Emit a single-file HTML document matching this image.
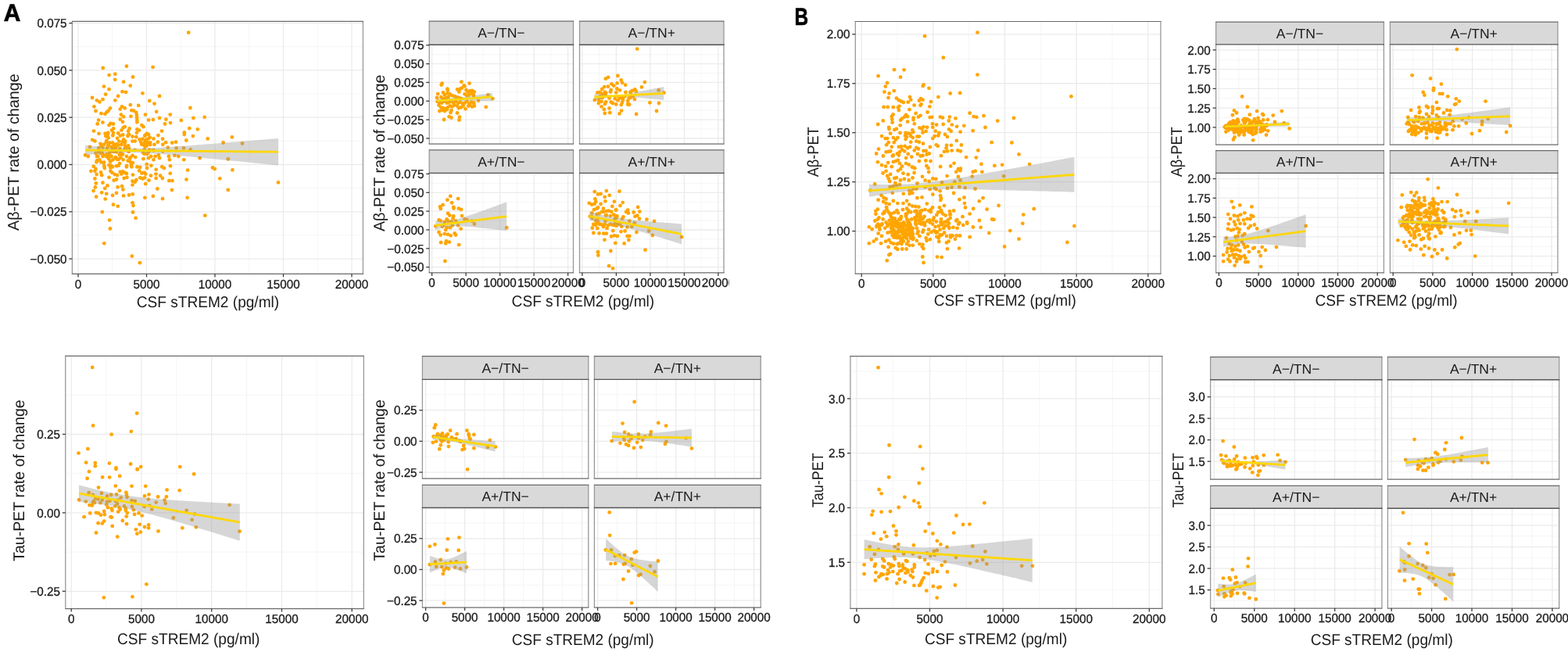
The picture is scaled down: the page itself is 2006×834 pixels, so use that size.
<!DOCTYPE html><html><head><meta charset="utf-8"><title>Figure</title><style>html,body{margin:0;padding:0;background:#fff;}body{width:2006px;height:834px;overflow:hidden;}</style></head><body><svg width="2006" height="834" viewBox="0 0 2006 834" font-family='"Liberation Sans", Arial, sans-serif' fill="#1a1a1a" style="display:block;text-rendering:geometricPrecision">
<rect width="2006" height="834" fill="#fff"/>
<clipPath id="c_A1"><rect x="92.4" y="27.3" width="372.00" height="323.10"/></clipPath>
<rect x="92.4" y="27.3" width="372.00" height="323.10" fill="#fff"/>
<g clip-path="url(#c_A1)"><line x1="143.75" y1="27.3" x2="143.75" y2="350.4" stroke="#f3f3f3" stroke-width="0.8"/><line x1="231.25" y1="27.3" x2="231.25" y2="350.4" stroke="#f3f3f3" stroke-width="0.8"/><line x1="318.75" y1="27.3" x2="318.75" y2="350.4" stroke="#f3f3f3" stroke-width="0.8"/><line x1="406.25" y1="27.3" x2="406.25" y2="350.4" stroke="#f3f3f3" stroke-width="0.8"/><line x1="92.4" y1="59.75" x2="464.4" y2="59.75" stroke="#f3f3f3" stroke-width="0.8"/><line x1="92.4" y1="120.05" x2="464.4" y2="120.05" stroke="#f3f3f3" stroke-width="0.8"/><line x1="92.4" y1="180.35" x2="464.4" y2="180.35" stroke="#f3f3f3" stroke-width="0.8"/><line x1="92.4" y1="240.65" x2="464.4" y2="240.65" stroke="#f3f3f3" stroke-width="0.8"/><line x1="92.4" y1="300.95" x2="464.4" y2="300.95" stroke="#f3f3f3" stroke-width="0.8"/><line x1="100.00" y1="27.3" x2="100.00" y2="350.4" stroke="#ebebeb" stroke-width="1.3"/><line x1="187.50" y1="27.3" x2="187.50" y2="350.4" stroke="#ebebeb" stroke-width="1.3"/><line x1="275.00" y1="27.3" x2="275.00" y2="350.4" stroke="#ebebeb" stroke-width="1.3"/><line x1="362.50" y1="27.3" x2="362.50" y2="350.4" stroke="#ebebeb" stroke-width="1.3"/><line x1="450.00" y1="27.3" x2="450.00" y2="350.4" stroke="#ebebeb" stroke-width="1.3"/><line x1="92.4" y1="29.60" x2="464.4" y2="29.60" stroke="#ebebeb" stroke-width="1.3"/><line x1="92.4" y1="89.90" x2="464.4" y2="89.90" stroke="#ebebeb" stroke-width="1.3"/><line x1="92.4" y1="150.20" x2="464.4" y2="150.20" stroke="#ebebeb" stroke-width="1.3"/><line x1="92.4" y1="210.50" x2="464.4" y2="210.50" stroke="#ebebeb" stroke-width="1.3"/><line x1="92.4" y1="270.80" x2="464.4" y2="270.80" stroke="#ebebeb" stroke-width="1.3"/><line x1="92.4" y1="331.10" x2="464.4" y2="331.10" stroke="#ebebeb" stroke-width="1.3"/></g>
<g clip-path="url(#c_A1)" fill="#ffa500"><circle cx="241.2" cy="41.7" r="2.4"/><circle cx="131.7" cy="87.0" r="2.4"/><circle cx="161.9" cy="84.7" r="2.4"/><circle cx="195.6" cy="85.9" r="2.4"/><circle cx="139.6" cy="96.1" r="2.4"/><circle cx="147.3" cy="94.7" r="2.4"/><circle cx="147.1" cy="101.8" r="2.4"/><circle cx="158.1" cy="104.7" r="2.4"/><circle cx="170.0" cy="98.5" r="2.4"/><circle cx="166.8" cy="109.6" r="2.4"/><circle cx="133.0" cy="110.6" r="2.4"/><circle cx="139.5" cy="114.2" r="2.4"/><circle cx="156.5" cy="117.2" r="2.4"/><circle cx="161.0" cy="117.9" r="2.4"/><circle cx="135.1" cy="120.7" r="2.4"/><circle cx="118.0" cy="125.0" r="2.4"/><circle cx="123.9" cy="128.3" r="2.4"/><circle cx="127.4" cy="130.4" r="2.4"/><circle cx="131.5" cy="127.2" r="2.4"/><circle cx="147.3" cy="128.3" r="2.4"/><circle cx="151.1" cy="122.9" r="2.4"/><circle cx="182.4" cy="119.3" r="2.4"/><circle cx="204.0" cy="122.9" r="2.4"/><circle cx="191.3" cy="129.0" r="2.4"/><circle cx="197.5" cy="132.6" r="2.4"/><circle cx="166.8" cy="134.2" r="2.4"/><circle cx="177.2" cy="134.9" r="2.4"/><circle cx="120.4" cy="136.3" r="2.4"/><circle cx="122.5" cy="142.0" r="2.4"/><circle cx="129.5" cy="145.2" r="2.4"/><circle cx="134.4" cy="145.8" r="2.4"/><circle cx="136.5" cy="143.4" r="2.4"/><circle cx="138.7" cy="141.7" r="2.4"/><circle cx="140.9" cy="138.5" r="2.4"/><circle cx="153.8" cy="139.6" r="2.4"/><circle cx="156.0" cy="136.3" r="2.4"/><circle cx="159.7" cy="138.3" r="2.4"/><circle cx="168.4" cy="141.2" r="2.4"/><circle cx="171.1" cy="141.7" r="2.4"/><circle cx="174.3" cy="143.9" r="2.4"/><circle cx="200.2" cy="142.8" r="2.4"/><circle cx="243.4" cy="138.0" r="2.4"/><circle cx="217.7" cy="146.6" r="2.4"/><circle cx="185.9" cy="146.6" r="2.4"/><circle cx="154.9" cy="146.6" r="2.4"/><circle cx="158.1" cy="149.3" r="2.4"/><circle cx="167.5" cy="148.8" r="2.4"/><circle cx="174.9" cy="147.1" r="2.4"/><circle cx="175.1" cy="150.4" r="2.4"/><circle cx="175.4" cy="153.6" r="2.4"/><circle cx="175.4" cy="156.3" r="2.4"/><circle cx="153.8" cy="152.7" r="2.4"/><circle cx="157.0" cy="155.8" r="2.4"/><circle cx="126.1" cy="153.6" r="2.4"/><circle cx="124.7" cy="158.5" r="2.4"/><circle cx="131.4" cy="156.6" r="2.4"/><circle cx="139.5" cy="160.1" r="2.4"/><circle cx="141.4" cy="157.9" r="2.4"/><circle cx="144.9" cy="158.5" r="2.4"/><circle cx="204.0" cy="150.9" r="2.4"/><circle cx="195.9" cy="153.1" r="2.4"/><circle cx="190.2" cy="153.6" r="2.4"/><circle cx="212.4" cy="152.7" r="2.4"/><circle cx="218.0" cy="157.1" r="2.4"/><circle cx="211.0" cy="158.5" r="2.4"/><circle cx="231.8" cy="153.9" r="2.4"/><circle cx="247.4" cy="150.9" r="2.4"/><circle cx="261.7" cy="149.8" r="2.4"/><circle cx="181.3" cy="160.1" r="2.4"/><circle cx="183.5" cy="162.2" r="2.4"/><circle cx="120.0" cy="167.6" r="2.4"/><circle cx="126.5" cy="170.9" r="2.4"/><circle cx="145.2" cy="164.4" r="2.4"/><circle cx="143.0" cy="166.6" r="2.4"/><circle cx="157.6" cy="163.3" r="2.4"/><circle cx="159.7" cy="162.2" r="2.4"/><circle cx="155.4" cy="166.6" r="2.4"/><circle cx="165.7" cy="164.4" r="2.4"/><circle cx="164.1" cy="167.6" r="2.4"/><circle cx="175.4" cy="165.5" r="2.4"/><circle cx="178.1" cy="166.6" r="2.4"/><circle cx="174.9" cy="169.8" r="2.4"/><circle cx="138.2" cy="169.8" r="2.4"/><circle cx="137.6" cy="173.0" r="2.4"/><circle cx="151.1" cy="170.3" r="2.4"/><circle cx="153.8" cy="173.6" r="2.4"/><circle cx="165.1" cy="172.0" r="2.4"/><circle cx="169.5" cy="174.7" r="2.4"/><circle cx="174.3" cy="175.2" r="2.4"/><circle cx="187.8" cy="170.9" r="2.4"/><circle cx="190.0" cy="172.0" r="2.4"/><circle cx="185.6" cy="173.0" r="2.4"/><circle cx="207.0" cy="167.6" r="2.4"/><circle cx="202.4" cy="173.2" r="2.4"/><circle cx="235.8" cy="169.3" r="2.4"/><circle cx="235.8" cy="172.0" r="2.4"/><circle cx="242.3" cy="164.2" r="2.4"/><circle cx="252.8" cy="165.3" r="2.4"/><circle cx="246.9" cy="174.1" r="2.4"/><circle cx="265.7" cy="177.4" r="2.4"/><circle cx="238.3" cy="179.5" r="2.4"/><circle cx="118.2" cy="178.8" r="2.4"/><circle cx="121.4" cy="180.4" r="2.4"/><circle cx="138.7" cy="176.3" r="2.4"/><circle cx="150.0" cy="176.8" r="2.4"/><circle cx="152.2" cy="180.6" r="2.4"/><circle cx="158.1" cy="178.4" r="2.4"/><circle cx="159.7" cy="182.7" r="2.4"/><circle cx="136.0" cy="181.7" r="2.4"/><circle cx="140.3" cy="182.7" r="2.4"/><circle cx="144.1" cy="182.7" r="2.4"/><circle cx="145.7" cy="184.9" r="2.4"/><circle cx="138.7" cy="185.4" r="2.4"/><circle cx="149.0" cy="186.5" r="2.4"/><circle cx="155.4" cy="184.9" r="2.4"/><circle cx="164.1" cy="186.5" r="2.4"/><circle cx="169.5" cy="180.6" r="2.4"/><circle cx="172.7" cy="180.6" r="2.4"/><circle cx="178.6" cy="178.4" r="2.4"/><circle cx="180.2" cy="181.7" r="2.4"/><circle cx="181.3" cy="184.9" r="2.4"/><circle cx="184.6" cy="182.7" r="2.4"/><circle cx="187.8" cy="178.4" r="2.4"/><circle cx="190.0" cy="182.7" r="2.4"/><circle cx="192.1" cy="184.9" r="2.4"/><circle cx="196.4" cy="177.4" r="2.4"/><circle cx="201.8" cy="181.7" r="2.4"/><circle cx="197.5" cy="184.9" r="2.4"/><circle cx="208.1" cy="177.7" r="2.4"/><circle cx="212.1" cy="182.2" r="2.4"/><circle cx="208.3" cy="184.9" r="2.4"/><circle cx="220.2" cy="182.7" r="2.4"/><circle cx="225.0" cy="181.7" r="2.4"/><circle cx="128.5" cy="183.8" r="2.4"/><circle cx="129.5" cy="186.0" r="2.4"/><circle cx="115.0" cy="187.9" r="2.4"/><circle cx="126.3" cy="189.2" r="2.4"/><circle cx="225.6" cy="189.4" r="2.4"/><circle cx="235.0" cy="189.4" r="2.4"/><circle cx="243.7" cy="191.4" r="2.4"/><circle cx="214.8" cy="188.7" r="2.4"/><circle cx="208.3" cy="193.5" r="2.4"/><circle cx="196.4" cy="192.5" r="2.4"/><circle cx="184.6" cy="191.4" r="2.4"/><circle cx="190.0" cy="194.6" r="2.4"/><circle cx="172.7" cy="191.9" r="2.4"/><circle cx="165.1" cy="189.8" r="2.4"/><circle cx="159.7" cy="189.8" r="2.4"/><circle cx="153.3" cy="189.8" r="2.4"/><circle cx="144.6" cy="189.2" r="2.4"/><circle cx="137.1" cy="189.2" r="2.4"/><circle cx="130.6" cy="195.7" r="2.4"/><circle cx="140.3" cy="195.7" r="2.4"/><circle cx="149.0" cy="194.6" r="2.4"/><circle cx="109.0" cy="198.4" r="2.4"/><circle cx="112.8" cy="200.0" r="2.4"/><circle cx="125.2" cy="200.0" r="2.4"/><circle cx="127.4" cy="204.3" r="2.4"/><circle cx="136.0" cy="200.0" r="2.4"/><circle cx="139.2" cy="203.2" r="2.4"/><circle cx="142.5" cy="200.0" r="2.4"/><circle cx="144.6" cy="204.3" r="2.4"/><circle cx="147.9" cy="201.1" r="2.4"/><circle cx="151.1" cy="203.2" r="2.4"/><circle cx="154.4" cy="201.6" r="2.4"/><circle cx="157.6" cy="204.3" r="2.4"/><circle cx="161.9" cy="200.0" r="2.4"/><circle cx="166.2" cy="202.2" r="2.4"/><circle cx="169.5" cy="198.9" r="2.4"/><circle cx="173.2" cy="201.1" r="2.4"/><circle cx="184.6" cy="196.8" r="2.4"/><circle cx="183.5" cy="203.2" r="2.4"/><circle cx="190.0" cy="202.2" r="2.4"/><circle cx="193.2" cy="200.0" r="2.4"/><circle cx="196.4" cy="204.3" r="2.4"/><circle cx="198.6" cy="200.0" r="2.4"/><circle cx="202.9" cy="198.4" r="2.4"/><circle cx="204.0" cy="202.2" r="2.4"/><circle cx="215.9" cy="200.0" r="2.4"/><circle cx="216.9" cy="204.3" r="2.4"/><circle cx="223.4" cy="198.9" r="2.4"/><circle cx="228.3" cy="200.0" r="2.4"/><circle cx="235.3" cy="204.3" r="2.4"/><circle cx="255.6" cy="202.2" r="2.4"/><circle cx="166.2" cy="206.5" r="2.4"/><circle cx="124.1" cy="205.4" r="2.4"/><circle cx="141.4" cy="206.5" r="2.4"/><circle cx="119.8" cy="212.9" r="2.4"/><circle cx="122.5" cy="216.1" r="2.4"/><circle cx="116.4" cy="218.8" r="2.4"/><circle cx="121.4" cy="218.8" r="2.4"/><circle cx="123.6" cy="223.1" r="2.4"/><circle cx="129.0" cy="220.4" r="2.4"/><circle cx="130.1" cy="224.2" r="2.4"/><circle cx="133.3" cy="212.3" r="2.4"/><circle cx="133.8" cy="215.0" r="2.4"/><circle cx="141.4" cy="214.5" r="2.4"/><circle cx="144.1" cy="213.4" r="2.4"/><circle cx="149.0" cy="212.3" r="2.4"/><circle cx="151.7" cy="211.8" r="2.4"/><circle cx="141.4" cy="218.8" r="2.4"/><circle cx="143.6" cy="220.9" r="2.4"/><circle cx="146.8" cy="223.1" r="2.4"/><circle cx="150.0" cy="224.2" r="2.4"/><circle cx="153.8" cy="219.9" r="2.4"/><circle cx="157.0" cy="219.3" r="2.4"/><circle cx="159.7" cy="220.9" r="2.4"/><circle cx="161.9" cy="222.0" r="2.4"/><circle cx="155.4" cy="222.6" r="2.4"/><circle cx="161.9" cy="213.4" r="2.4"/><circle cx="168.4" cy="213.4" r="2.4"/><circle cx="170.0" cy="223.6" r="2.4"/><circle cx="175.4" cy="213.4" r="2.4"/><circle cx="179.2" cy="213.9" r="2.4"/><circle cx="178.1" cy="218.3" r="2.4"/><circle cx="181.3" cy="221.5" r="2.4"/><circle cx="184.6" cy="220.9" r="2.4"/><circle cx="186.2" cy="222.6" r="2.4"/><circle cx="187.8" cy="210.2" r="2.4"/><circle cx="188.0" cy="215.0" r="2.4"/><circle cx="193.4" cy="211.8" r="2.4"/><circle cx="199.7" cy="216.8" r="2.4"/><circle cx="207.2" cy="213.4" r="2.4"/><circle cx="209.9" cy="215.0" r="2.4"/><circle cx="218.0" cy="212.3" r="2.4"/><circle cx="217.7" cy="221.8" r="2.4"/><circle cx="240.1" cy="217.7" r="2.4"/><circle cx="272.0" cy="214.5" r="2.4"/><circle cx="274.7" cy="216.1" r="2.4"/><circle cx="238.5" cy="229.6" r="2.4"/><circle cx="139.5" cy="226.9" r="2.4"/><circle cx="121.4" cy="228.5" r="2.4"/><circle cx="145.7" cy="230.7" r="2.4"/><circle cx="149.0" cy="229.6" r="2.4"/><circle cx="158.7" cy="228.0" r="2.4"/><circle cx="162.4" cy="226.9" r="2.4"/><circle cx="169.5" cy="231.7" r="2.4"/><circle cx="172.7" cy="232.8" r="2.4"/><circle cx="174.3" cy="230.1" r="2.4"/><circle cx="179.2" cy="227.4" r="2.4"/><circle cx="182.4" cy="228.5" r="2.4"/><circle cx="185.1" cy="227.4" r="2.4"/><circle cx="190.5" cy="230.7" r="2.4"/><circle cx="193.0" cy="224.7" r="2.4"/><circle cx="199.5" cy="222.6" r="2.4"/><circle cx="199.7" cy="228.0" r="2.4"/><circle cx="205.1" cy="224.7" r="2.4"/><circle cx="207.8" cy="228.0" r="2.4"/><circle cx="216.4" cy="231.2" r="2.4"/><circle cx="220.4" cy="231.2" r="2.4"/><circle cx="186.2" cy="235.2" r="2.4"/><circle cx="169.5" cy="236.6" r="2.4"/><circle cx="122.8" cy="234.4" r="2.4"/><circle cx="131.5" cy="233.7" r="2.4"/><circle cx="137.4" cy="237.4" r="2.4"/><circle cx="121.8" cy="239.5" r="2.4"/><circle cx="119.6" cy="244.1" r="2.4"/><circle cx="134.2" cy="240.9" r="2.4"/><circle cx="130.1" cy="246.3" r="2.4"/><circle cx="136.2" cy="247.9" r="2.4"/><circle cx="150.6" cy="239.3" r="2.4"/><circle cx="156.0" cy="238.2" r="2.4"/><circle cx="157.4" cy="242.5" r="2.4"/><circle cx="123.1" cy="251.7" r="2.4"/><circle cx="134.7" cy="254.6" r="2.4"/><circle cx="144.1" cy="249.9" r="2.4"/><circle cx="149.0" cy="246.8" r="2.4"/><circle cx="158.1" cy="250.4" r="2.4"/><circle cx="165.1" cy="249.5" r="2.4"/><circle cx="169.7" cy="248.3" r="2.4"/><circle cx="185.4" cy="252.8" r="2.4"/><circle cx="195.9" cy="250.9" r="2.4"/><circle cx="201.3" cy="241.5" r="2.4"/><circle cx="219.9" cy="243.1" r="2.4"/><circle cx="208.0" cy="254.2" r="2.4"/><circle cx="239.6" cy="252.8" r="2.4"/><circle cx="145.0" cy="261.7" r="2.4"/><circle cx="150.8" cy="263.8" r="2.4"/><circle cx="169.5" cy="259.3" r="2.4"/><circle cx="170.5" cy="263.0" r="2.4"/><circle cx="130.8" cy="271.1" r="2.4"/><circle cx="170.0" cy="271.5" r="2.4"/><circle cx="173.6" cy="278.9" r="2.4"/><circle cx="140.1" cy="281.6" r="2.4"/><circle cx="140.9" cy="292.5" r="2.4"/><circle cx="262.3" cy="275.7" r="2.4"/><circle cx="133.3" cy="311.3" r="2.4"/><circle cx="168.9" cy="327.7" r="2.4"/><circle cx="178.9" cy="336.2" r="2.4"/><circle cx="296.9" cy="175.4" r="2.4"/><circle cx="285.6" cy="182.5" r="2.4"/><circle cx="310.0" cy="183.5" r="2.4"/><circle cx="291.8" cy="203.5" r="2.4"/><circle cx="297.4" cy="217.4" r="2.4"/><circle cx="281.3" cy="228.3" r="2.4"/><circle cx="291.8" cy="242.9" r="2.4"/><circle cx="356.0" cy="233.4" r="2.4"/><circle cx="122.6" cy="196.0" r="2.4"/><circle cx="140.9" cy="206.3" r="2.4"/><circle cx="128.7" cy="196.0" r="2.4"/><circle cx="133.1" cy="207.6" r="2.4"/><circle cx="129.1" cy="207.3" r="2.4"/><circle cx="153.8" cy="196.5" r="2.4"/><circle cx="147.7" cy="202.1" r="2.4"/><circle cx="141.8" cy="211.9" r="2.4"/><circle cx="126.5" cy="194.4" r="2.4"/><circle cx="167.1" cy="201.3" r="2.4"/><circle cx="131.5" cy="199.9" r="2.4"/><circle cx="139.5" cy="211.2" r="2.4"/><circle cx="132.1" cy="197.9" r="2.4"/><circle cx="150.1" cy="203.9" r="2.4"/><circle cx="167.8" cy="209.1" r="2.4"/><circle cx="139.1" cy="197.7" r="2.4"/><circle cx="162.1" cy="211.8" r="2.4"/><circle cx="123.5" cy="207.2" r="2.4"/><circle cx="163.7" cy="205.7" r="2.4"/><circle cx="132.5" cy="208.3" r="2.4"/><circle cx="157.0" cy="197.5" r="2.4"/><circle cx="152.8" cy="197.9" r="2.4"/><circle cx="124.0" cy="200.0" r="2.4"/><circle cx="138.0" cy="201.1" r="2.4"/><circle cx="153.0" cy="209.1" r="2.4"/><circle cx="168.1" cy="211.6" r="2.4"/><circle cx="169.7" cy="208.2" r="2.4"/><circle cx="136.7" cy="197.2" r="2.4"/><circle cx="151.9" cy="203.8" r="2.4"/><circle cx="154.4" cy="195.7" r="2.4"/><circle cx="135.5" cy="174.3" r="2.4"/><circle cx="142.7" cy="188.0" r="2.4"/><circle cx="148.9" cy="184.4" r="2.4"/><circle cx="136.2" cy="180.2" r="2.4"/><circle cx="160.0" cy="180.5" r="2.4"/><circle cx="163.2" cy="187.6" r="2.4"/><circle cx="144.9" cy="170.0" r="2.4"/><circle cx="157.2" cy="172.5" r="2.4"/><circle cx="133.3" cy="184.6" r="2.4"/><circle cx="160.0" cy="186.7" r="2.4"/><circle cx="163.5" cy="174.0" r="2.4"/><circle cx="135.6" cy="172.4" r="2.4"/><circle cx="164.3" cy="172.2" r="2.4"/><circle cx="138.1" cy="170.4" r="2.4"/><circle cx="134.6" cy="170.8" r="2.4"/><circle cx="144.3" cy="173.3" r="2.4"/><circle cx="142.9" cy="188.6" r="2.4"/><circle cx="138.4" cy="186.3" r="2.4"/><circle cx="156.6" cy="181.4" r="2.4"/><circle cx="151.4" cy="185.4" r="2.4"/><circle cx="186.6" cy="182.5" r="2.4"/><circle cx="190.3" cy="177.2" r="2.4"/><circle cx="187.8" cy="186.4" r="2.4"/><circle cx="191.6" cy="175.8" r="2.4"/><circle cx="187.8" cy="182.3" r="2.4"/><circle cx="185.6" cy="187.5" r="2.4"/><circle cx="185.9" cy="179.7" r="2.4"/><circle cx="192.2" cy="182.5" r="2.4"/><circle cx="182.5" cy="177.6" r="2.4"/><circle cx="185.4" cy="173.8" r="2.4"/><circle cx="187.1" cy="184.0" r="2.4"/><circle cx="184.4" cy="185.7" r="2.4"/><circle cx="164.7" cy="193.9" r="2.4"/><circle cx="188.2" cy="197.0" r="2.4"/><circle cx="191.2" cy="191.6" r="2.4"/><circle cx="196.2" cy="192.2" r="2.4"/><circle cx="148.0" cy="188.9" r="2.4"/><circle cx="163.4" cy="189.5" r="2.4"/><circle cx="145.6" cy="194.1" r="2.4"/><circle cx="183.2" cy="195.5" r="2.4"/><circle cx="131.5" cy="188.6" r="2.4"/><circle cx="144.1" cy="193.5" r="2.4"/></g>
<polygon points="109.1,185.8 115.3,186.4 121.5,186.9 127.6,187.4 133.8,187.9 140.0,188.4 146.2,188.8 152.3,189.2 158.5,189.5 164.7,189.7 170.8,189.8 177.0,189.8 183.2,189.7 189.4,189.5 195.6,189.2 201.7,188.9 207.9,188.5 214.1,188.1 220.2,187.7 226.4,187.3 232.6,186.8 238.8,186.4 244.9,185.9 251.1,185.4 257.3,184.9 263.5,184.5 269.6,184.0 275.8,183.5 282.0,183.0 288.2,182.5 294.4,182.1 300.5,181.6 306.7,181.1 312.9,180.6 319.1,180.1 325.2,179.6 331.4,179.1 337.6,178.6 343.8,178.1 349.9,177.6 356.1,177.1 356.1,211.5 349.9,210.9 343.8,210.3 337.6,209.7 331.4,209.1 325.2,208.4 319.1,207.8 312.9,207.2 306.7,206.6 300.5,206.0 294.4,205.4 288.2,204.8 282.0,204.2 275.8,203.6 269.6,203.0 263.5,202.4 257.3,201.8 251.1,201.2 244.9,200.6 238.8,200.1 232.6,199.5 226.4,198.9 220.2,198.4 214.1,197.8 207.9,197.3 201.7,196.9 195.6,196.4 189.4,196.0 183.2,195.7 177.0,195.5 170.8,195.3 164.7,195.3 158.5,195.4 152.3,195.6 146.2,195.8 140.0,196.2 133.8,196.5 127.6,196.9 121.5,197.3 115.3,197.8 109.1,198.2" fill="#999999" fill-opacity="0.4" clip-path="url(#c_A1)"/>
<polyline points="109.1,192.0 115.3,192.1 121.5,192.1 127.6,192.2 133.8,192.2 140.0,192.3 146.2,192.3 152.3,192.4 158.5,192.5 164.7,192.5 170.8,192.6 177.0,192.6 183.2,192.7 189.4,192.8 195.6,192.8 201.7,192.9 207.9,192.9 214.1,193.0 220.2,193.0 226.4,193.1 232.6,193.2 238.8,193.2 244.9,193.3 251.1,193.3 257.3,193.4 263.5,193.4 269.6,193.5 275.8,193.6 282.0,193.6 288.2,193.7 294.4,193.7 300.5,193.8 306.7,193.8 312.9,193.9 319.1,194.0 325.2,194.0 331.4,194.1 337.6,194.1 343.8,194.2 349.9,194.2 356.1,194.3" fill="none" stroke="#ffd700" stroke-width="2.8" clip-path="url(#c_A1)"/>
<path d="M92.4,27.3V350.4M464.4,27.3V350.4" stroke="#999999" stroke-width="1.3" fill="none"/>
<path d="M91.80000000000001,27.3H465.0" stroke="#6a6a6a" stroke-width="1.2" fill="none"/>
<path d="M91.80000000000001,350.4H465.0" stroke="#6a6a6a" stroke-width="1.2" fill="none"/>
<line x1="88.40" y1="29.60" x2="92.4" y2="29.60" stroke="#3a3a3a" stroke-width="1.3"/><line x1="88.40" y1="89.90" x2="92.4" y2="89.90" stroke="#3a3a3a" stroke-width="1.3"/><line x1="88.40" y1="150.20" x2="92.4" y2="150.20" stroke="#3a3a3a" stroke-width="1.3"/><line x1="88.40" y1="210.50" x2="92.4" y2="210.50" stroke="#3a3a3a" stroke-width="1.3"/><line x1="88.40" y1="270.80" x2="92.4" y2="270.80" stroke="#3a3a3a" stroke-width="1.3"/><line x1="88.40" y1="331.10" x2="92.4" y2="331.10" stroke="#3a3a3a" stroke-width="1.3"/><line x1="100.00" y1="350.4" x2="100.00" y2="354.40" stroke="#3a3a3a" stroke-width="1.3"/><line x1="187.50" y1="350.4" x2="187.50" y2="354.40" stroke="#3a3a3a" stroke-width="1.3"/><line x1="275.00" y1="350.4" x2="275.00" y2="354.40" stroke="#3a3a3a" stroke-width="1.3"/><line x1="362.50" y1="350.4" x2="362.50" y2="354.40" stroke="#3a3a3a" stroke-width="1.3"/><line x1="450.00" y1="350.4" x2="450.00" y2="354.40" stroke="#3a3a3a" stroke-width="1.3"/>
<text transform="translate(85.60,35.26) scale(0.965,1)" text-anchor="end" font-size="15.8" stroke="#1a1a1a" stroke-width="0.3">0.075</text>
<text transform="translate(85.60,95.56) scale(0.965,1)" text-anchor="end" font-size="15.8" stroke="#1a1a1a" stroke-width="0.3">0.050</text>
<text transform="translate(85.60,155.86) scale(0.965,1)" text-anchor="end" font-size="15.8" stroke="#1a1a1a" stroke-width="0.3">0.025</text>
<text transform="translate(85.60,216.16) scale(0.965,1)" text-anchor="end" font-size="15.8" stroke="#1a1a1a" stroke-width="0.3">0.000</text>
<text transform="translate(85.60,276.46) scale(0.965,1)" text-anchor="end" font-size="15.8" stroke="#1a1a1a" stroke-width="0.3">−0.025</text>
<text transform="translate(85.60,336.76) scale(0.965,1)" text-anchor="end" font-size="15.8" stroke="#1a1a1a" stroke-width="0.3">−0.050</text>
<text transform="translate(100.00,368.60) scale(0.965,1)" text-anchor="middle" font-size="15.8" stroke="#1a1a1a" stroke-width="0.3">0</text>
<text transform="translate(187.50,368.60) scale(0.965,1)" text-anchor="middle" font-size="15.8" stroke="#1a1a1a" stroke-width="0.3">5000</text>
<text transform="translate(275.00,368.60) scale(0.965,1)" text-anchor="middle" font-size="15.8" stroke="#1a1a1a" stroke-width="0.3">10000</text>
<text transform="translate(362.50,368.60) scale(0.965,1)" text-anchor="middle" font-size="15.8" stroke="#1a1a1a" stroke-width="0.3">15000</text>
<text transform="translate(450.00,368.60) scale(0.965,1)" text-anchor="middle" font-size="15.8" stroke="#1a1a1a" stroke-width="0.3">20000</text>
<rect x="549.2" y="27.2" width="184.30" height="30.00" fill="#d9d9d9"/>
<path d="M549.2,27.2V57.2M733.5,27.2V57.2" stroke="#999999" stroke-width="1.3" fill="none"/>
<path d="M548.6,27.2H734.1" stroke="#6a6a6a" stroke-width="1.2" fill="none"/>
<text x="641.35" y="48.47" text-anchor="middle" font-size="17.5">A−/TN−</text>
<clipPath id="c_A2_00"><rect x="549.2" y="57.2" width="184.30" height="127.00"/></clipPath>
<rect x="549.2" y="57.2" width="184.30" height="127.00" fill="#fff"/>
<g clip-path="url(#c_A2_00)"><line x1="574.35" y1="57.2" x2="574.35" y2="184.2" stroke="#f3f3f3" stroke-width="0.8"/><line x1="617.85" y1="57.2" x2="617.85" y2="184.2" stroke="#f3f3f3" stroke-width="0.8"/><line x1="661.35" y1="57.2" x2="661.35" y2="184.2" stroke="#f3f3f3" stroke-width="0.8"/><line x1="704.85" y1="57.2" x2="704.85" y2="184.2" stroke="#f3f3f3" stroke-width="0.8"/><line x1="549.2" y1="69.70" x2="733.5" y2="69.70" stroke="#f3f3f3" stroke-width="0.8"/><line x1="549.2" y1="93.54" x2="733.5" y2="93.54" stroke="#f3f3f3" stroke-width="0.8"/><line x1="549.2" y1="117.38" x2="733.5" y2="117.38" stroke="#f3f3f3" stroke-width="0.8"/><line x1="549.2" y1="141.22" x2="733.5" y2="141.22" stroke="#f3f3f3" stroke-width="0.8"/><line x1="549.2" y1="165.06" x2="733.5" y2="165.06" stroke="#f3f3f3" stroke-width="0.8"/><line x1="552.60" y1="57.2" x2="552.60" y2="184.2" stroke="#ebebeb" stroke-width="1.3"/><line x1="596.10" y1="57.2" x2="596.10" y2="184.2" stroke="#ebebeb" stroke-width="1.3"/><line x1="639.60" y1="57.2" x2="639.60" y2="184.2" stroke="#ebebeb" stroke-width="1.3"/><line x1="683.10" y1="57.2" x2="683.10" y2="184.2" stroke="#ebebeb" stroke-width="1.3"/><line x1="726.60" y1="57.2" x2="726.60" y2="184.2" stroke="#ebebeb" stroke-width="1.3"/><line x1="549.2" y1="57.78" x2="733.5" y2="57.78" stroke="#ebebeb" stroke-width="1.3"/><line x1="549.2" y1="81.62" x2="733.5" y2="81.62" stroke="#ebebeb" stroke-width="1.3"/><line x1="549.2" y1="105.46" x2="733.5" y2="105.46" stroke="#ebebeb" stroke-width="1.3"/><line x1="549.2" y1="129.30" x2="733.5" y2="129.30" stroke="#ebebeb" stroke-width="1.3"/><line x1="549.2" y1="153.14" x2="733.5" y2="153.14" stroke="#ebebeb" stroke-width="1.3"/><line x1="549.2" y1="176.98" x2="733.5" y2="176.98" stroke="#ebebeb" stroke-width="1.3"/></g>
<g clip-path="url(#c_A2_00)" fill="#ffa500"><circle cx="565.6" cy="106.6" r="2.4"/><circle cx="564.7" cy="108.5" r="2.4"/><circle cx="590.3" cy="104.7" r="2.4"/><circle cx="600.5" cy="106.6" r="2.4"/><circle cx="593.6" cy="109.4" r="2.4"/><circle cx="594.5" cy="110.4" r="2.4"/><circle cx="590.7" cy="112.7" r="2.4"/><circle cx="588.8" cy="113.7" r="2.4"/><circle cx="585.0" cy="114.4" r="2.4"/><circle cx="587.4" cy="117.5" r="2.4"/><circle cx="572.3" cy="113.7" r="2.4"/><circle cx="572.7" cy="115.6" r="2.4"/><circle cx="560.2" cy="120.1" r="2.4"/><circle cx="559.0" cy="124.9" r="2.4"/><circle cx="567.0" cy="118.4" r="2.4"/><circle cx="568.9" cy="121.3" r="2.4"/><circle cx="572.7" cy="119.4" r="2.4"/><circle cx="575.6" cy="120.3" r="2.4"/><circle cx="578.4" cy="122.2" r="2.4"/><circle cx="581.3" cy="123.2" r="2.4"/><circle cx="584.1" cy="124.1" r="2.4"/><circle cx="586.9" cy="125.0" r="2.4"/><circle cx="589.8" cy="126.0" r="2.4"/><circle cx="564.2" cy="124.1" r="2.4"/><circle cx="567.0" cy="126.0" r="2.4"/><circle cx="570.8" cy="125.0" r="2.4"/><circle cx="573.7" cy="124.1" r="2.4"/><circle cx="596.4" cy="115.1" r="2.4"/><circle cx="598.3" cy="117.5" r="2.4"/><circle cx="601.1" cy="116.5" r="2.4"/><circle cx="604.0" cy="116.0" r="2.4"/><circle cx="606.8" cy="117.5" r="2.4"/><circle cx="604.9" cy="120.3" r="2.4"/><circle cx="603.0" cy="118.4" r="2.4"/><circle cx="594.5" cy="120.3" r="2.4"/><circle cx="597.4" cy="122.2" r="2.4"/><circle cx="600.2" cy="121.3" r="2.4"/><circle cx="605.9" cy="122.2" r="2.4"/><circle cx="612.0" cy="128.8" r="2.4"/><circle cx="624.4" cy="121.5" r="2.4"/><circle cx="630.3" cy="126.2" r="2.4"/><circle cx="621.7" cy="136.9" r="2.4"/><circle cx="562.3" cy="130.7" r="2.4"/><circle cx="565.2" cy="131.7" r="2.4"/><circle cx="568.0" cy="129.8" r="2.4"/><circle cx="571.8" cy="131.7" r="2.4"/><circle cx="574.6" cy="130.7" r="2.4"/><circle cx="577.5" cy="129.8" r="2.4"/><circle cx="580.3" cy="131.7" r="2.4"/><circle cx="583.2" cy="129.8" r="2.4"/><circle cx="586.0" cy="131.7" r="2.4"/><circle cx="588.8" cy="130.7" r="2.4"/><circle cx="591.7" cy="132.6" r="2.4"/><circle cx="594.5" cy="131.7" r="2.4"/><circle cx="597.4" cy="129.8" r="2.4"/><circle cx="600.2" cy="132.6" r="2.4"/><circle cx="603.0" cy="130.7" r="2.4"/><circle cx="605.9" cy="131.7" r="2.4"/><circle cx="606.8" cy="135.5" r="2.4"/><circle cx="595.5" cy="139.3" r="2.4"/><circle cx="592.6" cy="135.5" r="2.4"/><circle cx="589.8" cy="137.4" r="2.4"/><circle cx="586.9" cy="138.3" r="2.4"/><circle cx="585.0" cy="135.5" r="2.4"/><circle cx="581.3" cy="134.5" r="2.4"/><circle cx="578.4" cy="136.4" r="2.4"/><circle cx="575.6" cy="135.5" r="2.4"/><circle cx="572.7" cy="137.4" r="2.4"/><circle cx="569.9" cy="139.3" r="2.4"/><circle cx="567.0" cy="138.3" r="2.4"/><circle cx="564.2" cy="137.4" r="2.4"/><circle cx="562.3" cy="142.1" r="2.4"/><circle cx="565.2" cy="141.1" r="2.4"/><circle cx="568.9" cy="142.1" r="2.4"/><circle cx="571.8" cy="140.2" r="2.4"/><circle cx="577.5" cy="141.1" r="2.4"/><circle cx="576.5" cy="144.0" r="2.4"/><circle cx="585.0" cy="144.5" r="2.4"/><circle cx="587.9" cy="149.7" r="2.4"/><circle cx="587.4" cy="153.5" r="2.4"/><circle cx="568.0" cy="153.0" r="2.4"/><circle cx="574.6" cy="149.2" r="2.4"/><circle cx="577.5" cy="150.6" r="2.4"/><circle cx="561.4" cy="134.5" r="2.4"/><circle cx="559.5" cy="129.8" r="2.4"/><circle cx="599.3" cy="135.5" r="2.4"/><circle cx="604.0" cy="136.4" r="2.4"/><circle cx="606.4" cy="131.7" r="2.4"/><circle cx="601.1" cy="134.5" r="2.4"/></g>
<polygon points="559.2,126.0 561.0,126.0 562.7,125.9 564.5,125.9 566.3,125.9 568.0,125.8 569.8,125.8 571.6,125.7 573.3,125.6 575.1,125.5 576.9,125.4 578.6,125.3 580.4,125.2 582.1,125.0 583.9,124.9 585.7,124.7 587.4,124.5 589.2,124.3 591.0,124.2 592.7,124.0 594.5,123.8 596.3,123.5 598.0,123.3 599.8,123.1 601.6,122.8 603.3,122.6 605.1,122.3 606.9,122.1 608.6,121.8 610.4,121.6 612.1,121.3 613.9,121.1 615.7,120.8 617.4,120.5 619.2,120.2 621.0,120.0 622.7,119.7 624.5,119.4 626.3,119.2 628.0,118.9 629.8,118.6 629.8,129.0 628.0,129.0 626.3,129.0 624.5,128.9 622.7,128.9 621.0,128.9 619.2,128.9 617.4,128.9 615.7,128.9 613.9,128.9 612.1,128.9 610.4,128.9 608.6,128.9 606.9,128.9 605.1,128.9 603.3,128.9 601.6,128.9 599.8,128.9 598.0,129.0 596.3,129.0 594.5,129.1 592.7,129.1 591.0,129.2 589.2,129.2 587.4,129.3 585.7,129.4 583.9,129.5 582.1,129.6 580.4,129.7 578.6,129.8 576.9,130.0 575.1,130.2 573.3,130.3 571.6,130.5 569.8,130.7 568.0,130.9 566.3,131.1 564.5,131.3 562.7,131.5 561.0,131.8 559.2,132.0" fill="#999999" fill-opacity="0.4" clip-path="url(#c_A2_00)"/>
<polyline points="559.2,129.0 561.0,128.9 562.7,128.7 564.5,128.6 566.3,128.5 568.0,128.3 569.8,128.2 571.6,128.1 573.3,128.0 575.1,127.8 576.9,127.7 578.6,127.6 580.4,127.4 582.1,127.3 583.9,127.2 585.7,127.0 587.4,126.9 589.2,126.8 591.0,126.7 592.7,126.5 594.5,126.4 596.3,126.3 598.0,126.1 599.8,126.0 601.6,125.9 603.3,125.8 605.1,125.6 606.9,125.5 608.6,125.4 610.4,125.2 612.1,125.1 613.9,125.0 615.7,124.8 617.4,124.7 619.2,124.6 621.0,124.5 622.7,124.3 624.5,124.2 626.3,124.1 628.0,123.9 629.8,123.8" fill="none" stroke="#ffd700" stroke-width="2.8" clip-path="url(#c_A2_00)"/>
<path d="M549.2,57.2V184.2M733.5,57.2V184.2" stroke="#999999" stroke-width="1.3" fill="none"/>
<path d="M548.6,57.2H734.1" stroke="#555555" stroke-width="1.4" fill="none"/>
<path d="M548.6,184.2H734.1" stroke="#6a6a6a" stroke-width="1.2" fill="none"/>
<line x1="545.20" y1="57.78" x2="549.2" y2="57.78" stroke="#3a3a3a" stroke-width="1.3"/><line x1="545.20" y1="81.62" x2="549.2" y2="81.62" stroke="#3a3a3a" stroke-width="1.3"/><line x1="545.20" y1="105.46" x2="549.2" y2="105.46" stroke="#3a3a3a" stroke-width="1.3"/><line x1="545.20" y1="129.30" x2="549.2" y2="129.30" stroke="#3a3a3a" stroke-width="1.3"/><line x1="545.20" y1="153.14" x2="549.2" y2="153.14" stroke="#3a3a3a" stroke-width="1.3"/><line x1="545.20" y1="176.98" x2="549.2" y2="176.98" stroke="#3a3a3a" stroke-width="1.3"/>
<text transform="translate(542.40,63.44) scale(0.965,1)" text-anchor="end" font-size="15.8" stroke="#1a1a1a" stroke-width="0.3">0.075</text>
<text transform="translate(542.40,87.28) scale(0.965,1)" text-anchor="end" font-size="15.8" stroke="#1a1a1a" stroke-width="0.3">0.050</text>
<text transform="translate(542.40,111.12) scale(0.965,1)" text-anchor="end" font-size="15.8" stroke="#1a1a1a" stroke-width="0.3">0.025</text>
<text transform="translate(542.40,134.96) scale(0.965,1)" text-anchor="end" font-size="15.8" stroke="#1a1a1a" stroke-width="0.3">0.000</text>
<text transform="translate(542.40,158.80) scale(0.965,1)" text-anchor="end" font-size="15.8" stroke="#1a1a1a" stroke-width="0.3">−0.025</text>
<text transform="translate(542.40,182.64) scale(0.965,1)" text-anchor="end" font-size="15.8" stroke="#1a1a1a" stroke-width="0.3">−0.050</text>
<rect x="741.5" y="27.2" width="184.50" height="30.00" fill="#d9d9d9"/>
<path d="M741.5,27.2V57.2M926.0,27.2V57.2" stroke="#999999" stroke-width="1.3" fill="none"/>
<path d="M740.9,27.2H926.6" stroke="#6a6a6a" stroke-width="1.2" fill="none"/>
<text x="833.75" y="48.47" text-anchor="middle" font-size="17.5">A−/TN+</text>
<clipPath id="c_A2_01"><rect x="741.5" y="57.2" width="184.50" height="127.00"/></clipPath>
<rect x="741.5" y="57.2" width="184.50" height="127.00" fill="#fff"/>
<g clip-path="url(#c_A2_01)"><line x1="766.65" y1="57.2" x2="766.65" y2="184.2" stroke="#f3f3f3" stroke-width="0.8"/><line x1="810.15" y1="57.2" x2="810.15" y2="184.2" stroke="#f3f3f3" stroke-width="0.8"/><line x1="853.65" y1="57.2" x2="853.65" y2="184.2" stroke="#f3f3f3" stroke-width="0.8"/><line x1="897.15" y1="57.2" x2="897.15" y2="184.2" stroke="#f3f3f3" stroke-width="0.8"/><line x1="741.5" y1="69.70" x2="926.0" y2="69.70" stroke="#f3f3f3" stroke-width="0.8"/><line x1="741.5" y1="93.54" x2="926.0" y2="93.54" stroke="#f3f3f3" stroke-width="0.8"/><line x1="741.5" y1="117.38" x2="926.0" y2="117.38" stroke="#f3f3f3" stroke-width="0.8"/><line x1="741.5" y1="141.22" x2="926.0" y2="141.22" stroke="#f3f3f3" stroke-width="0.8"/><line x1="741.5" y1="165.06" x2="926.0" y2="165.06" stroke="#f3f3f3" stroke-width="0.8"/><line x1="744.90" y1="57.2" x2="744.90" y2="184.2" stroke="#ebebeb" stroke-width="1.3"/><line x1="788.40" y1="57.2" x2="788.40" y2="184.2" stroke="#ebebeb" stroke-width="1.3"/><line x1="831.90" y1="57.2" x2="831.90" y2="184.2" stroke="#ebebeb" stroke-width="1.3"/><line x1="875.40" y1="57.2" x2="875.40" y2="184.2" stroke="#ebebeb" stroke-width="1.3"/><line x1="918.90" y1="57.2" x2="918.90" y2="184.2" stroke="#ebebeb" stroke-width="1.3"/><line x1="741.5" y1="57.78" x2="926.0" y2="57.78" stroke="#ebebeb" stroke-width="1.3"/><line x1="741.5" y1="81.62" x2="926.0" y2="81.62" stroke="#ebebeb" stroke-width="1.3"/><line x1="741.5" y1="105.46" x2="926.0" y2="105.46" stroke="#ebebeb" stroke-width="1.3"/><line x1="741.5" y1="129.30" x2="926.0" y2="129.30" stroke="#ebebeb" stroke-width="1.3"/><line x1="741.5" y1="153.14" x2="926.0" y2="153.14" stroke="#ebebeb" stroke-width="1.3"/><line x1="741.5" y1="176.98" x2="926.0" y2="176.98" stroke="#ebebeb" stroke-width="1.3"/></g>
<g clip-path="url(#c_A2_01)" fill="#ffa500"><circle cx="815.1" cy="62.6" r="2.4"/><circle cx="790.3" cy="97.0" r="2.4"/><circle cx="774.8" cy="100.7" r="2.4"/><circle cx="778.1" cy="98.9" r="2.4"/><circle cx="794.7" cy="102.5" r="2.4"/><circle cx="796.1" cy="105.8" r="2.4"/><circle cx="800.1" cy="108.7" r="2.4"/><circle cx="789.6" cy="106.4" r="2.4"/><circle cx="782.4" cy="107.5" r="2.4"/><circle cx="785.3" cy="109.7" r="2.4"/><circle cx="777.8" cy="110.7" r="2.4"/><circle cx="773.1" cy="111.1" r="2.4"/><circle cx="770.2" cy="114.0" r="2.4"/><circle cx="789.3" cy="113.5" r="2.4"/><circle cx="824.9" cy="105.1" r="2.4"/><circle cx="820.9" cy="111.4" r="2.4"/><circle cx="812.4" cy="114.4" r="2.4"/><circle cx="813.7" cy="116.9" r="2.4"/><circle cx="806.9" cy="117.6" r="2.4"/><circle cx="800.4" cy="118.0" r="2.4"/><circle cx="764.4" cy="118.3" r="2.4"/><circle cx="773.8" cy="117.6" r="2.4"/><circle cx="775.2" cy="119.0" r="2.4"/><circle cx="781.0" cy="117.6" r="2.4"/><circle cx="770.9" cy="120.5" r="2.4"/><circle cx="774.5" cy="121.9" r="2.4"/><circle cx="768.0" cy="123.3" r="2.4"/><circle cx="779.5" cy="125.5" r="2.4"/><circle cx="786.7" cy="126.2" r="2.4"/><circle cx="792.5" cy="125.5" r="2.4"/><circle cx="795.4" cy="124.8" r="2.4"/><circle cx="760.8" cy="127.9" r="2.4"/><circle cx="765.9" cy="127.7" r="2.4"/><circle cx="769.5" cy="129.8" r="2.4"/><circle cx="775.2" cy="130.5" r="2.4"/><circle cx="765.9" cy="132.0" r="2.4"/><circle cx="773.8" cy="133.1" r="2.4"/><circle cx="781.7" cy="130.5" r="2.4"/><circle cx="783.9" cy="132.0" r="2.4"/><circle cx="788.2" cy="133.4" r="2.4"/><circle cx="794.7" cy="134.1" r="2.4"/><circle cx="803.3" cy="129.1" r="2.4"/><circle cx="803.3" cy="133.7" r="2.4"/><circle cx="811.9" cy="126.9" r="2.4"/><circle cx="806.9" cy="124.8" r="2.4"/><circle cx="831.4" cy="131.3" r="2.4"/><circle cx="842.9" cy="132.0" r="2.4"/><circle cx="840.0" cy="142.0" r="2.4"/><circle cx="814.1" cy="145.9" r="2.4"/><circle cx="792.5" cy="145.4" r="2.4"/><circle cx="795.1" cy="141.6" r="2.4"/><circle cx="779.5" cy="138.5" r="2.4"/><circle cx="780.3" cy="144.2" r="2.4"/><circle cx="773.8" cy="144.9" r="2.4"/><circle cx="772.8" cy="139.9" r="2.4"/><circle cx="769.5" cy="136.3" r="2.4"/><circle cx="842.6" cy="115.4" r="2.4"/><circle cx="849.4" cy="118.7" r="2.4"/><circle cx="791.1" cy="123.3" r="2.4"/><circle cx="796.8" cy="127.7" r="2.4"/><circle cx="809.0" cy="115.8" r="2.4"/><circle cx="797.3" cy="124.5" r="2.4"/><circle cx="807.3" cy="122.9" r="2.4"/><circle cx="806.3" cy="117.9" r="2.4"/><circle cx="809.8" cy="123.0" r="2.4"/><circle cx="772.2" cy="121.7" r="2.4"/><circle cx="792.9" cy="115.4" r="2.4"/><circle cx="781.6" cy="114.9" r="2.4"/><circle cx="766.9" cy="118.1" r="2.4"/><circle cx="774.4" cy="120.2" r="2.4"/><circle cx="799.7" cy="123.1" r="2.4"/><circle cx="803.4" cy="132.8" r="2.4"/><circle cx="805.1" cy="133.8" r="2.4"/><circle cx="790.4" cy="128.3" r="2.4"/><circle cx="804.5" cy="125.7" r="2.4"/><circle cx="770.3" cy="125.2" r="2.4"/><circle cx="788.2" cy="118.3" r="2.4"/><circle cx="768.0" cy="118.4" r="2.4"/><circle cx="796.0" cy="131.1" r="2.4"/><circle cx="794.1" cy="123.3" r="2.4"/></g>
<polygon points="760.5,119.9 762.7,120.1 764.9,120.3 767.1,120.5 769.4,120.6 771.6,120.8 773.8,121.0 776.0,121.2 778.2,121.4 780.5,121.6 782.7,121.8 784.9,121.9 787.1,122.0 789.3,122.0 791.5,121.9 793.8,121.6 796.0,121.2 798.2,120.8 800.4,120.4 802.6,120.0 804.9,119.6 807.1,119.1 809.3,118.7 811.5,118.3 813.7,117.9 815.9,117.4 818.1,117.0 820.4,116.6 822.6,116.1 824.8,115.7 827.0,115.3 829.2,114.8 831.5,114.4 833.7,114.0 835.9,113.5 838.1,113.1 840.3,112.7 842.5,112.2 844.8,111.8 847.0,111.4 849.2,111.0 849.2,127.8 847.0,127.7 844.8,127.5 842.5,127.2 840.3,127.0 838.1,126.9 835.9,126.7 833.7,126.5 831.5,126.3 829.2,126.1 827.0,125.9 824.8,125.7 822.6,125.5 820.4,125.3 818.1,125.1 815.9,124.9 813.7,124.7 811.5,124.5 809.3,124.3 807.1,124.1 804.9,123.9 802.6,123.8 800.4,123.6 798.2,123.4 796.0,123.2 793.8,123.1 791.5,123.0 789.3,123.1 787.1,123.4 784.9,123.7 782.7,124.1 780.5,124.5 778.2,124.9 776.0,125.3 773.8,125.8 771.6,126.2 769.4,126.6 767.1,127.0 764.9,127.5 762.7,127.9 760.5,128.3" fill="#999999" fill-opacity="0.4" clip-path="url(#c_A2_01)"/>
<polyline points="760.5,124.1 762.7,124.0 764.9,123.9 767.1,123.8 769.4,123.6 771.6,123.5 773.8,123.4 776.0,123.3 778.2,123.2 780.5,123.0 782.7,122.9 784.9,122.8 787.1,122.7 789.3,122.6 791.5,122.5 793.8,122.3 796.0,122.2 798.2,122.1 800.4,122.0 802.6,121.9 804.9,121.8 807.1,121.6 809.3,121.5 811.5,121.4 813.7,121.3 815.9,121.2 818.1,121.0 820.4,120.9 822.6,120.8 824.8,120.7 827.0,120.6 829.2,120.5 831.5,120.3 833.7,120.2 835.9,120.1 838.1,120.0 840.3,119.9 842.5,119.8 844.8,119.6 847.0,119.5 849.2,119.4" fill="none" stroke="#ffd700" stroke-width="2.8" clip-path="url(#c_A2_01)"/>
<path d="M741.5,57.2V184.2M926.0,57.2V184.2" stroke="#999999" stroke-width="1.3" fill="none"/>
<path d="M740.9,57.2H926.6" stroke="#555555" stroke-width="1.4" fill="none"/>
<path d="M740.9,184.2H926.6" stroke="#6a6a6a" stroke-width="1.2" fill="none"/>

<rect x="549.2" y="191.9" width="184.30" height="29.50" fill="#d9d9d9"/>
<path d="M549.2,191.9V221.4M733.5,191.9V221.4" stroke="#999999" stroke-width="1.3" fill="none"/>
<path d="M548.6,191.9H734.1" stroke="#6a6a6a" stroke-width="1.2" fill="none"/>
<text x="641.35" y="212.91" text-anchor="middle" font-size="17.5">A+/TN−</text>
<clipPath id="c_A2_10"><rect x="549.2" y="221.4" width="184.30" height="127.50"/></clipPath>
<rect x="549.2" y="221.4" width="184.30" height="127.50" fill="#fff"/>
<g clip-path="url(#c_A2_10)"><line x1="574.35" y1="221.4" x2="574.35" y2="348.9" stroke="#f3f3f3" stroke-width="0.8"/><line x1="617.85" y1="221.4" x2="617.85" y2="348.9" stroke="#f3f3f3" stroke-width="0.8"/><line x1="661.35" y1="221.4" x2="661.35" y2="348.9" stroke="#f3f3f3" stroke-width="0.8"/><line x1="704.85" y1="221.4" x2="704.85" y2="348.9" stroke="#f3f3f3" stroke-width="0.8"/><line x1="549.2" y1="234.40" x2="733.5" y2="234.40" stroke="#f3f3f3" stroke-width="0.8"/><line x1="549.2" y1="258.24" x2="733.5" y2="258.24" stroke="#f3f3f3" stroke-width="0.8"/><line x1="549.2" y1="282.08" x2="733.5" y2="282.08" stroke="#f3f3f3" stroke-width="0.8"/><line x1="549.2" y1="305.92" x2="733.5" y2="305.92" stroke="#f3f3f3" stroke-width="0.8"/><line x1="549.2" y1="329.76" x2="733.5" y2="329.76" stroke="#f3f3f3" stroke-width="0.8"/><line x1="552.60" y1="221.4" x2="552.60" y2="348.9" stroke="#ebebeb" stroke-width="1.3"/><line x1="596.10" y1="221.4" x2="596.10" y2="348.9" stroke="#ebebeb" stroke-width="1.3"/><line x1="639.60" y1="221.4" x2="639.60" y2="348.9" stroke="#ebebeb" stroke-width="1.3"/><line x1="683.10" y1="221.4" x2="683.10" y2="348.9" stroke="#ebebeb" stroke-width="1.3"/><line x1="726.60" y1="221.4" x2="726.60" y2="348.9" stroke="#ebebeb" stroke-width="1.3"/><line x1="549.2" y1="222.48" x2="733.5" y2="222.48" stroke="#ebebeb" stroke-width="1.3"/><line x1="549.2" y1="246.32" x2="733.5" y2="246.32" stroke="#ebebeb" stroke-width="1.3"/><line x1="549.2" y1="270.16" x2="733.5" y2="270.16" stroke="#ebebeb" stroke-width="1.3"/><line x1="549.2" y1="294.00" x2="733.5" y2="294.00" stroke="#ebebeb" stroke-width="1.3"/><line x1="549.2" y1="317.84" x2="733.5" y2="317.84" stroke="#ebebeb" stroke-width="1.3"/><line x1="549.2" y1="341.68" x2="733.5" y2="341.68" stroke="#ebebeb" stroke-width="1.3"/></g>
<g clip-path="url(#c_A2_10)" fill="#ffa500"><circle cx="576.2" cy="250.9" r="2.4"/><circle cx="586.0" cy="254.1" r="2.4"/><circle cx="572.3" cy="255.7" r="2.4"/><circle cx="578.1" cy="259.3" r="2.4"/><circle cx="566.6" cy="262.1" r="2.4"/><circle cx="563.0" cy="264.3" r="2.4"/><circle cx="563.7" cy="267.0" r="2.4"/><circle cx="580.2" cy="265.0" r="2.4"/><circle cx="580.5" cy="266.5" r="2.4"/><circle cx="586.7" cy="266.7" r="2.4"/><circle cx="590.0" cy="267.9" r="2.4"/><circle cx="573.0" cy="272.9" r="2.4"/><circle cx="575.2" cy="275.4" r="2.4"/><circle cx="580.2" cy="276.5" r="2.4"/><circle cx="591.0" cy="276.1" r="2.4"/><circle cx="579.5" cy="279.4" r="2.4"/><circle cx="571.6" cy="280.4" r="2.4"/><circle cx="561.5" cy="281.4" r="2.4"/><circle cx="563.7" cy="282.3" r="2.4"/><circle cx="568.7" cy="284.0" r="2.4"/><circle cx="573.0" cy="282.6" r="2.4"/><circle cx="577.3" cy="283.3" r="2.4"/><circle cx="583.1" cy="282.6" r="2.4"/><circle cx="586.0" cy="288.3" r="2.4"/><circle cx="594.6" cy="280.4" r="2.4"/><circle cx="597.5" cy="281.4" r="2.4"/><circle cx="604.0" cy="282.6" r="2.4"/><circle cx="606.9" cy="286.5" r="2.4"/><circle cx="557.2" cy="289.3" r="2.4"/><circle cx="565.8" cy="289.8" r="2.4"/><circle cx="571.6" cy="291.2" r="2.4"/><circle cx="575.9" cy="291.2" r="2.4"/><circle cx="570.2" cy="294.1" r="2.4"/><circle cx="561.5" cy="297.0" r="2.4"/><circle cx="563.7" cy="300.6" r="2.4"/><circle cx="568.7" cy="299.1" r="2.4"/><circle cx="573.0" cy="299.9" r="2.4"/><circle cx="576.6" cy="301.3" r="2.4"/><circle cx="581.7" cy="298.4" r="2.4"/><circle cx="583.1" cy="300.6" r="2.4"/><circle cx="589.6" cy="292.7" r="2.4"/><circle cx="564.1" cy="310.2" r="2.4"/><circle cx="570.2" cy="311.4" r="2.4"/><circle cx="570.9" cy="308.5" r="2.4"/><circle cx="574.8" cy="309.6" r="2.4"/><circle cx="587.1" cy="313.2" r="2.4"/><circle cx="569.4" cy="334.0" r="2.4"/><circle cx="648.2" cy="291.2" r="2.4"/><circle cx="567.3" cy="288.3" r="2.4"/><circle cx="578.8" cy="288.3" r="2.4"/></g>
<polygon points="557.2,282.5 559.5,282.6 561.8,282.7 564.0,282.8 566.3,282.8 568.6,282.7 570.9,282.6 573.1,282.4 575.4,282.2 577.7,281.8 580.0,281.4 582.2,280.9 584.5,280.4 586.8,279.8 589.0,279.1 591.3,278.4 593.6,277.8 595.9,277.0 598.1,276.3 600.4,275.5 602.7,274.8 605.0,274.0 607.2,273.2 609.5,272.4 611.8,271.6 614.1,270.8 616.4,270.0 618.6,269.2 620.9,268.4 623.2,267.6 625.5,266.7 627.7,265.9 630.0,265.1 632.3,264.3 634.5,263.4 636.8,262.6 639.1,261.8 641.4,260.9 643.6,260.1 645.9,259.3 648.2,258.4 648.2,295.1 645.9,294.9 643.6,294.6 641.4,294.4 639.1,294.1 636.8,293.9 634.5,293.6 632.3,293.4 630.0,293.1 627.7,292.9 625.5,292.6 623.2,292.4 620.9,292.1 618.6,291.9 616.4,291.7 614.1,291.4 611.8,291.2 609.5,291.0 607.2,290.8 605.0,290.6 602.7,290.3 600.4,290.1 598.1,290.0 595.9,289.8 593.6,289.6 591.3,289.5 589.0,289.4 586.8,289.4 584.5,289.3 582.2,289.4 580.0,289.4 577.7,289.6 575.4,289.8 573.1,290.1 570.9,290.5 568.6,291.0 566.3,291.5 564.0,292.1 561.8,292.7 559.5,293.4 557.2,294.1" fill="#999999" fill-opacity="0.4" clip-path="url(#c_A2_10)"/>
<polyline points="557.2,288.3 559.5,288.0 561.8,287.7 564.0,287.4 566.3,287.1 568.6,286.9 570.9,286.6 573.1,286.3 575.4,286.0 577.7,285.7 580.0,285.4 582.2,285.1 584.5,284.9 586.8,284.6 589.0,284.3 591.3,284.0 593.6,283.7 595.9,283.4 598.1,283.1 600.4,282.8 602.7,282.6 605.0,282.3 607.2,282.0 609.5,281.7 611.8,281.4 614.1,281.1 616.4,280.8 618.6,280.5 620.9,280.2 623.2,280.0 625.5,279.7 627.7,279.4 630.0,279.1 632.3,278.8 634.5,278.5 636.8,278.2 639.1,277.9 641.4,277.7 643.6,277.4 645.9,277.1 648.2,276.8" fill="none" stroke="#ffd700" stroke-width="2.8" clip-path="url(#c_A2_10)"/>
<path d="M549.2,221.4V348.9M733.5,221.4V348.9" stroke="#999999" stroke-width="1.3" fill="none"/>
<path d="M548.6,221.4H734.1" stroke="#555555" stroke-width="1.4" fill="none"/>
<path d="M548.6,348.9H734.1" stroke="#6a6a6a" stroke-width="1.2" fill="none"/>
<line x1="545.20" y1="222.48" x2="549.2" y2="222.48" stroke="#3a3a3a" stroke-width="1.3"/><line x1="545.20" y1="246.32" x2="549.2" y2="246.32" stroke="#3a3a3a" stroke-width="1.3"/><line x1="545.20" y1="270.16" x2="549.2" y2="270.16" stroke="#3a3a3a" stroke-width="1.3"/><line x1="545.20" y1="294.00" x2="549.2" y2="294.00" stroke="#3a3a3a" stroke-width="1.3"/><line x1="545.20" y1="317.84" x2="549.2" y2="317.84" stroke="#3a3a3a" stroke-width="1.3"/><line x1="545.20" y1="341.68" x2="549.2" y2="341.68" stroke="#3a3a3a" stroke-width="1.3"/><line x1="552.60" y1="348.9" x2="552.60" y2="352.90" stroke="#3a3a3a" stroke-width="1.3"/><line x1="596.10" y1="348.9" x2="596.10" y2="352.90" stroke="#3a3a3a" stroke-width="1.3"/><line x1="639.60" y1="348.9" x2="639.60" y2="352.90" stroke="#3a3a3a" stroke-width="1.3"/><line x1="683.10" y1="348.9" x2="683.10" y2="352.90" stroke="#3a3a3a" stroke-width="1.3"/><line x1="726.60" y1="348.9" x2="726.60" y2="352.90" stroke="#3a3a3a" stroke-width="1.3"/>
<text transform="translate(542.40,228.14) scale(0.965,1)" text-anchor="end" font-size="15.8" stroke="#1a1a1a" stroke-width="0.3">0.075</text>
<text transform="translate(542.40,251.98) scale(0.965,1)" text-anchor="end" font-size="15.8" stroke="#1a1a1a" stroke-width="0.3">0.050</text>
<text transform="translate(542.40,275.82) scale(0.965,1)" text-anchor="end" font-size="15.8" stroke="#1a1a1a" stroke-width="0.3">0.025</text>
<text transform="translate(542.40,299.66) scale(0.965,1)" text-anchor="end" font-size="15.8" stroke="#1a1a1a" stroke-width="0.3">0.000</text>
<text transform="translate(542.40,323.50) scale(0.965,1)" text-anchor="end" font-size="15.8" stroke="#1a1a1a" stroke-width="0.3">−0.025</text>
<text transform="translate(542.40,347.34) scale(0.965,1)" text-anchor="end" font-size="15.8" stroke="#1a1a1a" stroke-width="0.3">−0.050</text>
<text transform="translate(552.60,367.10) scale(0.965,1)" text-anchor="middle" font-size="15.8" stroke="#1a1a1a" stroke-width="0.3">0</text>
<text transform="translate(596.10,367.10) scale(0.965,1)" text-anchor="middle" font-size="15.8" stroke="#1a1a1a" stroke-width="0.3">5000</text>
<text transform="translate(639.60,367.10) scale(0.965,1)" text-anchor="middle" font-size="15.8" stroke="#1a1a1a" stroke-width="0.3">10000</text>
<text transform="translate(683.10,367.10) scale(0.965,1)" text-anchor="middle" font-size="15.8" stroke="#1a1a1a" stroke-width="0.3">15000</text>
<text transform="translate(726.60,367.10) scale(0.965,1)" text-anchor="middle" font-size="15.8" stroke="#1a1a1a" stroke-width="0.3">20000</text>
<rect x="741.5" y="191.9" width="184.50" height="29.50" fill="#d9d9d9"/>
<path d="M741.5,191.9V221.4M926.0,191.9V221.4" stroke="#999999" stroke-width="1.3" fill="none"/>
<path d="M740.9,191.9H926.6" stroke="#6a6a6a" stroke-width="1.2" fill="none"/>
<text x="833.75" y="212.91" text-anchor="middle" font-size="17.5">A+/TN+</text>
<clipPath id="c_A2_11"><rect x="741.5" y="221.4" width="184.50" height="127.50"/></clipPath>
<rect x="741.5" y="221.4" width="184.50" height="127.50" fill="#fff"/>
<g clip-path="url(#c_A2_11)"><line x1="766.65" y1="221.4" x2="766.65" y2="348.9" stroke="#f3f3f3" stroke-width="0.8"/><line x1="810.15" y1="221.4" x2="810.15" y2="348.9" stroke="#f3f3f3" stroke-width="0.8"/><line x1="853.65" y1="221.4" x2="853.65" y2="348.9" stroke="#f3f3f3" stroke-width="0.8"/><line x1="897.15" y1="221.4" x2="897.15" y2="348.9" stroke="#f3f3f3" stroke-width="0.8"/><line x1="741.5" y1="234.40" x2="926.0" y2="234.40" stroke="#f3f3f3" stroke-width="0.8"/><line x1="741.5" y1="258.24" x2="926.0" y2="258.24" stroke="#f3f3f3" stroke-width="0.8"/><line x1="741.5" y1="282.08" x2="926.0" y2="282.08" stroke="#f3f3f3" stroke-width="0.8"/><line x1="741.5" y1="305.92" x2="926.0" y2="305.92" stroke="#f3f3f3" stroke-width="0.8"/><line x1="741.5" y1="329.76" x2="926.0" y2="329.76" stroke="#f3f3f3" stroke-width="0.8"/><line x1="744.90" y1="221.4" x2="744.90" y2="348.9" stroke="#ebebeb" stroke-width="1.3"/><line x1="788.40" y1="221.4" x2="788.40" y2="348.9" stroke="#ebebeb" stroke-width="1.3"/><line x1="831.90" y1="221.4" x2="831.90" y2="348.9" stroke="#ebebeb" stroke-width="1.3"/><line x1="875.40" y1="221.4" x2="875.40" y2="348.9" stroke="#ebebeb" stroke-width="1.3"/><line x1="918.90" y1="221.4" x2="918.90" y2="348.9" stroke="#ebebeb" stroke-width="1.3"/><line x1="741.5" y1="222.48" x2="926.0" y2="222.48" stroke="#ebebeb" stroke-width="1.3"/><line x1="741.5" y1="246.32" x2="926.0" y2="246.32" stroke="#ebebeb" stroke-width="1.3"/><line x1="741.5" y1="270.16" x2="926.0" y2="270.16" stroke="#ebebeb" stroke-width="1.3"/><line x1="741.5" y1="294.00" x2="926.0" y2="294.00" stroke="#ebebeb" stroke-width="1.3"/><line x1="741.5" y1="317.84" x2="926.0" y2="317.84" stroke="#ebebeb" stroke-width="1.3"/><line x1="741.5" y1="341.68" x2="926.0" y2="341.68" stroke="#ebebeb" stroke-width="1.3"/></g>
<g clip-path="url(#c_A2_11)" fill="#ffa500"><circle cx="760.7" cy="245.2" r="2.4"/><circle cx="775.8" cy="244.1" r="2.4"/><circle cx="792.4" cy="244.7" r="2.4"/><circle cx="765.0" cy="248.5" r="2.4"/><circle cx="768.6" cy="248.0" r="2.4"/><circle cx="773.7" cy="251.9" r="2.4"/><circle cx="779.7" cy="249.8" r="2.4"/><circle cx="761.4" cy="254.5" r="2.4"/><circle cx="762.2" cy="258.1" r="2.4"/><circle cx="753.8" cy="259.8" r="2.4"/><circle cx="757.1" cy="261.7" r="2.4"/><circle cx="760.7" cy="260.7" r="2.4"/><circle cx="768.6" cy="261.0" r="2.4"/><circle cx="774.4" cy="257.4" r="2.4"/><circle cx="785.9" cy="257.8" r="2.4"/><circle cx="796.7" cy="259.1" r="2.4"/><circle cx="793.4" cy="263.1" r="2.4"/><circle cx="783.3" cy="263.9" r="2.4"/><circle cx="816.1" cy="265.0" r="2.4"/><circle cx="818.3" cy="270.6" r="2.4"/><circle cx="810.7" cy="271.5" r="2.4"/><circle cx="801.0" cy="271.1" r="2.4"/><circle cx="803.2" cy="268.6" r="2.4"/><circle cx="803.9" cy="272.5" r="2.4"/><circle cx="787.8" cy="268.6" r="2.4"/><circle cx="778.7" cy="269.6" r="2.4"/><circle cx="782.3" cy="270.8" r="2.4"/><circle cx="771.9" cy="266.7" r="2.4"/><circle cx="760.0" cy="268.2" r="2.4"/><circle cx="763.6" cy="266.7" r="2.4"/><circle cx="765.0" cy="265.3" r="2.4"/><circle cx="772.2" cy="271.1" r="2.4"/><circle cx="775.1" cy="275.4" r="2.4"/><circle cx="780.9" cy="276.1" r="2.4"/><circle cx="785.2" cy="274.7" r="2.4"/><circle cx="788.1" cy="278.3" r="2.4"/><circle cx="797.4" cy="277.5" r="2.4"/><circle cx="796.0" cy="279.7" r="2.4"/><circle cx="812.5" cy="276.8" r="2.4"/><circle cx="815.4" cy="275.7" r="2.4"/><circle cx="817.9" cy="279.7" r="2.4"/><circle cx="827.4" cy="280.7" r="2.4"/><circle cx="837.0" cy="282.9" r="2.4"/><circle cx="754.7" cy="276.8" r="2.4"/><circle cx="757.8" cy="279.0" r="2.4"/><circle cx="763.6" cy="273.9" r="2.4"/><circle cx="766.5" cy="273.2" r="2.4"/><circle cx="759.3" cy="286.9" r="2.4"/><circle cx="763.6" cy="285.5" r="2.4"/><circle cx="767.2" cy="286.9" r="2.4"/><circle cx="765.0" cy="284.0" r="2.4"/><circle cx="757.8" cy="291.5" r="2.4"/><circle cx="764.3" cy="291.9" r="2.4"/><circle cx="773.7" cy="286.9" r="2.4"/><circle cx="778.0" cy="288.3" r="2.4"/><circle cx="776.5" cy="291.9" r="2.4"/><circle cx="780.9" cy="286.9" r="2.4"/><circle cx="786.6" cy="288.3" r="2.4"/><circle cx="793.1" cy="286.9" r="2.4"/><circle cx="795.3" cy="289.8" r="2.4"/><circle cx="802.5" cy="290.5" r="2.4"/><circle cx="805.3" cy="282.6" r="2.4"/><circle cx="808.2" cy="290.1" r="2.4"/><circle cx="811.8" cy="285.2" r="2.4"/><circle cx="784.2" cy="295.2" r="2.4"/><circle cx="794.5" cy="296.3" r="2.4"/><circle cx="799.6" cy="295.5" r="2.4"/><circle cx="814.4" cy="297.0" r="2.4"/><circle cx="830.1" cy="295.5" r="2.4"/><circle cx="834.8" cy="301.0" r="2.4"/><circle cx="759.3" cy="298.0" r="2.4"/><circle cx="766.5" cy="298.4" r="2.4"/><circle cx="772.2" cy="298.7" r="2.4"/><circle cx="775.8" cy="298.7" r="2.4"/><circle cx="782.0" cy="302.4" r="2.4"/><circle cx="785.9" cy="301.3" r="2.4"/><circle cx="789.9" cy="302.0" r="2.4"/><circle cx="802.5" cy="302.0" r="2.4"/><circle cx="805.3" cy="302.0" r="2.4"/><circle cx="804.3" cy="307.0" r="2.4"/><circle cx="773.4" cy="306.8" r="2.4"/><circle cx="787.3" cy="310.9" r="2.4"/><circle cx="798.6" cy="311.4" r="2.4"/><circle cx="825.5" cy="319.7" r="2.4"/><circle cx="765.0" cy="322.2" r="2.4"/><circle cx="765.3" cy="326.5" r="2.4"/><circle cx="781.3" cy="321.0" r="2.4"/><circle cx="779.1" cy="340.2" r="2.4"/><circle cx="784.0" cy="343.3" r="2.4"/><circle cx="872.0" cy="303.2" r="2.4"/><circle cx="764.5" cy="279.1" r="2.4"/><circle cx="761.8" cy="287.8" r="2.4"/><circle cx="764.1" cy="280.4" r="2.4"/><circle cx="787.1" cy="276.2" r="2.4"/><circle cx="788.4" cy="285.3" r="2.4"/><circle cx="774.5" cy="282.5" r="2.4"/><circle cx="775.8" cy="275.2" r="2.4"/><circle cx="789.4" cy="276.4" r="2.4"/><circle cx="789.0" cy="288.7" r="2.4"/><circle cx="757.3" cy="272.4" r="2.4"/><circle cx="772.2" cy="287.6" r="2.4"/><circle cx="762.3" cy="282.2" r="2.4"/><circle cx="768.6" cy="286.8" r="2.4"/><circle cx="787.1" cy="286.2" r="2.4"/><circle cx="762.8" cy="286.1" r="2.4"/><circle cx="770.9" cy="288.2" r="2.4"/><circle cx="772.0" cy="290.1" r="2.4"/><circle cx="789.0" cy="287.9" r="2.4"/><circle cx="783.7" cy="287.7" r="2.4"/><circle cx="776.0" cy="270.1" r="2.4"/><circle cx="789.0" cy="278.0" r="2.4"/><circle cx="756.9" cy="277.2" r="2.4"/><circle cx="770.1" cy="270.8" r="2.4"/><circle cx="788.2" cy="268.4" r="2.4"/><circle cx="786.3" cy="280.4" r="2.4"/></g>
<polygon points="754.2,270.7 757.1,271.5 760.1,272.3 763.0,273.0 766.0,273.7 768.9,274.4 771.9,275.1 774.8,275.8 777.8,276.4 780.7,276.9 783.6,277.5 786.6,278.0 789.5,278.5 792.5,279.0 795.4,279.4 798.4,279.8 801.3,280.2 804.3,280.6 807.2,280.9 810.1,281.2 813.1,281.5 816.0,281.8 819.0,282.1 821.9,282.4 824.9,282.7 827.8,282.9 830.8,283.2 833.7,283.5 836.7,283.7 839.6,283.9 842.5,284.2 845.5,284.4 848.4,284.6 851.4,284.9 854.3,285.1 857.3,285.3 860.2,285.5 863.2,285.8 866.1,286.0 869.0,286.2 872.0,286.4 872.0,312.4 869.0,311.5 866.1,310.5 863.2,309.6 860.2,308.7 857.3,307.8 854.3,306.8 851.4,305.9 848.4,305.0 845.5,304.1 842.5,303.2 839.6,302.2 836.7,301.4 833.7,300.4 830.8,299.6 827.8,298.7 824.9,297.8 821.9,296.9 819.0,296.1 816.0,295.2 813.1,294.4 810.1,293.5 807.2,292.7 804.3,291.9 801.3,291.1 798.4,290.4 795.4,289.6 792.5,288.9 789.5,288.2 786.6,287.6 783.6,286.9 780.7,286.4 777.8,285.8 774.8,285.3 771.9,284.8 768.9,284.3 766.0,283.8 763.0,283.4 760.1,283.0 757.1,282.6 754.2,282.3" fill="#999999" fill-opacity="0.4" clip-path="url(#c_A2_11)"/>
<polyline points="754.2,276.5 757.1,277.1 760.1,277.6 763.0,278.2 766.0,278.8 768.9,279.4 771.9,279.9 774.8,280.5 777.8,281.1 780.7,281.6 783.6,282.2 786.6,282.8 789.5,283.4 792.5,283.9 795.4,284.5 798.4,285.1 801.3,285.7 804.3,286.2 807.2,286.8 810.1,287.4 813.1,287.9 816.0,288.5 819.0,289.1 821.9,289.7 824.9,290.2 827.8,290.8 830.8,291.4 833.7,292.0 836.7,292.5 839.6,293.1 842.5,293.7 845.5,294.2 848.4,294.8 851.4,295.4 854.3,296.0 857.3,296.5 860.2,297.1 863.2,297.7 866.1,298.2 869.0,298.8 872.0,299.4" fill="none" stroke="#ffd700" stroke-width="2.8" clip-path="url(#c_A2_11)"/>
<path d="M741.5,221.4V348.9M926.0,221.4V348.9" stroke="#999999" stroke-width="1.3" fill="none"/>
<path d="M740.9,221.4H926.6" stroke="#555555" stroke-width="1.4" fill="none"/>
<path d="M740.9,348.9H926.6" stroke="#6a6a6a" stroke-width="1.2" fill="none"/>
<line x1="744.90" y1="348.9" x2="744.90" y2="352.90" stroke="#3a3a3a" stroke-width="1.3"/><line x1="788.40" y1="348.9" x2="788.40" y2="352.90" stroke="#3a3a3a" stroke-width="1.3"/><line x1="831.90" y1="348.9" x2="831.90" y2="352.90" stroke="#3a3a3a" stroke-width="1.3"/><line x1="875.40" y1="348.9" x2="875.40" y2="352.90" stroke="#3a3a3a" stroke-width="1.3"/><line x1="918.90" y1="348.9" x2="918.90" y2="352.90" stroke="#3a3a3a" stroke-width="1.3"/>
<text transform="translate(744.90,367.10) scale(0.965,1)" text-anchor="middle" font-size="15.8" stroke="#1a1a1a" stroke-width="0.3">0</text>
<text transform="translate(788.40,367.10) scale(0.965,1)" text-anchor="middle" font-size="15.8" stroke="#1a1a1a" stroke-width="0.3">5000</text>
<text transform="translate(831.90,367.10) scale(0.965,1)" text-anchor="middle" font-size="15.8" stroke="#1a1a1a" stroke-width="0.3">10000</text>
<text transform="translate(875.40,367.10) scale(0.965,1)" text-anchor="middle" font-size="15.8" stroke="#1a1a1a" stroke-width="0.3">15000</text>
<text transform="translate(918.90,367.10) scale(0.965,1)" text-anchor="middle" font-size="15.8" stroke="#1a1a1a" stroke-width="0.3">20000</text>
<clipPath id="c_A3"><rect x="83.8" y="455.3" width="381.50" height="323.30"/></clipPath>
<rect x="83.8" y="455.3" width="381.50" height="323.30" fill="#fff"/>
<g clip-path="url(#c_A3)"><line x1="136.07" y1="455.3" x2="136.07" y2="778.6" stroke="#f3f3f3" stroke-width="0.8"/><line x1="225.82" y1="455.3" x2="225.82" y2="778.6" stroke="#f3f3f3" stroke-width="0.8"/><line x1="315.57" y1="455.3" x2="315.57" y2="778.6" stroke="#f3f3f3" stroke-width="0.8"/><line x1="405.32" y1="455.3" x2="405.32" y2="778.6" stroke="#f3f3f3" stroke-width="0.8"/><line x1="83.8" y1="505.30" x2="465.3" y2="505.30" stroke="#f3f3f3" stroke-width="0.8"/><line x1="83.8" y1="605.70" x2="465.3" y2="605.70" stroke="#f3f3f3" stroke-width="0.8"/><line x1="83.8" y1="706.10" x2="465.3" y2="706.10" stroke="#f3f3f3" stroke-width="0.8"/><line x1="91.20" y1="455.3" x2="91.20" y2="778.6" stroke="#ebebeb" stroke-width="1.3"/><line x1="180.95" y1="455.3" x2="180.95" y2="778.6" stroke="#ebebeb" stroke-width="1.3"/><line x1="270.70" y1="455.3" x2="270.70" y2="778.6" stroke="#ebebeb" stroke-width="1.3"/><line x1="360.45" y1="455.3" x2="360.45" y2="778.6" stroke="#ebebeb" stroke-width="1.3"/><line x1="450.20" y1="455.3" x2="450.20" y2="778.6" stroke="#ebebeb" stroke-width="1.3"/><line x1="83.8" y1="555.50" x2="465.3" y2="555.50" stroke="#ebebeb" stroke-width="1.3"/><line x1="83.8" y1="655.90" x2="465.3" y2="655.90" stroke="#ebebeb" stroke-width="1.3"/><line x1="83.8" y1="756.30" x2="465.3" y2="756.30" stroke="#ebebeb" stroke-width="1.3"/></g>
<g clip-path="url(#c_A3)" fill="#ffa500"><circle cx="114.0" cy="603.2" r="2.4"/><circle cx="111.6" cy="612.0" r="2.4"/><circle cx="131.1" cy="610.4" r="2.4"/><circle cx="140.1" cy="610.6" r="2.4"/><circle cx="153.2" cy="609.0" r="2.4"/><circle cx="175.7" cy="600.6" r="2.4"/><circle cx="148.5" cy="600.0" r="2.4"/><circle cx="248.1" cy="606.4" r="2.4"/><circle cx="126.0" cy="623.6" r="2.4"/><circle cx="147.8" cy="621.6" r="2.4"/><circle cx="168.5" cy="621.8" r="2.4"/><circle cx="186.2" cy="621.8" r="2.4"/><circle cx="153.0" cy="627.6" r="2.4"/><circle cx="213.5" cy="626.6" r="2.4"/><circle cx="229.7" cy="627.3" r="2.4"/><circle cx="113.7" cy="630.2" r="2.4"/><circle cx="118.8" cy="633.0" r="2.4"/><circle cx="129.9" cy="630.9" r="2.4"/><circle cx="137.1" cy="634.5" r="2.4"/><circle cx="142.2" cy="633.0" r="2.4"/><circle cx="149.1" cy="632.4" r="2.4"/><circle cx="161.4" cy="630.0" r="2.4"/><circle cx="162.0" cy="633.0" r="2.4"/><circle cx="162.6" cy="636.0" r="2.4"/><circle cx="154.8" cy="636.6" r="2.4"/><circle cx="185.0" cy="634.4" r="2.4"/><circle cx="190.5" cy="632.6" r="2.4"/><circle cx="189.8" cy="638.6" r="2.4"/><circle cx="202.1" cy="635.4" r="2.4"/><circle cx="212.9" cy="635.4" r="2.4"/><circle cx="210.5" cy="639.6" r="2.4"/><circle cx="211.7" cy="643.8" r="2.4"/><circle cx="199.7" cy="642.6" r="2.4"/><circle cx="101.0" cy="639.3" r="2.4"/><circle cx="109.8" cy="641.6" r="2.4"/><circle cx="120.0" cy="640.8" r="2.4"/><circle cx="122.4" cy="637.2" r="2.4"/><circle cx="125.4" cy="638.4" r="2.4"/><circle cx="130.8" cy="639.6" r="2.4"/><circle cx="136.8" cy="642.0" r="2.4"/><circle cx="140.4" cy="640.8" r="2.4"/><circle cx="147.6" cy="640.8" r="2.4"/><circle cx="151.2" cy="639.6" r="2.4"/><circle cx="168.5" cy="640.2" r="2.4"/><circle cx="172.7" cy="640.8" r="2.4"/><circle cx="118.8" cy="642.6" r="2.4"/><circle cx="120.9" cy="643.2" r="2.4"/><circle cx="114.6" cy="646.2" r="2.4"/><circle cx="117.8" cy="646.5" r="2.4"/><circle cx="128.4" cy="643.2" r="2.4"/><circle cx="136.2" cy="645.6" r="2.4"/><circle cx="138.0" cy="649.2" r="2.4"/><circle cx="142.8" cy="650.4" r="2.4"/><circle cx="143.4" cy="652.8" r="2.4"/><circle cx="147.3" cy="647.4" r="2.4"/><circle cx="150.0" cy="644.4" r="2.4"/><circle cx="152.4" cy="649.2" r="2.4"/><circle cx="153.6" cy="651.6" r="2.4"/><circle cx="151.2" cy="654.6" r="2.4"/><circle cx="159.0" cy="647.4" r="2.4"/><circle cx="160.8" cy="650.4" r="2.4"/><circle cx="160.8" cy="652.8" r="2.4"/><circle cx="168.9" cy="648.0" r="2.4"/><circle cx="170.9" cy="652.2" r="2.4"/><circle cx="184.7" cy="648.0" r="2.4"/><circle cx="191.3" cy="646.8" r="2.4"/><circle cx="194.3" cy="651.6" r="2.4"/><circle cx="115.2" cy="656.4" r="2.4"/><circle cx="107.6" cy="661.2" r="2.4"/><circle cx="123.0" cy="655.8" r="2.4"/><circle cx="126.0" cy="656.4" r="2.4"/><circle cx="129.0" cy="658.8" r="2.4"/><circle cx="133.2" cy="654.0" r="2.4"/><circle cx="133.8" cy="658.2" r="2.4"/><circle cx="141.6" cy="661.2" r="2.4"/><circle cx="142.8" cy="661.8" r="2.4"/><circle cx="162.9" cy="656.1" r="2.4"/><circle cx="161.7" cy="660.6" r="2.4"/><circle cx="172.1" cy="657.9" r="2.4"/><circle cx="177.5" cy="656.4" r="2.4"/><circle cx="181.7" cy="659.6" r="2.4"/><circle cx="156.8" cy="666.0" r="2.4"/><circle cx="162.0" cy="670.2" r="2.4"/><circle cx="125.6" cy="669.2" r="2.4"/><circle cx="130.8" cy="669.6" r="2.4"/><circle cx="133.2" cy="666.6" r="2.4"/><circle cx="143.7" cy="672.9" r="2.4"/><circle cx="178.7" cy="670.8" r="2.4"/><circle cx="190.1" cy="671.4" r="2.4"/><circle cx="190.1" cy="675.3" r="2.4"/><circle cx="185.0" cy="674.1" r="2.4"/><circle cx="173.9" cy="677.3" r="2.4"/><circle cx="175.4" cy="682.7" r="2.4"/><circle cx="179.9" cy="680.6" r="2.4"/><circle cx="202.5" cy="679.4" r="2.4"/><circle cx="123.0" cy="681.5" r="2.4"/><circle cx="150.2" cy="686.6" r="2.4"/><circle cx="221.9" cy="662.4" r="2.4"/><circle cx="238.7" cy="652.8" r="2.4"/><circle cx="248.9" cy="657.6" r="2.4"/><circle cx="245.7" cy="664.8" r="2.4"/><circle cx="250.9" cy="674.3" r="2.4"/><circle cx="233.3" cy="675.3" r="2.4"/><circle cx="293.6" cy="645.8" r="2.4"/><circle cx="306.5" cy="679.7" r="2.4"/><circle cx="118.2" cy="469.9" r="2.4"/><circle cx="175.2" cy="528.7" r="2.4"/><circle cx="119.1" cy="544.4" r="2.4"/><circle cx="167.8" cy="551.8" r="2.4"/><circle cx="142.6" cy="555.7" r="2.4"/><circle cx="112.4" cy="574.2" r="2.4"/><circle cx="100.5" cy="579.6" r="2.4"/><circle cx="110.1" cy="591.7" r="2.4"/><circle cx="121.8" cy="592.1" r="2.4"/><circle cx="121.8" cy="596.2" r="2.4"/><circle cx="139.9" cy="592.6" r="2.4"/><circle cx="148.4" cy="598.3" r="2.4"/><circle cx="167.1" cy="593.5" r="2.4"/><circle cx="175.7" cy="599.8" r="2.4"/><circle cx="180.2" cy="597.1" r="2.4"/><circle cx="230.2" cy="597.1" r="2.4"/><circle cx="187.4" cy="747.3" r="2.4"/><circle cx="132.9" cy="764.4" r="2.4"/><circle cx="169.4" cy="763.3" r="2.4"/></g>
<polygon points="101.0,620.4 106.1,621.8 111.3,623.1 116.4,624.4 121.6,625.7 126.7,626.9 131.9,628.1 137.0,629.2 142.2,630.2 147.3,631.2 152.4,632.1 157.6,633.0 162.7,633.8 167.9,634.5 173.0,635.2 178.2,635.9 183.3,636.4 188.5,637.0 193.6,637.5 198.8,638.0 203.9,638.4 209.1,638.8 214.2,639.2 219.3,639.6 224.5,639.9 229.6,640.3 234.8,640.6 239.9,640.9 245.1,641.2 250.2,641.5 255.3,641.8 260.5,642.1 265.6,642.4 270.8,642.6 275.9,642.9 281.1,643.2 286.2,643.4 291.4,643.7 296.5,643.9 301.7,644.2 306.8,644.4 306.8,691.8 301.7,690.2 296.5,688.6 291.4,687.0 286.2,685.4 281.1,683.8 275.9,682.2 270.8,680.6 265.6,679.1 260.5,677.5 255.3,675.9 250.2,674.4 245.1,672.8 239.9,671.3 234.8,669.8 229.6,668.2 224.5,666.8 219.3,665.3 214.2,663.8 209.1,662.3 203.9,660.9 198.8,659.5 193.6,658.1 188.5,656.8 183.3,655.5 178.2,654.2 173.0,653.0 167.9,651.9 162.7,650.7 157.6,649.7 152.4,648.7 147.3,647.8 142.2,646.9 137.0,646.1 131.9,645.4 126.7,644.7 121.6,644.1 116.4,643.5 111.3,643.0 106.1,642.5 101.0,642.0" fill="#999999" fill-opacity="0.4" clip-path="url(#c_A3)"/>
<polyline points="101.0,631.2 106.1,632.1 111.3,633.0 116.4,634.0 121.6,634.9 126.7,635.8 131.9,636.7 137.0,637.7 142.2,638.6 147.3,639.5 152.4,640.4 157.6,641.4 162.7,642.3 167.9,643.2 173.0,644.1 178.2,645.0 183.3,646.0 188.5,646.9 193.6,647.8 198.8,648.7 203.9,649.6 209.1,650.6 214.2,651.5 219.3,652.4 224.5,653.3 229.6,654.3 234.8,655.2 239.9,656.1 245.1,657.0 250.2,658.0 255.3,658.9 260.5,659.8 265.6,660.7 270.8,661.6 275.9,662.6 281.1,663.5 286.2,664.4 291.4,665.3 296.5,666.2 301.7,667.2 306.8,668.1" fill="none" stroke="#ffd700" stroke-width="2.8" clip-path="url(#c_A3)"/>
<path d="M83.8,455.3V778.6M465.3,455.3V778.6" stroke="#999999" stroke-width="1.3" fill="none"/>
<path d="M83.2,455.3H465.90000000000003" stroke="#6a6a6a" stroke-width="1.2" fill="none"/>
<path d="M83.2,778.6H465.90000000000003" stroke="#6a6a6a" stroke-width="1.2" fill="none"/>
<line x1="79.80" y1="555.50" x2="83.8" y2="555.50" stroke="#3a3a3a" stroke-width="1.3"/><line x1="79.80" y1="655.90" x2="83.8" y2="655.90" stroke="#3a3a3a" stroke-width="1.3"/><line x1="79.80" y1="756.30" x2="83.8" y2="756.30" stroke="#3a3a3a" stroke-width="1.3"/><line x1="91.20" y1="778.6" x2="91.20" y2="782.60" stroke="#3a3a3a" stroke-width="1.3"/><line x1="180.95" y1="778.6" x2="180.95" y2="782.60" stroke="#3a3a3a" stroke-width="1.3"/><line x1="270.70" y1="778.6" x2="270.70" y2="782.60" stroke="#3a3a3a" stroke-width="1.3"/><line x1="360.45" y1="778.6" x2="360.45" y2="782.60" stroke="#3a3a3a" stroke-width="1.3"/><line x1="450.20" y1="778.6" x2="450.20" y2="782.60" stroke="#3a3a3a" stroke-width="1.3"/>
<text transform="translate(77.00,561.16) scale(0.965,1)" text-anchor="end" font-size="15.8" stroke="#1a1a1a" stroke-width="0.3">0.25</text>
<text transform="translate(77.00,661.56) scale(0.965,1)" text-anchor="end" font-size="15.8" stroke="#1a1a1a" stroke-width="0.3">0.00</text>
<text transform="translate(77.00,761.96) scale(0.965,1)" text-anchor="end" font-size="15.8" stroke="#1a1a1a" stroke-width="0.3">−0.25</text>
<text transform="translate(91.20,796.80) scale(0.965,1)" text-anchor="middle" font-size="15.8" stroke="#1a1a1a" stroke-width="0.3">0</text>
<text transform="translate(180.95,796.80) scale(0.965,1)" text-anchor="middle" font-size="15.8" stroke="#1a1a1a" stroke-width="0.3">5000</text>
<text transform="translate(270.70,796.80) scale(0.965,1)" text-anchor="middle" font-size="15.8" stroke="#1a1a1a" stroke-width="0.3">10000</text>
<text transform="translate(360.45,796.80) scale(0.965,1)" text-anchor="middle" font-size="15.8" stroke="#1a1a1a" stroke-width="0.3">15000</text>
<text transform="translate(450.20,796.80) scale(0.965,1)" text-anchor="middle" font-size="15.8" stroke="#1a1a1a" stroke-width="0.3">20000</text>
<rect x="540.4" y="455.6" width="212.40" height="29.80" fill="#d9d9d9"/>
<path d="M540.4,455.6V485.4M752.8,455.6V485.4" stroke="#999999" stroke-width="1.3" fill="none"/>
<path d="M539.8,455.6H753.4" stroke="#6a6a6a" stroke-width="1.2" fill="none"/>
<text x="646.60" y="476.76" text-anchor="middle" font-size="17.5">A−/TN−</text>
<clipPath id="c_A4_00"><rect x="540.4" y="485.4" width="212.40" height="126.80"/></clipPath>
<rect x="540.4" y="485.4" width="212.40" height="126.80" fill="#fff"/>
<g clip-path="url(#c_A4_00)"><line x1="569.60" y1="485.4" x2="569.60" y2="612.2" stroke="#f3f3f3" stroke-width="0.8"/><line x1="619.60" y1="485.4" x2="619.60" y2="612.2" stroke="#f3f3f3" stroke-width="0.8"/><line x1="669.60" y1="485.4" x2="669.60" y2="612.2" stroke="#f3f3f3" stroke-width="0.8"/><line x1="719.60" y1="485.4" x2="719.60" y2="612.2" stroke="#f3f3f3" stroke-width="0.8"/><line x1="540.4" y1="504.85" x2="752.8" y2="504.85" stroke="#f3f3f3" stroke-width="0.8"/><line x1="540.4" y1="544.55" x2="752.8" y2="544.55" stroke="#f3f3f3" stroke-width="0.8"/><line x1="540.4" y1="584.25" x2="752.8" y2="584.25" stroke="#f3f3f3" stroke-width="0.8"/><line x1="544.60" y1="485.4" x2="544.60" y2="612.2" stroke="#ebebeb" stroke-width="1.3"/><line x1="594.60" y1="485.4" x2="594.60" y2="612.2" stroke="#ebebeb" stroke-width="1.3"/><line x1="644.60" y1="485.4" x2="644.60" y2="612.2" stroke="#ebebeb" stroke-width="1.3"/><line x1="694.60" y1="485.4" x2="694.60" y2="612.2" stroke="#ebebeb" stroke-width="1.3"/><line x1="744.60" y1="485.4" x2="744.60" y2="612.2" stroke="#ebebeb" stroke-width="1.3"/><line x1="540.4" y1="524.70" x2="752.8" y2="524.70" stroke="#ebebeb" stroke-width="1.3"/><line x1="540.4" y1="564.40" x2="752.8" y2="564.40" stroke="#ebebeb" stroke-width="1.3"/><line x1="540.4" y1="604.10" x2="752.8" y2="604.10" stroke="#ebebeb" stroke-width="1.3"/></g>
<g clip-path="url(#c_A4_00)" fill="#ffa500"><circle cx="557.2" cy="543.4" r="2.4"/><circle cx="555.8" cy="547.2" r="2.4"/><circle cx="559.9" cy="555.2" r="2.4"/><circle cx="565.9" cy="554.3" r="2.4"/><circle cx="572.7" cy="555.5" r="2.4"/><circle cx="576.1" cy="550.7" r="2.4"/><circle cx="584.5" cy="555.2" r="2.4"/><circle cx="597.4" cy="550.7" r="2.4"/><circle cx="599.6" cy="555.2" r="2.4"/><circle cx="599.9" cy="557.0" r="2.4"/><circle cx="606.3" cy="556.0" r="2.4"/><circle cx="553.8" cy="566.1" r="2.4"/><circle cx="557.9" cy="564.6" r="2.4"/><circle cx="563.7" cy="569.4" r="2.4"/><circle cx="562.2" cy="574.4" r="2.4"/><circle cx="565.2" cy="564.6" r="2.4"/><circle cx="567.9" cy="563.1" r="2.4"/><circle cx="573.5" cy="565.3" r="2.4"/><circle cx="573.9" cy="571.1" r="2.4"/><circle cx="577.7" cy="559.3" r="2.4"/><circle cx="583.3" cy="561.1" r="2.4"/><circle cx="589.4" cy="564.9" r="2.4"/><circle cx="593.1" cy="569.9" r="2.4"/><circle cx="591.6" cy="575.2" r="2.4"/><circle cx="594.2" cy="574.1" r="2.4"/><circle cx="600.7" cy="560.8" r="2.4"/><circle cx="601.7" cy="561.6" r="2.4"/><circle cx="606.3" cy="573.3" r="2.4"/><circle cx="623.8" cy="572.1" r="2.4"/><circle cx="626.8" cy="563.1" r="2.4"/><circle cx="633.9" cy="571.7" r="2.4"/><circle cx="598.1" cy="600.4" r="2.4"/><circle cx="554.6" cy="558.5" r="2.4"/><circle cx="563.7" cy="557.0" r="2.4"/><circle cx="568.2" cy="558.5" r="2.4"/><circle cx="571.2" cy="557.0" r="2.4"/><circle cx="565.9" cy="560.0" r="2.4"/><circle cx="570.5" cy="560.8" r="2.4"/><circle cx="563.7" cy="562.3" r="2.4"/><circle cx="559.1" cy="557.8" r="2.4"/><circle cx="580.3" cy="561.6" r="2.4"/><circle cx="587.8" cy="563.8" r="2.4"/></g>
<polygon points="553.8,555.4 555.8,555.8 557.8,556.3 559.8,556.7 561.8,557.1 563.8,557.5 565.8,557.9 567.8,558.3 569.7,558.6 571.7,559.0 573.7,559.3 575.7,559.6 577.7,559.9 579.7,560.2 581.7,560.4 583.7,560.6 585.7,560.9 587.7,561.1 589.7,561.3 591.7,561.5 593.6,561.6 595.6,561.8 597.6,562.0 599.6,562.1 601.6,562.2 603.6,562.4 605.6,562.5 607.6,562.6 609.6,562.8 611.6,562.9 613.6,563.0 615.6,563.1 617.6,563.2 619.5,563.4 621.5,563.5 623.5,563.6 625.5,563.7 627.5,563.8 629.5,563.9 631.5,564.0 633.5,564.1 633.5,577.7 631.5,577.2 629.5,576.7 627.5,576.2 625.5,575.7 623.5,575.2 621.5,574.7 619.5,574.2 617.6,573.7 615.6,573.2 613.6,572.7 611.6,572.3 609.6,571.8 607.6,571.3 605.6,570.8 603.6,570.4 601.6,569.9 599.6,569.4 597.6,569.0 595.6,568.5 593.6,568.1 591.7,567.6 589.7,567.2 587.7,566.8 585.7,566.4 583.7,566.0 581.7,565.6 579.7,565.3 577.7,565.0 575.7,564.6 573.7,564.3 571.7,564.1 569.7,563.8 567.8,563.5 565.8,563.3 563.8,563.1 561.8,562.9 559.8,562.7 557.8,562.5 555.8,562.4 553.8,562.2" fill="#999999" fill-opacity="0.4" clip-path="url(#c_A4_00)"/>
<polyline points="553.8,558.8 555.8,559.1 557.8,559.4 559.8,559.7 561.8,560.0 563.8,560.3 565.8,560.6 567.8,560.9 569.7,561.2 571.7,561.5 573.7,561.8 575.7,562.1 577.7,562.4 579.7,562.7 581.7,563.0 583.7,563.3 585.7,563.6 587.7,563.9 589.7,564.2 591.7,564.5 593.6,564.9 595.6,565.1 597.6,565.5 599.6,565.8 601.6,566.1 603.6,566.4 605.6,566.7 607.6,567.0 609.6,567.3 611.6,567.6 613.6,567.9 615.6,568.2 617.6,568.5 619.5,568.8 621.5,569.1 623.5,569.4 625.5,569.7 627.5,570.0 629.5,570.3 631.5,570.6 633.5,570.9" fill="none" stroke="#ffd700" stroke-width="2.8" clip-path="url(#c_A4_00)"/>
<path d="M540.4,485.4V612.2M752.8,485.4V612.2" stroke="#999999" stroke-width="1.3" fill="none"/>
<path d="M539.8,485.4H753.4" stroke="#555555" stroke-width="1.4" fill="none"/>
<path d="M539.8,612.2H753.4" stroke="#6a6a6a" stroke-width="1.2" fill="none"/>
<line x1="536.40" y1="524.70" x2="540.4" y2="524.70" stroke="#3a3a3a" stroke-width="1.3"/><line x1="536.40" y1="564.40" x2="540.4" y2="564.40" stroke="#3a3a3a" stroke-width="1.3"/><line x1="536.40" y1="604.10" x2="540.4" y2="604.10" stroke="#3a3a3a" stroke-width="1.3"/>
<text transform="translate(533.60,530.36) scale(0.965,1)" text-anchor="end" font-size="15.8" stroke="#1a1a1a" stroke-width="0.3">0.25</text>
<text transform="translate(533.60,570.06) scale(0.965,1)" text-anchor="end" font-size="15.8" stroke="#1a1a1a" stroke-width="0.3">0.00</text>
<text transform="translate(533.60,609.76) scale(0.965,1)" text-anchor="end" font-size="15.8" stroke="#1a1a1a" stroke-width="0.3">−0.25</text>
<rect x="760.4" y="455.6" width="212.80" height="29.80" fill="#d9d9d9"/>
<path d="M760.4,455.6V485.4M973.2,455.6V485.4" stroke="#999999" stroke-width="1.3" fill="none"/>
<path d="M759.8,455.6H973.8000000000001" stroke="#6a6a6a" stroke-width="1.2" fill="none"/>
<text x="866.80" y="476.76" text-anchor="middle" font-size="17.5">A−/TN+</text>
<clipPath id="c_A4_01"><rect x="760.4" y="485.4" width="212.80" height="126.80"/></clipPath>
<rect x="760.4" y="485.4" width="212.80" height="126.80" fill="#fff"/>
<g clip-path="url(#c_A4_01)"><line x1="789.60" y1="485.4" x2="789.60" y2="612.2" stroke="#f3f3f3" stroke-width="0.8"/><line x1="839.60" y1="485.4" x2="839.60" y2="612.2" stroke="#f3f3f3" stroke-width="0.8"/><line x1="889.60" y1="485.4" x2="889.60" y2="612.2" stroke="#f3f3f3" stroke-width="0.8"/><line x1="939.60" y1="485.4" x2="939.60" y2="612.2" stroke="#f3f3f3" stroke-width="0.8"/><line x1="760.4" y1="504.85" x2="973.2" y2="504.85" stroke="#f3f3f3" stroke-width="0.8"/><line x1="760.4" y1="544.55" x2="973.2" y2="544.55" stroke="#f3f3f3" stroke-width="0.8"/><line x1="760.4" y1="584.25" x2="973.2" y2="584.25" stroke="#f3f3f3" stroke-width="0.8"/><line x1="764.60" y1="485.4" x2="764.60" y2="612.2" stroke="#ebebeb" stroke-width="1.3"/><line x1="814.60" y1="485.4" x2="814.60" y2="612.2" stroke="#ebebeb" stroke-width="1.3"/><line x1="864.60" y1="485.4" x2="864.60" y2="612.2" stroke="#ebebeb" stroke-width="1.3"/><line x1="914.60" y1="485.4" x2="914.60" y2="612.2" stroke="#ebebeb" stroke-width="1.3"/><line x1="964.60" y1="485.4" x2="964.60" y2="612.2" stroke="#ebebeb" stroke-width="1.3"/><line x1="760.4" y1="524.70" x2="973.2" y2="524.70" stroke="#ebebeb" stroke-width="1.3"/><line x1="760.4" y1="564.40" x2="973.2" y2="564.40" stroke="#ebebeb" stroke-width="1.3"/><line x1="760.4" y1="604.10" x2="973.2" y2="604.10" stroke="#ebebeb" stroke-width="1.3"/></g>
<g clip-path="url(#c_A4_01)" fill="#ffa500"><circle cx="811.6" cy="514.0" r="2.4"/><circle cx="796.5" cy="541.6" r="2.4"/><circle cx="842.3" cy="540.9" r="2.4"/><circle cx="852.1" cy="544.6" r="2.4"/><circle cx="799.1" cy="552.8" r="2.4"/><circle cx="804.1" cy="555.5" r="2.4"/><circle cx="807.8" cy="558.2" r="2.4"/><circle cx="816.9" cy="555.5" r="2.4"/><circle cx="817.2" cy="560.3" r="2.4"/><circle cx="825.2" cy="558.5" r="2.4"/><circle cx="832.8" cy="552.5" r="2.4"/><circle cx="832.0" cy="556.3" r="2.4"/><circle cx="798.0" cy="560.0" r="2.4"/><circle cx="798.8" cy="563.1" r="2.4"/><circle cx="804.8" cy="564.3" r="2.4"/><circle cx="807.5" cy="561.1" r="2.4"/><circle cx="782.6" cy="564.1" r="2.4"/><circle cx="793.5" cy="566.8" r="2.4"/><circle cx="801.0" cy="568.4" r="2.4"/><circle cx="804.1" cy="569.9" r="2.4"/><circle cx="815.1" cy="565.8" r="2.4"/><circle cx="810.9" cy="572.9" r="2.4"/><circle cx="819.9" cy="572.1" r="2.4"/><circle cx="822.2" cy="563.1" r="2.4"/><circle cx="850.9" cy="567.9" r="2.4"/><circle cx="852.4" cy="564.9" r="2.4"/><circle cx="877.7" cy="560.3" r="2.4"/><circle cx="884.9" cy="573.6" r="2.4"/></g>
<polygon points="782.9,551.9 785.5,552.2 788.0,552.5 790.5,552.8 793.1,553.1 795.6,553.4 798.2,553.6 800.8,553.9 803.3,554.1 805.9,554.2 808.4,554.4 811.0,554.5 813.5,554.6 816.0,554.6 818.6,554.6 821.1,554.6 823.7,554.5 826.2,554.4 828.8,554.3 831.4,554.2 833.9,554.0 836.5,553.8 839.0,553.6 841.5,553.4 844.1,553.1 846.6,552.9 849.2,552.6 851.8,552.4 854.3,552.1 856.9,551.8 859.4,551.5 862.0,551.2 864.5,550.9 867.0,550.6 869.6,550.3 872.1,550.0 874.7,549.7 877.2,549.4 879.8,549.0 882.4,548.7 884.9,548.4 884.9,571.6 882.4,571.2 879.8,570.8 877.2,570.4 874.7,570.0 872.1,569.6 869.6,569.2 867.0,568.9 864.5,568.5 862.0,568.1 859.4,567.7 856.9,567.4 854.3,567.0 851.8,566.7 849.2,566.3 846.6,566.0 844.1,565.7 841.5,565.4 839.0,565.1 836.5,564.8 833.9,564.5 831.4,564.3 828.8,564.0 826.2,563.9 823.7,563.7 821.1,563.5 818.6,563.5 816.0,563.4 813.5,563.3 811.0,563.3 808.4,563.4 805.9,563.4 803.3,563.5 800.8,563.7 798.2,563.8 795.6,564.0 793.1,564.2 790.5,564.4 788.0,564.6 785.5,564.9 782.9,565.1" fill="#999999" fill-opacity="0.4" clip-path="url(#c_A4_01)"/>
<polyline points="782.9,558.5 785.5,558.5 788.0,558.6 790.5,558.6 793.1,558.6 795.6,558.7 798.2,558.7 800.8,558.8 803.3,558.8 805.9,558.8 808.4,558.9 811.0,558.9 813.5,559.0 816.0,559.0 818.6,559.0 821.1,559.1 823.7,559.1 826.2,559.1 828.8,559.2 831.4,559.2 833.9,559.2 836.5,559.3 839.0,559.3 841.5,559.4 844.1,559.4 846.6,559.4 849.2,559.5 851.8,559.5 854.3,559.5 856.9,559.6 859.4,559.6 862.0,559.7 864.5,559.7 867.0,559.7 869.6,559.8 872.1,559.8 874.7,559.9 877.2,559.9 879.8,559.9 882.4,560.0 884.9,560.0" fill="none" stroke="#ffd700" stroke-width="2.8" clip-path="url(#c_A4_01)"/>
<path d="M760.4,485.4V612.2M973.2,485.4V612.2" stroke="#999999" stroke-width="1.3" fill="none"/>
<path d="M759.8,485.4H973.8000000000001" stroke="#555555" stroke-width="1.4" fill="none"/>
<path d="M759.8,612.2H973.8000000000001" stroke="#6a6a6a" stroke-width="1.2" fill="none"/>

<rect x="540.4" y="620.4" width="212.40" height="29.10" fill="#d9d9d9"/>
<path d="M540.4,620.4V649.5M752.8,620.4V649.5" stroke="#999999" stroke-width="1.3" fill="none"/>
<path d="M539.8,620.4H753.4" stroke="#6a6a6a" stroke-width="1.2" fill="none"/>
<text x="646.60" y="641.22" text-anchor="middle" font-size="17.5">A+/TN−</text>
<clipPath id="c_A4_10"><rect x="540.4" y="649.5" width="212.40" height="127.60"/></clipPath>
<rect x="540.4" y="649.5" width="212.40" height="127.60" fill="#fff"/>
<g clip-path="url(#c_A4_10)"><line x1="569.60" y1="649.5" x2="569.60" y2="777.1" stroke="#f3f3f3" stroke-width="0.8"/><line x1="619.60" y1="649.5" x2="619.60" y2="777.1" stroke="#f3f3f3" stroke-width="0.8"/><line x1="669.60" y1="649.5" x2="669.60" y2="777.1" stroke="#f3f3f3" stroke-width="0.8"/><line x1="719.60" y1="649.5" x2="719.60" y2="777.1" stroke="#f3f3f3" stroke-width="0.8"/><line x1="540.4" y1="668.95" x2="752.8" y2="668.95" stroke="#f3f3f3" stroke-width="0.8"/><line x1="540.4" y1="708.65" x2="752.8" y2="708.65" stroke="#f3f3f3" stroke-width="0.8"/><line x1="540.4" y1="748.35" x2="752.8" y2="748.35" stroke="#f3f3f3" stroke-width="0.8"/><line x1="544.60" y1="649.5" x2="544.60" y2="777.1" stroke="#ebebeb" stroke-width="1.3"/><line x1="594.60" y1="649.5" x2="594.60" y2="777.1" stroke="#ebebeb" stroke-width="1.3"/><line x1="644.60" y1="649.5" x2="644.60" y2="777.1" stroke="#ebebeb" stroke-width="1.3"/><line x1="694.60" y1="649.5" x2="694.60" y2="777.1" stroke="#ebebeb" stroke-width="1.3"/><line x1="744.60" y1="649.5" x2="744.60" y2="777.1" stroke="#ebebeb" stroke-width="1.3"/><line x1="540.4" y1="688.80" x2="752.8" y2="688.80" stroke="#ebebeb" stroke-width="1.3"/><line x1="540.4" y1="728.50" x2="752.8" y2="728.50" stroke="#ebebeb" stroke-width="1.3"/><line x1="540.4" y1="768.20" x2="752.8" y2="768.20" stroke="#ebebeb" stroke-width="1.3"/></g>
<g clip-path="url(#c_A4_10)" fill="#ffa500"><circle cx="549.8" cy="698.8" r="2.4"/><circle cx="556.4" cy="696.5" r="2.4"/><circle cx="572.9" cy="689.3" r="2.4"/><circle cx="587.4" cy="687.6" r="2.4"/><circle cx="571.7" cy="703.7" r="2.4"/><circle cx="586.7" cy="704.0" r="2.4"/><circle cx="563.7" cy="716.0" r="2.4"/><circle cx="556.8" cy="718.6" r="2.4"/><circle cx="549.8" cy="722.2" r="2.4"/><circle cx="558.2" cy="724.9" r="2.4"/><circle cx="565.3" cy="725.2" r="2.4"/><circle cx="570.2" cy="720.6" r="2.4"/><circle cx="576.6" cy="719.1" r="2.4"/><circle cx="583.7" cy="718.3" r="2.4"/><circle cx="570.9" cy="726.5" r="2.4"/><circle cx="574.0" cy="727.5" r="2.4"/><circle cx="582.1" cy="725.7" r="2.4"/><circle cx="588.9" cy="727.5" r="2.4"/><circle cx="597.0" cy="725.5" r="2.4"/><circle cx="567.9" cy="729.5" r="2.4"/><circle cx="566.8" cy="734.1" r="2.4"/><circle cx="567.9" cy="771.7" r="2.4"/></g>
<polygon points="549.9,710.8 551.1,711.2 552.2,711.7 553.4,712.1 554.6,712.5 555.8,712.9 557.0,713.3 558.1,713.7 559.3,714.0 560.5,714.4 561.7,714.7 562.9,715.0 564.0,715.2 565.2,715.4 566.4,715.5 567.6,715.6 568.7,715.6 569.9,715.6 571.1,715.5 572.3,715.3 573.5,715.1 574.6,714.8 575.8,714.5 577.0,714.1 578.2,713.7 579.3,713.2 580.5,712.8 581.7,712.3 582.9,711.8 584.0,711.2 585.2,710.7 586.4,710.1 587.6,709.6 588.8,709.0 589.9,708.5 591.1,707.9 592.3,707.3 593.5,706.7 594.6,706.1 595.8,705.5 597.0,704.9 597.0,733.3 595.8,732.8 594.6,732.4 593.5,731.9 592.3,731.4 591.1,731.0 589.9,730.5 588.8,730.1 587.6,729.6 586.4,729.2 585.2,728.8 584.0,728.4 582.9,728.0 581.7,727.6 580.5,727.3 579.3,726.9 578.2,726.6 577.0,726.3 575.8,726.1 574.6,725.9 573.5,725.7 572.3,725.6 571.1,725.6 569.9,725.6 568.7,725.7 567.6,725.8 566.4,726.0 565.2,726.3 564.0,726.6 562.9,727.0 561.7,727.4 560.5,727.9 559.3,728.3 558.1,728.8 557.0,729.3 555.8,729.8 554.6,730.4 553.4,730.9 552.2,731.5 551.1,732.0 549.9,732.6" fill="#999999" fill-opacity="0.4" clip-path="url(#c_A4_10)"/>
<polyline points="549.9,721.7 551.1,721.6 552.2,721.6 553.4,721.5 554.6,721.4 555.8,721.4 557.0,721.3 558.1,721.2 559.3,721.2 560.5,721.1 561.7,721.0 562.9,721.0 564.0,720.9 565.2,720.9 566.4,720.8 567.6,720.7 568.7,720.7 569.9,720.6 571.1,720.5 572.3,720.5 573.5,720.4 574.6,720.3 575.8,720.3 577.0,720.2 578.2,720.1 579.3,720.1 580.5,720.0 581.7,720.0 582.9,719.9 584.0,719.8 585.2,719.8 586.4,719.7 587.6,719.6 588.8,719.6 589.9,719.5 591.1,719.4 592.3,719.4 593.5,719.3 594.6,719.2 595.8,719.2 597.0,719.1" fill="none" stroke="#ffd700" stroke-width="2.8" clip-path="url(#c_A4_10)"/>
<path d="M540.4,649.5V777.1M752.8,649.5V777.1" stroke="#999999" stroke-width="1.3" fill="none"/>
<path d="M539.8,649.5H753.4" stroke="#555555" stroke-width="1.4" fill="none"/>
<path d="M539.8,777.1H753.4" stroke="#6a6a6a" stroke-width="1.2" fill="none"/>
<line x1="536.40" y1="688.80" x2="540.4" y2="688.80" stroke="#3a3a3a" stroke-width="1.3"/><line x1="536.40" y1="728.50" x2="540.4" y2="728.50" stroke="#3a3a3a" stroke-width="1.3"/><line x1="536.40" y1="768.20" x2="540.4" y2="768.20" stroke="#3a3a3a" stroke-width="1.3"/><line x1="544.60" y1="777.1" x2="544.60" y2="781.10" stroke="#3a3a3a" stroke-width="1.3"/><line x1="594.60" y1="777.1" x2="594.60" y2="781.10" stroke="#3a3a3a" stroke-width="1.3"/><line x1="644.60" y1="777.1" x2="644.60" y2="781.10" stroke="#3a3a3a" stroke-width="1.3"/><line x1="694.60" y1="777.1" x2="694.60" y2="781.10" stroke="#3a3a3a" stroke-width="1.3"/><line x1="744.60" y1="777.1" x2="744.60" y2="781.10" stroke="#3a3a3a" stroke-width="1.3"/>
<text transform="translate(533.60,694.46) scale(0.965,1)" text-anchor="end" font-size="15.8" stroke="#1a1a1a" stroke-width="0.3">0.25</text>
<text transform="translate(533.60,734.16) scale(0.965,1)" text-anchor="end" font-size="15.8" stroke="#1a1a1a" stroke-width="0.3">0.00</text>
<text transform="translate(533.60,773.86) scale(0.965,1)" text-anchor="end" font-size="15.8" stroke="#1a1a1a" stroke-width="0.3">−0.25</text>
<text transform="translate(544.60,795.30) scale(0.965,1)" text-anchor="middle" font-size="15.8" stroke="#1a1a1a" stroke-width="0.3">0</text>
<text transform="translate(594.60,795.30) scale(0.965,1)" text-anchor="middle" font-size="15.8" stroke="#1a1a1a" stroke-width="0.3">5000</text>
<text transform="translate(644.60,795.30) scale(0.965,1)" text-anchor="middle" font-size="15.8" stroke="#1a1a1a" stroke-width="0.3">10000</text>
<text transform="translate(694.60,795.30) scale(0.965,1)" text-anchor="middle" font-size="15.8" stroke="#1a1a1a" stroke-width="0.3">15000</text>
<text transform="translate(744.60,795.30) scale(0.965,1)" text-anchor="middle" font-size="15.8" stroke="#1a1a1a" stroke-width="0.3">20000</text>
<rect x="760.4" y="620.4" width="212.80" height="29.10" fill="#d9d9d9"/>
<path d="M760.4,620.4V649.5M973.2,620.4V649.5" stroke="#999999" stroke-width="1.3" fill="none"/>
<path d="M759.8,620.4H973.8000000000001" stroke="#6a6a6a" stroke-width="1.2" fill="none"/>
<text x="866.80" y="641.22" text-anchor="middle" font-size="17.5">A+/TN+</text>
<clipPath id="c_A4_11"><rect x="760.4" y="649.5" width="212.80" height="127.60"/></clipPath>
<rect x="760.4" y="649.5" width="212.80" height="127.60" fill="#fff"/>
<g clip-path="url(#c_A4_11)"><line x1="789.60" y1="649.5" x2="789.60" y2="777.1" stroke="#f3f3f3" stroke-width="0.8"/><line x1="839.60" y1="649.5" x2="839.60" y2="777.1" stroke="#f3f3f3" stroke-width="0.8"/><line x1="889.60" y1="649.5" x2="889.60" y2="777.1" stroke="#f3f3f3" stroke-width="0.8"/><line x1="939.60" y1="649.5" x2="939.60" y2="777.1" stroke="#f3f3f3" stroke-width="0.8"/><line x1="760.4" y1="668.95" x2="973.2" y2="668.95" stroke="#f3f3f3" stroke-width="0.8"/><line x1="760.4" y1="708.65" x2="973.2" y2="708.65" stroke="#f3f3f3" stroke-width="0.8"/><line x1="760.4" y1="748.35" x2="973.2" y2="748.35" stroke="#f3f3f3" stroke-width="0.8"/><line x1="764.60" y1="649.5" x2="764.60" y2="777.1" stroke="#ebebeb" stroke-width="1.3"/><line x1="814.60" y1="649.5" x2="814.60" y2="777.1" stroke="#ebebeb" stroke-width="1.3"/><line x1="864.60" y1="649.5" x2="864.60" y2="777.1" stroke="#ebebeb" stroke-width="1.3"/><line x1="914.60" y1="649.5" x2="914.60" y2="777.1" stroke="#ebebeb" stroke-width="1.3"/><line x1="964.60" y1="649.5" x2="964.60" y2="777.1" stroke="#ebebeb" stroke-width="1.3"/><line x1="760.4" y1="688.80" x2="973.2" y2="688.80" stroke="#ebebeb" stroke-width="1.3"/><line x1="760.4" y1="728.50" x2="973.2" y2="728.50" stroke="#ebebeb" stroke-width="1.3"/><line x1="760.4" y1="768.20" x2="973.2" y2="768.20" stroke="#ebebeb" stroke-width="1.3"/></g>
<g clip-path="url(#c_A4_11)" fill="#ffa500"><circle cx="779.7" cy="655.4" r="2.4"/><circle cx="780.2" cy="684.8" r="2.4"/><circle cx="774.8" cy="703.4" r="2.4"/><circle cx="782.0" cy="703.4" r="2.4"/><circle cx="786.8" cy="711.1" r="2.4"/><circle cx="792.2" cy="710.3" r="2.4"/><circle cx="799.1" cy="710.2" r="2.4"/><circle cx="811.7" cy="706.8" r="2.4"/><circle cx="814.0" cy="705.6" r="2.4"/><circle cx="807.8" cy="715.2" r="2.4"/><circle cx="781.4" cy="721.1" r="2.4"/><circle cx="787.1" cy="720.9" r="2.4"/><circle cx="797.8" cy="721.8" r="2.4"/><circle cx="799.8" cy="720.9" r="2.4"/><circle cx="809.4" cy="722.9" r="2.4"/><circle cx="831.9" cy="724.0" r="2.4"/><circle cx="841.9" cy="717.5" r="2.4"/><circle cx="837.5" cy="731.4" r="2.4"/><circle cx="804.0" cy="730.6" r="2.4"/><circle cx="817.0" cy="736.0" r="2.4"/><circle cx="819.6" cy="734.7" r="2.4"/><circle cx="797.4" cy="741.0" r="2.4"/><circle cx="808.1" cy="771.3" r="2.4"/></g>
<polygon points="775.1,689.0 776.8,690.5 778.4,692.1 780.1,693.6 781.8,695.1 783.4,696.6 785.1,698.0 786.7,699.5 788.4,700.9 790.1,702.3 791.7,703.6 793.4,704.9 795.0,706.2 796.7,707.4 798.4,708.5 800.0,709.5 801.7,710.4 803.4,711.3 805.0,712.0 806.7,712.7 808.4,713.3 810.0,713.8 811.7,714.3 813.3,714.7 815.0,715.1 816.7,715.5 818.3,715.8 820.0,716.0 821.6,716.3 823.3,716.6 825.0,716.8 826.6,717.0 828.3,717.2 830.0,717.4 831.6,717.6 833.3,717.8 835.0,718.0 836.6,718.1 838.3,718.3 839.9,718.4 841.6,718.6 841.6,757.0 839.9,755.4 838.3,753.8 836.6,752.3 835.0,750.7 833.3,749.1 831.6,747.6 830.0,746.0 828.3,744.5 826.6,742.9 825.0,741.4 823.3,739.9 821.6,738.4 820.0,736.9 818.3,735.5 816.7,734.0 815.0,732.6 813.3,731.3 811.7,730.0 810.0,728.7 808.4,727.5 806.7,726.4 805.0,725.3 803.4,724.3 801.7,723.4 800.0,722.6 798.4,721.9 796.7,721.3 795.0,720.7 793.4,720.2 791.7,719.8 790.1,719.4 788.4,719.0 786.7,718.7 785.1,718.4 783.4,718.1 781.8,717.9 780.1,717.6 778.4,717.4 776.8,717.2 775.1,717.0" fill="#999999" fill-opacity="0.4" clip-path="url(#c_A4_11)"/>
<polyline points="775.1,703.0 776.8,703.9 778.4,704.7 780.1,705.6 781.8,706.5 783.4,707.4 785.1,708.2 786.7,709.1 788.4,710.0 790.1,710.8 791.7,711.7 793.4,712.6 795.0,713.4 796.7,714.3 798.4,715.2 800.0,716.0 801.7,716.9 803.4,717.8 805.0,718.7 806.7,719.5 808.4,720.4 810.0,721.3 811.7,722.1 813.3,723.0 815.0,723.9 816.7,724.8 818.3,725.6 820.0,726.5 821.6,727.4 823.3,728.2 825.0,729.1 826.6,730.0 828.3,730.8 830.0,731.7 831.6,732.6 833.3,733.5 835.0,734.3 836.6,735.2 838.3,736.1 839.9,736.9 841.6,737.8" fill="none" stroke="#ffd700" stroke-width="2.8" clip-path="url(#c_A4_11)"/>
<path d="M760.4,649.5V777.1M973.2,649.5V777.1" stroke="#999999" stroke-width="1.3" fill="none"/>
<path d="M759.8,649.5H973.8000000000001" stroke="#555555" stroke-width="1.4" fill="none"/>
<path d="M759.8,777.1H973.8000000000001" stroke="#6a6a6a" stroke-width="1.2" fill="none"/>
<line x1="764.60" y1="777.1" x2="764.60" y2="781.10" stroke="#3a3a3a" stroke-width="1.3"/><line x1="814.60" y1="777.1" x2="814.60" y2="781.10" stroke="#3a3a3a" stroke-width="1.3"/><line x1="864.60" y1="777.1" x2="864.60" y2="781.10" stroke="#3a3a3a" stroke-width="1.3"/><line x1="914.60" y1="777.1" x2="914.60" y2="781.10" stroke="#3a3a3a" stroke-width="1.3"/><line x1="964.60" y1="777.1" x2="964.60" y2="781.10" stroke="#3a3a3a" stroke-width="1.3"/>
<text transform="translate(764.60,795.30) scale(0.965,1)" text-anchor="middle" font-size="15.8" stroke="#1a1a1a" stroke-width="0.3">0</text>
<text transform="translate(814.60,795.30) scale(0.965,1)" text-anchor="middle" font-size="15.8" stroke="#1a1a1a" stroke-width="0.3">5000</text>
<text transform="translate(864.60,795.30) scale(0.965,1)" text-anchor="middle" font-size="15.8" stroke="#1a1a1a" stroke-width="0.3">10000</text>
<text transform="translate(914.60,795.30) scale(0.965,1)" text-anchor="middle" font-size="15.8" stroke="#1a1a1a" stroke-width="0.3">15000</text>
<text transform="translate(964.60,795.30) scale(0.965,1)" text-anchor="middle" font-size="15.8" stroke="#1a1a1a" stroke-width="0.3">20000</text>
<clipPath id="c_B1"><rect x="1094.3" y="27.5" width="390.60" height="322.70"/></clipPath>
<rect x="1094.3" y="27.5" width="390.60" height="322.70" fill="#fff"/>
<g clip-path="url(#c_B1)"><line x1="1148.03" y1="27.5" x2="1148.03" y2="350.2" stroke="#f3f3f3" stroke-width="0.8"/><line x1="1239.68" y1="27.5" x2="1239.68" y2="350.2" stroke="#f3f3f3" stroke-width="0.8"/><line x1="1331.33" y1="27.5" x2="1331.33" y2="350.2" stroke="#f3f3f3" stroke-width="0.8"/><line x1="1422.98" y1="27.5" x2="1422.98" y2="350.2" stroke="#f3f3f3" stroke-width="0.8"/><line x1="1094.3" y1="12.32" x2="1484.9" y2="12.32" stroke="#f3f3f3" stroke-width="0.8"/><line x1="1094.3" y1="75.28" x2="1484.9" y2="75.28" stroke="#f3f3f3" stroke-width="0.8"/><line x1="1094.3" y1="138.23" x2="1484.9" y2="138.23" stroke="#f3f3f3" stroke-width="0.8"/><line x1="1094.3" y1="201.18" x2="1484.9" y2="201.18" stroke="#f3f3f3" stroke-width="0.8"/><line x1="1094.3" y1="264.12" x2="1484.9" y2="264.12" stroke="#f3f3f3" stroke-width="0.8"/><line x1="1094.3" y1="327.08" x2="1484.9" y2="327.08" stroke="#f3f3f3" stroke-width="0.8"/><line x1="1102.20" y1="27.5" x2="1102.20" y2="350.2" stroke="#ebebeb" stroke-width="1.3"/><line x1="1193.85" y1="27.5" x2="1193.85" y2="350.2" stroke="#ebebeb" stroke-width="1.3"/><line x1="1285.50" y1="27.5" x2="1285.50" y2="350.2" stroke="#ebebeb" stroke-width="1.3"/><line x1="1377.15" y1="27.5" x2="1377.15" y2="350.2" stroke="#ebebeb" stroke-width="1.3"/><line x1="1468.80" y1="27.5" x2="1468.80" y2="350.2" stroke="#ebebeb" stroke-width="1.3"/><line x1="1094.3" y1="43.80" x2="1484.9" y2="43.80" stroke="#ebebeb" stroke-width="1.3"/><line x1="1094.3" y1="106.75" x2="1484.9" y2="106.75" stroke="#ebebeb" stroke-width="1.3"/><line x1="1094.3" y1="169.70" x2="1484.9" y2="169.70" stroke="#ebebeb" stroke-width="1.3"/><line x1="1094.3" y1="232.65" x2="1484.9" y2="232.65" stroke="#ebebeb" stroke-width="1.3"/><line x1="1094.3" y1="295.60" x2="1484.9" y2="295.60" stroke="#ebebeb" stroke-width="1.3"/></g>
<g clip-path="url(#c_B1)" fill="#ffa500"><circle cx="1250.5" cy="41.6" r="2.4"/><circle cx="1183.1" cy="46.2" r="2.4"/><circle cx="1206.8" cy="73.7" r="2.4"/><circle cx="1123.6" cy="97.2" r="2.4"/><circle cx="1144.0" cy="89.2" r="2.4"/><circle cx="1156.6" cy="89.3" r="2.4"/><circle cx="1152.0" cy="98.7" r="2.4"/><circle cx="1250.5" cy="95.6" r="2.4"/><circle cx="1135.0" cy="106.0" r="2.4"/><circle cx="1132.8" cy="110.6" r="2.4"/><circle cx="1181.5" cy="108.4" r="2.4"/><circle cx="1180.7" cy="110.1" r="2.4"/><circle cx="1188.5" cy="112.8" r="2.4"/><circle cx="1131.4" cy="117.6" r="2.4"/><circle cx="1143.8" cy="116.2" r="2.4"/><circle cx="1137.7" cy="119.5" r="2.4"/><circle cx="1215.7" cy="119.5" r="2.4"/><circle cx="1228.2" cy="119.0" r="2.4"/><circle cx="1136.5" cy="125.1" r="2.4"/><circle cx="1146.9" cy="125.6" r="2.4"/><circle cx="1149.9" cy="128.2" r="2.4"/><circle cx="1153.0" cy="129.7" r="2.4"/><circle cx="1155.8" cy="131.0" r="2.4"/><circle cx="1164.0" cy="124.1" r="2.4"/><circle cx="1165.2" cy="127.7" r="2.4"/><circle cx="1161.7" cy="130.7" r="2.4"/><circle cx="1178.0" cy="126.2" r="2.4"/><circle cx="1180.5" cy="127.7" r="2.4"/><circle cx="1175.9" cy="128.7" r="2.4"/><circle cx="1178.5" cy="133.3" r="2.4"/><circle cx="1177.5" cy="134.8" r="2.4"/><circle cx="1191.0" cy="130.2" r="2.4"/><circle cx="1189.4" cy="136.3" r="2.4"/><circle cx="1200.4" cy="124.1" r="2.4"/><circle cx="1169.6" cy="134.6" r="2.4"/><circle cx="1130.6" cy="136.9" r="2.4"/><circle cx="1135.7" cy="136.9" r="2.4"/><circle cx="1142.8" cy="137.2" r="2.4"/><circle cx="1148.9" cy="137.4" r="2.4"/><circle cx="1150.4" cy="135.8" r="2.4"/><circle cx="1149.9" cy="140.9" r="2.4"/><circle cx="1163.5" cy="140.2" r="2.4"/><circle cx="1186.6" cy="143.5" r="2.4"/><circle cx="1171.6" cy="145.0" r="2.4"/><circle cx="1177.5" cy="147.8" r="2.4"/><circle cx="1174.9" cy="149.6" r="2.4"/><circle cx="1159.1" cy="147.0" r="2.4"/><circle cx="1161.1" cy="149.1" r="2.4"/><circle cx="1157.1" cy="149.6" r="2.4"/><circle cx="1154.0" cy="151.6" r="2.4"/><circle cx="1152.2" cy="153.7" r="2.4"/><circle cx="1142.5" cy="146.5" r="2.4"/><circle cx="1140.8" cy="149.1" r="2.4"/><circle cx="1141.3" cy="152.7" r="2.4"/><circle cx="1141.6" cy="156.7" r="2.4"/><circle cx="1168.6" cy="150.6" r="2.4"/><circle cx="1168.5" cy="153.2" r="2.4"/><circle cx="1161.1" cy="155.7" r="2.4"/><circle cx="1169.8" cy="158.3" r="2.4"/><circle cx="1129.8" cy="154.4" r="2.4"/><circle cx="1123.2" cy="159.0" r="2.4"/><circle cx="1189.7" cy="150.1" r="2.4"/><circle cx="1192.2" cy="149.8" r="2.4"/><circle cx="1202.9" cy="149.6" r="2.4"/><circle cx="1206.0" cy="150.6" r="2.4"/><circle cx="1214.9" cy="149.6" r="2.4"/><circle cx="1213.9" cy="154.5" r="2.4"/><circle cx="1222.5" cy="151.4" r="2.4"/><circle cx="1240.6" cy="144.7" r="2.4"/><circle cx="1245.7" cy="149.1" r="2.4"/><circle cx="1249.3" cy="149.8" r="2.4"/><circle cx="1258.5" cy="148.1" r="2.4"/><circle cx="1193.0" cy="158.3" r="2.4"/><circle cx="1193.3" cy="162.8" r="2.4"/><circle cx="1198.1" cy="159.6" r="2.4"/><circle cx="1206.7" cy="159.0" r="2.4"/><circle cx="1217.9" cy="159.6" r="2.4"/><circle cx="1224.1" cy="161.8" r="2.4"/><circle cx="1233.3" cy="160.8" r="2.4"/><circle cx="1260.5" cy="163.0" r="2.4"/><circle cx="1244.7" cy="167.2" r="2.4"/><circle cx="1228.6" cy="168.7" r="2.4"/><circle cx="1214.1" cy="165.4" r="2.4"/><circle cx="1216.7" cy="167.9" r="2.4"/><circle cx="1151.7" cy="160.3" r="2.4"/><circle cx="1137.2" cy="162.8" r="2.4"/><circle cx="1137.5" cy="165.1" r="2.4"/><circle cx="1144.3" cy="165.9" r="2.4"/><circle cx="1146.9" cy="164.9" r="2.4"/><circle cx="1139.1" cy="170.7" r="2.4"/><circle cx="1151.5" cy="170.0" r="2.4"/><circle cx="1167.3" cy="166.4" r="2.4"/><circle cx="1168.3" cy="169.0" r="2.4"/><circle cx="1176.4" cy="163.4" r="2.4"/><circle cx="1179.5" cy="164.9" r="2.4"/><circle cx="1181.5" cy="162.3" r="2.4"/><circle cx="1186.1" cy="162.8" r="2.4"/><circle cx="1180.5" cy="169.5" r="2.4"/><circle cx="1184.6" cy="167.9" r="2.4"/><circle cx="1196.8" cy="167.7" r="2.4"/><circle cx="1201.4" cy="170.0" r="2.4"/><circle cx="1200.4" cy="173.5" r="2.4"/><circle cx="1195.8" cy="174.1" r="2.4"/><circle cx="1193.3" cy="177.1" r="2.4"/><circle cx="1209.1" cy="172.0" r="2.4"/><circle cx="1212.1" cy="175.1" r="2.4"/><circle cx="1158.6" cy="170.0" r="2.4"/><circle cx="1161.1" cy="170.5" r="2.4"/><circle cx="1164.2" cy="171.0" r="2.4"/><circle cx="1158.1" cy="173.5" r="2.4"/><circle cx="1160.1" cy="175.1" r="2.4"/><circle cx="1165.2" cy="174.1" r="2.4"/><circle cx="1167.8" cy="176.1" r="2.4"/><circle cx="1158.6" cy="178.1" r="2.4"/><circle cx="1173.4" cy="174.6" r="2.4"/><circle cx="1175.9" cy="174.6" r="2.4"/><circle cx="1128.0" cy="174.1" r="2.4"/><circle cx="1132.6" cy="177.1" r="2.4"/><circle cx="1135.2" cy="177.1" r="2.4"/><circle cx="1142.8" cy="176.1" r="2.4"/><circle cx="1148.4" cy="176.1" r="2.4"/><circle cx="1145.9" cy="178.6" r="2.4"/><circle cx="1143.8" cy="182.2" r="2.4"/><circle cx="1136.7" cy="182.2" r="2.4"/><circle cx="1134.1" cy="185.3" r="2.4"/><circle cx="1165.2" cy="181.7" r="2.4"/><circle cx="1172.4" cy="180.7" r="2.4"/><circle cx="1175.9" cy="181.7" r="2.4"/><circle cx="1181.0" cy="183.7" r="2.4"/><circle cx="1223.8" cy="180.0" r="2.4"/><circle cx="1268.7" cy="182.2" r="2.4"/><circle cx="1140.8" cy="187.8" r="2.4"/><circle cx="1149.9" cy="187.8" r="2.4"/><circle cx="1153.0" cy="187.3" r="2.4"/><circle cx="1157.6" cy="186.8" r="2.4"/><circle cx="1161.1" cy="189.3" r="2.4"/><circle cx="1164.2" cy="187.8" r="2.4"/><circle cx="1154.0" cy="191.4" r="2.4"/><circle cx="1157.1" cy="193.4" r="2.4"/><circle cx="1151.0" cy="194.4" r="2.4"/><circle cx="1147.9" cy="196.5" r="2.4"/><circle cx="1149.9" cy="198.5" r="2.4"/><circle cx="1124.0" cy="190.6" r="2.4"/><circle cx="1121.2" cy="196.5" r="2.4"/><circle cx="1133.6" cy="194.4" r="2.4"/><circle cx="1136.7" cy="193.9" r="2.4"/><circle cx="1139.2" cy="193.4" r="2.4"/><circle cx="1129.9" cy="199.5" r="2.4"/><circle cx="1142.8" cy="198.5" r="2.4"/><circle cx="1141.8" cy="199.5" r="2.4"/><circle cx="1161.7" cy="197.0" r="2.4"/><circle cx="1166.2" cy="200.6" r="2.4"/><circle cx="1173.9" cy="197.0" r="2.4"/><circle cx="1172.4" cy="188.8" r="2.4"/><circle cx="1174.9" cy="190.4" r="2.4"/><circle cx="1169.8" cy="192.4" r="2.4"/><circle cx="1181.5" cy="192.9" r="2.4"/><circle cx="1184.6" cy="192.9" r="2.4"/><circle cx="1188.7" cy="196.5" r="2.4"/><circle cx="1185.6" cy="197.5" r="2.4"/><circle cx="1180.5" cy="199.0" r="2.4"/><circle cx="1177.8" cy="199.5" r="2.4"/><circle cx="1189.9" cy="188.0" r="2.4"/><circle cx="1197.8" cy="185.3" r="2.4"/><circle cx="1199.9" cy="186.8" r="2.4"/><circle cx="1211.1" cy="185.8" r="2.4"/><circle cx="1210.6" cy="189.3" r="2.4"/><circle cx="1216.9" cy="185.8" r="2.4"/><circle cx="1229.9" cy="185.5" r="2.4"/><circle cx="1208.0" cy="193.9" r="2.4"/><circle cx="1212.1" cy="193.4" r="2.4"/><circle cx="1217.7" cy="192.6" r="2.4"/><circle cx="1225.4" cy="192.4" r="2.4"/><circle cx="1228.9" cy="193.4" r="2.4"/><circle cx="1251.3" cy="192.4" r="2.4"/><circle cx="1204.0" cy="199.2" r="2.4"/><circle cx="1236.1" cy="201.1" r="2.4"/><circle cx="1248.8" cy="201.6" r="2.4"/><circle cx="1159.1" cy="202.1" r="2.4"/><circle cx="1122.9" cy="207.3" r="2.4"/><circle cx="1128.0" cy="211.2" r="2.4"/><circle cx="1133.1" cy="212.7" r="2.4"/><circle cx="1136.2" cy="208.1" r="2.4"/><circle cx="1140.8" cy="213.2" r="2.4"/><circle cx="1142.8" cy="207.1" r="2.4"/><circle cx="1145.9" cy="206.1" r="2.4"/><circle cx="1148.9" cy="205.0" r="2.4"/><circle cx="1151.0" cy="209.1" r="2.4"/><circle cx="1154.0" cy="212.7" r="2.4"/><circle cx="1148.9" cy="218.3" r="2.4"/><circle cx="1152.0" cy="216.2" r="2.4"/><circle cx="1155.5" cy="221.7" r="2.4"/><circle cx="1159.1" cy="209.1" r="2.4"/><circle cx="1162.7" cy="210.6" r="2.4"/><circle cx="1166.8" cy="213.7" r="2.4"/><circle cx="1170.3" cy="215.2" r="2.4"/><circle cx="1168.3" cy="214.2" r="2.4"/><circle cx="1161.7" cy="223.2" r="2.4"/><circle cx="1169.6" cy="221.0" r="2.4"/><circle cx="1175.9" cy="206.1" r="2.4"/><circle cx="1184.4" cy="205.5" r="2.4"/><circle cx="1190.5" cy="206.1" r="2.4"/><circle cx="1185.4" cy="212.2" r="2.4"/><circle cx="1187.6" cy="215.2" r="2.4"/><circle cx="1188.2" cy="220.1" r="2.4"/><circle cx="1203.1" cy="213.2" r="2.4"/><circle cx="1216.2" cy="212.5" r="2.4"/><circle cx="1220.6" cy="208.8" r="2.4"/><circle cx="1225.9" cy="216.2" r="2.4"/><circle cx="1228.9" cy="215.7" r="2.4"/><circle cx="1223.3" cy="219.8" r="2.4"/><circle cx="1228.4" cy="218.3" r="2.4"/><circle cx="1255.4" cy="209.9" r="2.4"/><circle cx="1256.4" cy="219.8" r="2.4"/><circle cx="1244.7" cy="219.8" r="2.4"/><circle cx="1247.8" cy="218.8" r="2.4"/><circle cx="1243.7" cy="225.6" r="2.4"/><circle cx="1129.6" cy="221.5" r="2.4"/><circle cx="1133.6" cy="218.8" r="2.4"/><circle cx="1135.2" cy="224.9" r="2.4"/><circle cx="1139.2" cy="222.9" r="2.4"/><circle cx="1136.7" cy="228.5" r="2.4"/><circle cx="1138.2" cy="232.0" r="2.4"/><circle cx="1144.3" cy="228.0" r="2.4"/><circle cx="1146.9" cy="227.3" r="2.4"/><circle cx="1152.0" cy="230.5" r="2.4"/><circle cx="1156.9" cy="229.0" r="2.4"/><circle cx="1162.7" cy="230.5" r="2.4"/><circle cx="1167.5" cy="227.5" r="2.4"/><circle cx="1180.0" cy="225.9" r="2.4"/><circle cx="1183.6" cy="230.7" r="2.4"/><circle cx="1188.7" cy="232.0" r="2.4"/><circle cx="1193.3" cy="228.5" r="2.4"/><circle cx="1197.3" cy="229.0" r="2.4"/><circle cx="1211.6" cy="225.1" r="2.4"/><circle cx="1225.9" cy="225.9" r="2.4"/><circle cx="1119.2" cy="235.4" r="2.4"/><circle cx="1145.4" cy="234.1" r="2.4"/><circle cx="1173.4" cy="234.6" r="2.4"/><circle cx="1205.0" cy="233.4" r="2.4"/><circle cx="1221.3" cy="232.6" r="2.4"/><circle cx="1228.6" cy="230.5" r="2.4"/><circle cx="1113.2" cy="243.6" r="2.4"/><circle cx="1138.7" cy="239.2" r="2.4"/><circle cx="1142.8" cy="238.2" r="2.4"/><circle cx="1146.9" cy="237.1" r="2.4"/><circle cx="1151.0" cy="236.1" r="2.4"/><circle cx="1183.6" cy="239.2" r="2.4"/><circle cx="1189.7" cy="242.2" r="2.4"/><circle cx="1195.8" cy="240.7" r="2.4"/><circle cx="1197.8" cy="242.2" r="2.4"/><circle cx="1202.7" cy="244.3" r="2.4"/><circle cx="1212.1" cy="240.7" r="2.4"/><circle cx="1217.7" cy="239.7" r="2.4"/><circle cx="1227.4" cy="239.2" r="2.4"/><circle cx="1234.7" cy="240.2" r="2.4"/><circle cx="1247.6" cy="241.5" r="2.4"/><circle cx="1141.8" cy="246.8" r="2.4"/><circle cx="1155.8" cy="247.8" r="2.4"/><circle cx="1163.2" cy="243.8" r="2.4"/><circle cx="1165.2" cy="244.8" r="2.4"/><circle cx="1163.7" cy="247.8" r="2.4"/><circle cx="1168.3" cy="241.7" r="2.4"/><circle cx="1172.4" cy="241.5" r="2.4"/><circle cx="1167.3" cy="246.8" r="2.4"/><circle cx="1193.3" cy="248.7" r="2.4"/><circle cx="1220.1" cy="247.0" r="2.4"/><circle cx="1203.1" cy="250.4" r="2.4"/><circle cx="1204.0" cy="254.0" r="2.4"/><circle cx="1203.4" cy="256.0" r="2.4"/><circle cx="1233.5" cy="252.7" r="2.4"/><circle cx="1227.4" cy="255.2" r="2.4"/><circle cx="1257.5" cy="253.2" r="2.4"/><circle cx="1252.7" cy="257.3" r="2.4"/><circle cx="1123.6" cy="255.7" r="2.4"/><circle cx="1127.5" cy="249.9" r="2.4"/><circle cx="1130.6" cy="252.9" r="2.4"/><circle cx="1133.6" cy="254.5" r="2.4"/><circle cx="1142.8" cy="257.0" r="2.4"/><circle cx="1148.4" cy="260.1" r="2.4"/><circle cx="1155.5" cy="260.1" r="2.4"/><circle cx="1160.1" cy="256.8" r="2.4"/><circle cx="1163.2" cy="261.6" r="2.4"/><circle cx="1173.4" cy="253.2" r="2.4"/><circle cx="1179.5" cy="252.4" r="2.4"/><circle cx="1130.1" cy="258.0" r="2.4"/><circle cx="1133.6" cy="260.1" r="2.4"/><circle cx="1137.7" cy="261.1" r="2.4"/><circle cx="1185.9" cy="260.6" r="2.4"/><circle cx="1167.3" cy="263.6" r="2.4"/><circle cx="1171.3" cy="264.1" r="2.4"/><circle cx="1175.4" cy="264.7" r="2.4"/><circle cx="1208.0" cy="263.1" r="2.4"/><circle cx="1201.9" cy="265.4" r="2.4"/><circle cx="1193.0" cy="265.4" r="2.4"/><circle cx="1234.0" cy="260.1" r="2.4"/><circle cx="1235.0" cy="265.5" r="2.4"/><circle cx="1245.2" cy="267.0" r="2.4"/><circle cx="1262.6" cy="267.7" r="2.4"/><circle cx="1122.9" cy="267.7" r="2.4"/><circle cx="1120.4" cy="269.8" r="2.4"/><circle cx="1120.4" cy="273.8" r="2.4"/><circle cx="1129.6" cy="273.3" r="2.4"/><circle cx="1134.1" cy="265.2" r="2.4"/><circle cx="1134.7" cy="268.2" r="2.4"/><circle cx="1136.7" cy="271.3" r="2.4"/><circle cx="1140.3" cy="273.3" r="2.4"/><circle cx="1147.4" cy="269.2" r="2.4"/><circle cx="1148.9" cy="272.3" r="2.4"/><circle cx="1155.0" cy="268.2" r="2.4"/><circle cx="1160.1" cy="266.7" r="2.4"/><circle cx="1162.2" cy="269.2" r="2.4"/><circle cx="1165.2" cy="271.3" r="2.4"/><circle cx="1170.3" cy="270.3" r="2.4"/><circle cx="1173.4" cy="274.3" r="2.4"/><circle cx="1179.5" cy="269.2" r="2.4"/><circle cx="1183.6" cy="268.2" r="2.4"/><circle cx="1190.7" cy="271.1" r="2.4"/><circle cx="1204.0" cy="269.2" r="2.4"/><circle cx="1204.5" cy="271.3" r="2.4"/><circle cx="1214.9" cy="270.3" r="2.4"/><circle cx="1215.2" cy="274.3" r="2.4"/><circle cx="1240.6" cy="273.6" r="2.4"/><circle cx="1231.5" cy="277.2" r="2.4"/><circle cx="1209.6" cy="275.6" r="2.4"/><circle cx="1198.3" cy="274.9" r="2.4"/><circle cx="1182.6" cy="276.9" r="2.4"/><circle cx="1194.8" cy="278.4" r="2.4"/><circle cx="1215.7" cy="278.9" r="2.4"/><circle cx="1252.9" cy="282.0" r="2.4"/><circle cx="1237.1" cy="284.5" r="2.4"/><circle cx="1223.3" cy="282.5" r="2.4"/><circle cx="1227.4" cy="285.0" r="2.4"/><circle cx="1204.0" cy="280.5" r="2.4"/><circle cx="1119.4" cy="282.5" r="2.4"/><circle cx="1124.5" cy="278.4" r="2.4"/><circle cx="1129.6" cy="280.5" r="2.4"/><circle cx="1133.6" cy="284.5" r="2.4"/><circle cx="1140.8" cy="281.5" r="2.4"/><circle cx="1144.8" cy="279.4" r="2.4"/><circle cx="1147.9" cy="283.5" r="2.4"/><circle cx="1152.0" cy="280.5" r="2.4"/><circle cx="1156.1" cy="284.5" r="2.4"/><circle cx="1161.1" cy="281.5" r="2.4"/><circle cx="1166.2" cy="280.5" r="2.4"/><circle cx="1170.3" cy="278.4" r="2.4"/><circle cx="1175.4" cy="276.4" r="2.4"/><circle cx="1177.5" cy="282.5" r="2.4"/><circle cx="1186.6" cy="282.5" r="2.4"/><circle cx="1189.7" cy="284.5" r="2.4"/><circle cx="1193.8" cy="281.5" r="2.4"/><circle cx="1197.8" cy="283.5" r="2.4"/><circle cx="1208.0" cy="284.5" r="2.4"/><circle cx="1214.1" cy="285.6" r="2.4"/><circle cx="1123.4" cy="286.6" r="2.4"/><circle cx="1142.8" cy="286.6" r="2.4"/><circle cx="1153.0" cy="287.1" r="2.4"/><circle cx="1163.2" cy="286.6" r="2.4"/><circle cx="1171.3" cy="285.6" r="2.4"/><circle cx="1181.5" cy="286.1" r="2.4"/><circle cx="1269.2" cy="280.5" r="2.4"/><circle cx="1111.9" cy="290.3" r="2.4"/><circle cx="1115.7" cy="293.2" r="2.4"/><circle cx="1124.6" cy="288.4" r="2.4"/><circle cx="1128.0" cy="287.5" r="2.4"/><circle cx="1125.4" cy="293.5" r="2.4"/><circle cx="1123.7" cy="298.6" r="2.4"/><circle cx="1128.0" cy="301.9" r="2.4"/><circle cx="1132.2" cy="291.8" r="2.4"/><circle cx="1135.6" cy="287.5" r="2.4"/><circle cx="1139.8" cy="287.5" r="2.4"/><circle cx="1135.6" cy="297.7" r="2.4"/><circle cx="1139.0" cy="296.9" r="2.4"/><circle cx="1142.4" cy="294.3" r="2.4"/><circle cx="1142.4" cy="301.1" r="2.4"/><circle cx="1145.8" cy="303.6" r="2.4"/><circle cx="1147.5" cy="290.1" r="2.4"/><circle cx="1150.8" cy="288.4" r="2.4"/><circle cx="1154.2" cy="291.8" r="2.4"/><circle cx="1150.8" cy="295.2" r="2.4"/><circle cx="1155.1" cy="296.0" r="2.4"/><circle cx="1159.3" cy="293.5" r="2.4"/><circle cx="1159.3" cy="288.4" r="2.4"/><circle cx="1163.6" cy="285.8" r="2.4"/><circle cx="1162.7" cy="295.2" r="2.4"/><circle cx="1164.4" cy="299.4" r="2.4"/><circle cx="1161.0" cy="300.3" r="2.4"/><circle cx="1147.5" cy="299.4" r="2.4"/><circle cx="1150.8" cy="301.9" r="2.4"/><circle cx="1154.2" cy="305.3" r="2.4"/><circle cx="1155.9" cy="303.6" r="2.4"/><circle cx="1152.5" cy="308.7" r="2.4"/><circle cx="1149.2" cy="311.3" r="2.4"/><circle cx="1153.4" cy="312.1" r="2.4"/><circle cx="1155.9" cy="308.7" r="2.4"/><circle cx="1172.0" cy="287.5" r="2.4"/><circle cx="1172.9" cy="291.8" r="2.4"/><circle cx="1174.6" cy="296.0" r="2.4"/><circle cx="1173.7" cy="298.6" r="2.4"/><circle cx="1176.3" cy="301.9" r="2.4"/><circle cx="1178.8" cy="286.7" r="2.4"/><circle cx="1183.1" cy="288.4" r="2.4"/><circle cx="1181.4" cy="294.3" r="2.4"/><circle cx="1180.5" cy="296.9" r="2.4"/><circle cx="1188.1" cy="293.5" r="2.4"/><circle cx="1187.3" cy="299.4" r="2.4"/><circle cx="1184.7" cy="304.5" r="2.4"/><circle cx="1185.6" cy="307.9" r="2.4"/><circle cx="1189.8" cy="306.2" r="2.4"/><circle cx="1191.5" cy="296.9" r="2.4"/><circle cx="1194.9" cy="295.2" r="2.4"/><circle cx="1197.5" cy="297.7" r="2.4"/><circle cx="1193.2" cy="286.7" r="2.4"/><circle cx="1196.6" cy="290.1" r="2.4"/><circle cx="1200.8" cy="289.2" r="2.4"/><circle cx="1205.1" cy="287.5" r="2.4"/><circle cx="1209.3" cy="289.2" r="2.4"/><circle cx="1212.7" cy="287.5" r="2.4"/><circle cx="1214.4" cy="291.8" r="2.4"/><circle cx="1219.5" cy="290.9" r="2.4"/><circle cx="1224.6" cy="291.8" r="2.4"/><circle cx="1226.3" cy="286.7" r="2.4"/><circle cx="1232.2" cy="288.0" r="2.4"/><circle cx="1237.3" cy="285.8" r="2.4"/><circle cx="1244.9" cy="290.5" r="2.4"/><circle cx="1254.7" cy="290.8" r="2.4"/><circle cx="1265.3" cy="298.1" r="2.4"/><circle cx="1240.7" cy="303.2" r="2.4"/><circle cx="1208.1" cy="297.7" r="2.4"/><circle cx="1205.1" cy="300.3" r="2.4"/><circle cx="1202.5" cy="301.5" r="2.4"/><circle cx="1198.3" cy="302.8" r="2.4"/><circle cx="1200.8" cy="304.5" r="2.4"/><circle cx="1211.0" cy="301.9" r="2.4"/><circle cx="1216.1" cy="301.1" r="2.4"/><circle cx="1218.6" cy="301.5" r="2.4"/><circle cx="1223.7" cy="301.5" r="2.4"/><circle cx="1228.0" cy="301.5" r="2.4"/><circle cx="1216.1" cy="303.6" r="2.4"/><circle cx="1213.6" cy="308.7" r="2.4"/><circle cx="1211.0" cy="310.4" r="2.4"/><circle cx="1201.3" cy="309.0" r="2.4"/><circle cx="1168.6" cy="304.5" r="2.4"/><circle cx="1167.8" cy="306.2" r="2.4"/><circle cx="1172.9" cy="307.9" r="2.4"/><circle cx="1176.3" cy="312.1" r="2.4"/><circle cx="1180.5" cy="313.0" r="2.4"/><circle cx="1179.7" cy="315.5" r="2.4"/><circle cx="1181.4" cy="318.1" r="2.4"/><circle cx="1161.9" cy="308.7" r="2.4"/><circle cx="1160.2" cy="312.1" r="2.4"/><circle cx="1163.6" cy="313.8" r="2.4"/><circle cx="1167.8" cy="313.8" r="2.4"/><circle cx="1111.9" cy="311.3" r="2.4"/><circle cx="1117.8" cy="308.7" r="2.4"/><circle cx="1121.2" cy="305.8" r="2.4"/><circle cx="1127.1" cy="311.3" r="2.4"/><circle cx="1133.1" cy="308.7" r="2.4"/><circle cx="1137.3" cy="307.0" r="2.4"/><circle cx="1139.8" cy="310.4" r="2.4"/><circle cx="1143.2" cy="311.7" r="2.4"/><circle cx="1147.5" cy="312.1" r="2.4"/><circle cx="1136.6" cy="315.9" r="2.4"/><circle cx="1145.8" cy="317.2" r="2.4"/><circle cx="1148.3" cy="318.9" r="2.4"/><circle cx="1154.2" cy="318.5" r="2.4"/><circle cx="1159.7" cy="318.5" r="2.4"/><circle cx="1212.0" cy="318.3" r="2.4"/><circle cx="1227.1" cy="317.6" r="2.4"/><circle cx="1137.3" cy="326.1" r="2.4"/><circle cx="1139.0" cy="324.8" r="2.4"/><circle cx="1134.7" cy="333.3" r="2.4"/><circle cx="1180.3" cy="328.5" r="2.4"/><circle cx="1181.5" cy="336.0" r="2.4"/><circle cx="1199.0" cy="328.6" r="2.4"/><circle cx="1204.7" cy="329.1" r="2.4"/><circle cx="1144.6" cy="298.5" r="2.4"/><circle cx="1157.8" cy="294.1" r="2.4"/><circle cx="1146.0" cy="300.6" r="2.4"/><circle cx="1162.6" cy="294.8" r="2.4"/><circle cx="1154.1" cy="289.0" r="2.4"/><circle cx="1140.1" cy="291.8" r="2.4"/><circle cx="1156.4" cy="285.5" r="2.4"/><circle cx="1162.2" cy="288.9" r="2.4"/><circle cx="1146.5" cy="284.9" r="2.4"/><circle cx="1167.9" cy="299.5" r="2.4"/><circle cx="1164.5" cy="296.9" r="2.4"/><circle cx="1141.0" cy="290.9" r="2.4"/><circle cx="1153.9" cy="286.4" r="2.4"/><circle cx="1166.7" cy="291.7" r="2.4"/><circle cx="1144.3" cy="301.2" r="2.4"/><circle cx="1143.5" cy="303.5" r="2.4"/><circle cx="1152.7" cy="295.6" r="2.4"/><circle cx="1149.6" cy="294.2" r="2.4"/><circle cx="1145.2" cy="284.8" r="2.4"/><circle cx="1164.2" cy="288.9" r="2.4"/><circle cx="1161.8" cy="288.4" r="2.4"/><circle cx="1167.1" cy="302.8" r="2.4"/><circle cx="1161.1" cy="300.0" r="2.4"/><circle cx="1156.3" cy="299.3" r="2.4"/><circle cx="1143.4" cy="294.0" r="2.4"/><circle cx="1163.2" cy="288.2" r="2.4"/><circle cx="1165.8" cy="302.6" r="2.4"/><circle cx="1151.5" cy="291.7" r="2.4"/><circle cx="1152.6" cy="292.1" r="2.4"/><circle cx="1167.9" cy="292.1" r="2.4"/><circle cx="1140.8" cy="286.0" r="2.4"/><circle cx="1160.1" cy="304.8" r="2.4"/><circle cx="1153.9" cy="294.3" r="2.4"/><circle cx="1155.4" cy="299.7" r="2.4"/><circle cx="1146.2" cy="296.8" r="2.4"/><circle cx="1155.6" cy="297.1" r="2.4"/><circle cx="1145.1" cy="287.6" r="2.4"/><circle cx="1149.7" cy="303.5" r="2.4"/><circle cx="1149.7" cy="296.5" r="2.4"/><circle cx="1148.6" cy="286.2" r="2.4"/><circle cx="1141.8" cy="301.1" r="2.4"/><circle cx="1161.8" cy="291.9" r="2.4"/><circle cx="1159.1" cy="298.2" r="2.4"/><circle cx="1165.2" cy="304.1" r="2.4"/><circle cx="1151.4" cy="304.8" r="2.4"/><circle cx="1166.9" cy="296.4" r="2.4"/><circle cx="1164.7" cy="294.3" r="2.4"/><circle cx="1150.5" cy="289.2" r="2.4"/><circle cx="1164.5" cy="287.4" r="2.4"/><circle cx="1141.9" cy="300.9" r="2.4"/><circle cx="1161.7" cy="294.1" r="2.4"/><circle cx="1163.4" cy="285.1" r="2.4"/><circle cx="1147.2" cy="290.1" r="2.4"/><circle cx="1151.7" cy="287.6" r="2.4"/><circle cx="1141.9" cy="291.1" r="2.4"/><circle cx="1165.2" cy="304.7" r="2.4"/><circle cx="1160.9" cy="294.1" r="2.4"/><circle cx="1147.1" cy="304.1" r="2.4"/><circle cx="1154.7" cy="299.3" r="2.4"/><circle cx="1140.8" cy="288.5" r="2.4"/><circle cx="1163.5" cy="300.7" r="2.4"/><circle cx="1164.7" cy="296.6" r="2.4"/><circle cx="1151.9" cy="296.2" r="2.4"/><circle cx="1163.8" cy="290.5" r="2.4"/><circle cx="1155.0" cy="289.8" r="2.4"/><circle cx="1161.5" cy="284.2" r="2.4"/><circle cx="1159.2" cy="304.0" r="2.4"/><circle cx="1140.7" cy="296.5" r="2.4"/><circle cx="1158.0" cy="301.9" r="2.4"/><circle cx="1156.4" cy="289.4" r="2.4"/><circle cx="1221.9" cy="305.8" r="2.4"/><circle cx="1220.1" cy="269.5" r="2.4"/><circle cx="1203.6" cy="283.8" r="2.4"/><circle cx="1200.2" cy="271.5" r="2.4"/><circle cx="1181.6" cy="284.7" r="2.4"/><circle cx="1183.2" cy="285.1" r="2.4"/><circle cx="1172.4" cy="269.6" r="2.4"/><circle cx="1210.1" cy="283.7" r="2.4"/><circle cx="1199.2" cy="296.8" r="2.4"/><circle cx="1190.7" cy="268.4" r="2.4"/><circle cx="1214.1" cy="290.7" r="2.4"/><circle cx="1207.2" cy="292.1" r="2.4"/><circle cx="1224.4" cy="281.2" r="2.4"/><circle cx="1212.8" cy="281.5" r="2.4"/><circle cx="1202.5" cy="293.7" r="2.4"/><circle cx="1188.3" cy="269.6" r="2.4"/><circle cx="1197.1" cy="296.2" r="2.4"/><circle cx="1203.5" cy="284.8" r="2.4"/><circle cx="1206.3" cy="273.6" r="2.4"/><circle cx="1180.8" cy="279.6" r="2.4"/><circle cx="1215.9" cy="274.2" r="2.4"/><circle cx="1177.3" cy="270.1" r="2.4"/><circle cx="1173.1" cy="277.6" r="2.4"/><circle cx="1202.5" cy="300.5" r="2.4"/><circle cx="1189.2" cy="281.5" r="2.4"/><circle cx="1177.5" cy="272.8" r="2.4"/><circle cx="1121.4" cy="290.0" r="2.4"/><circle cx="1131.1" cy="272.4" r="2.4"/><circle cx="1159.1" cy="276.9" r="2.4"/><circle cx="1173.4" cy="274.6" r="2.4"/><circle cx="1177.6" cy="276.4" r="2.4"/><circle cx="1156.1" cy="288.6" r="2.4"/><circle cx="1161.1" cy="288.5" r="2.4"/><circle cx="1162.5" cy="271.0" r="2.4"/><circle cx="1172.9" cy="281.8" r="2.4"/><circle cx="1138.6" cy="273.8" r="2.4"/><circle cx="1171.0" cy="281.7" r="2.4"/><circle cx="1176.3" cy="285.5" r="2.4"/><circle cx="1177.7" cy="281.3" r="2.4"/><circle cx="1161.9" cy="282.2" r="2.4"/><circle cx="1135.5" cy="289.1" r="2.4"/><circle cx="1138.7" cy="285.6" r="2.4"/><circle cx="1177.3" cy="283.0" r="2.4"/><circle cx="1128.5" cy="286.5" r="2.4"/><circle cx="1160.1" cy="273.7" r="2.4"/><circle cx="1122.9" cy="280.6" r="2.4"/><circle cx="1121.9" cy="288.5" r="2.4"/><circle cx="1150.4" cy="280.3" r="2.4"/><circle cx="1144.6" cy="283.2" r="2.4"/><circle cx="1175.0" cy="276.1" r="2.4"/><circle cx="1142.4" cy="281.7" r="2.4"/><circle cx="1137.8" cy="281.9" r="2.4"/><circle cx="1152.6" cy="278.7" r="2.4"/><circle cx="1160.4" cy="280.6" r="2.4"/><circle cx="1125.3" cy="289.9" r="2.4"/><circle cx="1141.3" cy="278.6" r="2.4"/><circle cx="1144.2" cy="288.6" r="2.4"/><circle cx="1177.1" cy="280.2" r="2.4"/><circle cx="1144.0" cy="271.9" r="2.4"/><circle cx="1173.7" cy="273.4" r="2.4"/><circle cx="1152.8" cy="277.0" r="2.4"/><circle cx="1139.7" cy="277.1" r="2.4"/><circle cx="1131.5" cy="270.7" r="2.4"/><circle cx="1152.1" cy="285.9" r="2.4"/><circle cx="1158.8" cy="274.0" r="2.4"/><circle cx="1276.2" cy="154.6" r="2.4"/><circle cx="1297.0" cy="150.9" r="2.4"/><circle cx="1294.4" cy="182.5" r="2.4"/><circle cx="1370.4" cy="123.3" r="2.4"/><circle cx="1303.5" cy="197.4" r="2.4"/><circle cx="1272.4" cy="211.9" r="2.4"/><circle cx="1282.1" cy="210.8" r="2.4"/><circle cx="1317.1" cy="210.1" r="2.4"/><circle cx="1284.2" cy="225.3" r="2.4"/><circle cx="1277.6" cy="262.9" r="2.4"/><circle cx="1322.7" cy="267.2" r="2.4"/><circle cx="1309.3" cy="274.6" r="2.4"/><circle cx="1271.5" cy="280.8" r="2.4"/><circle cx="1308.3" cy="285.8" r="2.4"/><circle cx="1292.3" cy="295.1" r="2.4"/><circle cx="1303.5" cy="305.7" r="2.4"/><circle cx="1285.1" cy="315.5" r="2.4"/><circle cx="1374.4" cy="289.1" r="2.4"/><circle cx="1365.4" cy="310.0" r="2.4"/></g>
<polygon points="1111.9,235.8 1118.5,235.9 1125.0,235.9 1131.6,235.9 1138.2,235.9 1144.7,235.8 1151.3,235.7 1157.8,235.5 1164.4,235.2 1171.0,234.8 1177.5,234.2 1184.1,233.6 1190.7,232.8 1197.2,232.0 1203.8,231.1 1210.3,230.1 1216.9,229.1 1223.5,228.1 1230.0,227.0 1236.6,225.9 1243.2,224.7 1249.7,223.6 1256.3,222.4 1262.8,221.3 1269.4,220.1 1276.0,218.9 1282.5,217.8 1289.1,216.6 1295.7,215.4 1302.2,214.2 1308.8,213.0 1315.3,211.8 1321.9,210.6 1328.5,209.4 1335.0,208.2 1341.6,207.0 1348.2,205.8 1354.7,204.5 1361.3,203.3 1367.8,202.1 1374.4,200.9 1374.4,245.7 1367.8,245.5 1361.3,245.3 1354.7,245.1 1348.2,244.9 1341.6,244.8 1335.0,244.6 1328.5,244.4 1321.9,244.2 1315.3,244.0 1308.8,243.9 1302.2,243.7 1295.7,243.5 1289.1,243.4 1282.5,243.2 1276.0,243.0 1269.4,242.9 1262.8,242.8 1256.3,242.6 1249.7,242.5 1243.2,242.4 1236.6,242.3 1230.0,242.2 1223.5,242.1 1216.9,242.1 1210.3,242.1 1203.8,242.2 1197.2,242.3 1190.7,242.4 1184.1,242.7 1177.5,243.1 1171.0,243.6 1164.4,244.2 1157.8,244.9 1151.3,245.7 1144.7,246.6 1138.2,247.6 1131.6,248.6 1125.0,249.6 1118.5,250.7 1111.9,251.8" fill="#999999" fill-opacity="0.4" clip-path="url(#c_B1)"/>
<polyline points="1111.9,243.8 1118.5,243.3 1125.0,242.8 1131.6,242.3 1138.2,241.8 1144.7,241.2 1151.3,240.7 1157.8,240.2 1164.4,239.7 1171.0,239.2 1177.5,238.7 1184.1,238.2 1190.7,237.7 1197.2,237.1 1203.8,236.6 1210.3,236.1 1216.9,235.6 1223.5,235.1 1230.0,234.6 1236.6,234.1 1243.2,233.6 1249.7,233.0 1256.3,232.5 1262.8,232.0 1269.4,231.5 1276.0,231.0 1282.5,230.5 1289.1,230.0 1295.7,229.4 1302.2,228.9 1308.8,228.4 1315.3,227.9 1321.9,227.4 1328.5,226.9 1335.0,226.4 1341.6,225.9 1348.2,225.3 1354.7,224.8 1361.3,224.3 1367.8,223.8 1374.4,223.3" fill="none" stroke="#ffd700" stroke-width="2.8" clip-path="url(#c_B1)"/>
<path d="M1094.3,27.5V350.2M1484.9,27.5V350.2" stroke="#999999" stroke-width="1.3" fill="none"/>
<path d="M1093.7,27.5H1485.5" stroke="#6a6a6a" stroke-width="1.2" fill="none"/>
<path d="M1093.7,350.2H1485.5" stroke="#6a6a6a" stroke-width="1.2" fill="none"/>
<line x1="1090.30" y1="43.80" x2="1094.3" y2="43.80" stroke="#3a3a3a" stroke-width="1.3"/><line x1="1090.30" y1="106.75" x2="1094.3" y2="106.75" stroke="#3a3a3a" stroke-width="1.3"/><line x1="1090.30" y1="169.70" x2="1094.3" y2="169.70" stroke="#3a3a3a" stroke-width="1.3"/><line x1="1090.30" y1="232.65" x2="1094.3" y2="232.65" stroke="#3a3a3a" stroke-width="1.3"/><line x1="1090.30" y1="295.60" x2="1094.3" y2="295.60" stroke="#3a3a3a" stroke-width="1.3"/><line x1="1102.20" y1="350.2" x2="1102.20" y2="354.20" stroke="#3a3a3a" stroke-width="1.3"/><line x1="1193.85" y1="350.2" x2="1193.85" y2="354.20" stroke="#3a3a3a" stroke-width="1.3"/><line x1="1285.50" y1="350.2" x2="1285.50" y2="354.20" stroke="#3a3a3a" stroke-width="1.3"/><line x1="1377.15" y1="350.2" x2="1377.15" y2="354.20" stroke="#3a3a3a" stroke-width="1.3"/><line x1="1468.80" y1="350.2" x2="1468.80" y2="354.20" stroke="#3a3a3a" stroke-width="1.3"/>
<text transform="translate(1087.50,49.46) scale(0.965,1)" text-anchor="end" font-size="15.8" stroke="#1a1a1a" stroke-width="0.3">2.00</text>
<text transform="translate(1087.50,112.41) scale(0.965,1)" text-anchor="end" font-size="15.8" stroke="#1a1a1a" stroke-width="0.3">1.75</text>
<text transform="translate(1087.50,175.36) scale(0.965,1)" text-anchor="end" font-size="15.8" stroke="#1a1a1a" stroke-width="0.3">1.50</text>
<text transform="translate(1087.50,238.31) scale(0.965,1)" text-anchor="end" font-size="15.8" stroke="#1a1a1a" stroke-width="0.3">1.25</text>
<text transform="translate(1087.50,301.26) scale(0.965,1)" text-anchor="end" font-size="15.8" stroke="#1a1a1a" stroke-width="0.3">1.00</text>
<text transform="translate(1102.20,368.40) scale(0.965,1)" text-anchor="middle" font-size="15.8" stroke="#1a1a1a" stroke-width="0.3">0</text>
<text transform="translate(1193.85,368.40) scale(0.965,1)" text-anchor="middle" font-size="15.8" stroke="#1a1a1a" stroke-width="0.3">5000</text>
<text transform="translate(1285.50,368.40) scale(0.965,1)" text-anchor="middle" font-size="15.8" stroke="#1a1a1a" stroke-width="0.3">10000</text>
<text transform="translate(1377.15,368.40) scale(0.965,1)" text-anchor="middle" font-size="15.8" stroke="#1a1a1a" stroke-width="0.3">15000</text>
<text transform="translate(1468.80,368.40) scale(0.965,1)" text-anchor="middle" font-size="15.8" stroke="#1a1a1a" stroke-width="0.3">20000</text>
<rect x="1555.6" y="28.2" width="214.80" height="28.70" fill="#d9d9d9"/>
<path d="M1555.6,28.2V56.9M1770.4,28.2V56.9" stroke="#999999" stroke-width="1.3" fill="none"/>
<path d="M1555.0,28.2H1771.0" stroke="#6a6a6a" stroke-width="1.2" fill="none"/>
<text x="1663.00" y="48.81" text-anchor="middle" font-size="17.5">A−/TN−</text>
<clipPath id="c_B2_00"><rect x="1555.6" y="56.9" width="214.80" height="128.20"/></clipPath>
<rect x="1555.6" y="56.9" width="214.80" height="128.20" fill="#fff"/>
<g clip-path="url(#c_B2_00)"><line x1="1584.75" y1="56.9" x2="1584.75" y2="185.1" stroke="#f3f3f3" stroke-width="0.8"/><line x1="1635.45" y1="56.9" x2="1635.45" y2="185.1" stroke="#f3f3f3" stroke-width="0.8"/><line x1="1686.15" y1="56.9" x2="1686.15" y2="185.1" stroke="#f3f3f3" stroke-width="0.8"/><line x1="1736.85" y1="56.9" x2="1736.85" y2="185.1" stroke="#f3f3f3" stroke-width="0.8"/><line x1="1555.6" y1="51.53" x2="1770.4" y2="51.53" stroke="#f3f3f3" stroke-width="0.8"/><line x1="1555.6" y1="76.28" x2="1770.4" y2="76.28" stroke="#f3f3f3" stroke-width="0.8"/><line x1="1555.6" y1="101.03" x2="1770.4" y2="101.03" stroke="#f3f3f3" stroke-width="0.8"/><line x1="1555.6" y1="125.78" x2="1770.4" y2="125.78" stroke="#f3f3f3" stroke-width="0.8"/><line x1="1555.6" y1="150.53" x2="1770.4" y2="150.53" stroke="#f3f3f3" stroke-width="0.8"/><line x1="1555.6" y1="175.28" x2="1770.4" y2="175.28" stroke="#f3f3f3" stroke-width="0.8"/><line x1="1559.40" y1="56.9" x2="1559.40" y2="185.1" stroke="#ebebeb" stroke-width="1.3"/><line x1="1610.10" y1="56.9" x2="1610.10" y2="185.1" stroke="#ebebeb" stroke-width="1.3"/><line x1="1660.80" y1="56.9" x2="1660.80" y2="185.1" stroke="#ebebeb" stroke-width="1.3"/><line x1="1711.50" y1="56.9" x2="1711.50" y2="185.1" stroke="#ebebeb" stroke-width="1.3"/><line x1="1762.20" y1="56.9" x2="1762.20" y2="185.1" stroke="#ebebeb" stroke-width="1.3"/><line x1="1555.6" y1="63.90" x2="1770.4" y2="63.90" stroke="#ebebeb" stroke-width="1.3"/><line x1="1555.6" y1="88.65" x2="1770.4" y2="88.65" stroke="#ebebeb" stroke-width="1.3"/><line x1="1555.6" y1="113.40" x2="1770.4" y2="113.40" stroke="#ebebeb" stroke-width="1.3"/><line x1="1555.6" y1="138.15" x2="1770.4" y2="138.15" stroke="#ebebeb" stroke-width="1.3"/><line x1="1555.6" y1="162.90" x2="1770.4" y2="162.90" stroke="#ebebeb" stroke-width="1.3"/></g>
<g clip-path="url(#c_B2_00)" fill="#ffa500"><circle cx="1589.1" cy="123.5" r="2.4"/><circle cx="1595.8" cy="136.7" r="2.4"/><circle cx="1578.9" cy="141.3" r="2.4"/><circle cx="1582.0" cy="144.4" r="2.4"/><circle cx="1576.9" cy="147.2" r="2.4"/><circle cx="1598.8" cy="146.7" r="2.4"/><circle cx="1608.0" cy="142.1" r="2.4"/><circle cx="1615.1" cy="145.9" r="2.4"/><circle cx="1616.2" cy="147.1" r="2.4"/><circle cx="1628.7" cy="147.6" r="2.4"/><circle cx="1639.8" cy="142.1" r="2.4"/><circle cx="1609.5" cy="151.0" r="2.4"/><circle cx="1616.2" cy="153.5" r="2.4"/><circle cx="1621.8" cy="153.2" r="2.4"/><circle cx="1630.9" cy="155.9" r="2.4"/><circle cx="1642.7" cy="157.3" r="2.4"/><circle cx="1649.6" cy="164.4" r="2.4"/><circle cx="1566.7" cy="162.4" r="2.4"/><circle cx="1568.4" cy="168.6" r="2.4"/><circle cx="1577.9" cy="178.5" r="2.4"/><circle cx="1579.5" cy="175.4" r="2.4"/><circle cx="1603.1" cy="179.3" r="2.4"/><circle cx="1620.0" cy="172.6" r="2.4"/><circle cx="1622.1" cy="167.3" r="2.4"/><circle cx="1591.7" cy="172.4" r="2.4"/><circle cx="1585.1" cy="172.6" r="2.4"/><circle cx="1602.7" cy="171.9" r="2.4"/><circle cx="1591.9" cy="162.7" r="2.4"/><circle cx="1617.4" cy="160.8" r="2.4"/><circle cx="1594.9" cy="163.2" r="2.4"/><circle cx="1577.5" cy="161.7" r="2.4"/><circle cx="1601.5" cy="167.4" r="2.4"/><circle cx="1572.6" cy="157.6" r="2.4"/><circle cx="1604.9" cy="152.3" r="2.4"/><circle cx="1602.8" cy="163.8" r="2.4"/><circle cx="1596.0" cy="152.7" r="2.4"/><circle cx="1577.8" cy="156.3" r="2.4"/><circle cx="1569.1" cy="160.8" r="2.4"/><circle cx="1591.3" cy="168.3" r="2.4"/><circle cx="1595.5" cy="164.3" r="2.4"/><circle cx="1594.5" cy="164.7" r="2.4"/><circle cx="1592.2" cy="157.1" r="2.4"/><circle cx="1612.9" cy="165.7" r="2.4"/><circle cx="1584.5" cy="156.1" r="2.4"/><circle cx="1583.1" cy="152.9" r="2.4"/><circle cx="1608.9" cy="159.5" r="2.4"/><circle cx="1613.2" cy="159.2" r="2.4"/><circle cx="1616.7" cy="160.9" r="2.4"/><circle cx="1620.4" cy="159.4" r="2.4"/><circle cx="1571.4" cy="164.1" r="2.4"/><circle cx="1609.5" cy="156.9" r="2.4"/><circle cx="1572.2" cy="158.2" r="2.4"/><circle cx="1573.9" cy="156.4" r="2.4"/><circle cx="1610.5" cy="155.1" r="2.4"/><circle cx="1597.7" cy="160.4" r="2.4"/><circle cx="1577.8" cy="166.1" r="2.4"/><circle cx="1574.6" cy="164.4" r="2.4"/><circle cx="1573.8" cy="159.9" r="2.4"/><circle cx="1579.0" cy="156.9" r="2.4"/><circle cx="1583.9" cy="169.2" r="2.4"/><circle cx="1578.9" cy="159.4" r="2.4"/><circle cx="1613.6" cy="164.3" r="2.4"/><circle cx="1579.0" cy="156.7" r="2.4"/><circle cx="1609.2" cy="158.1" r="2.4"/><circle cx="1583.5" cy="153.0" r="2.4"/><circle cx="1572.4" cy="163.2" r="2.4"/><circle cx="1580.6" cy="163.5" r="2.4"/><circle cx="1587.6" cy="160.6" r="2.4"/><circle cx="1619.3" cy="161.2" r="2.4"/><circle cx="1598.5" cy="168.8" r="2.4"/><circle cx="1577.4" cy="154.6" r="2.4"/><circle cx="1581.0" cy="155.3" r="2.4"/><circle cx="1615.1" cy="163.6" r="2.4"/><circle cx="1590.3" cy="153.6" r="2.4"/><circle cx="1580.4" cy="165.6" r="2.4"/><circle cx="1581.4" cy="168.0" r="2.4"/><circle cx="1599.7" cy="157.4" r="2.4"/><circle cx="1577.0" cy="165.9" r="2.4"/><circle cx="1597.7" cy="168.5" r="2.4"/><circle cx="1600.7" cy="157.1" r="2.4"/><circle cx="1591.6" cy="152.7" r="2.4"/><circle cx="1577.0" cy="158.9" r="2.4"/><circle cx="1598.4" cy="154.1" r="2.4"/><circle cx="1587.1" cy="169.3" r="2.4"/><circle cx="1604.8" cy="163.2" r="2.4"/><circle cx="1568.6" cy="164.2" r="2.4"/><circle cx="1593.5" cy="166.1" r="2.4"/><circle cx="1571.6" cy="162.4" r="2.4"/><circle cx="1607.3" cy="169.5" r="2.4"/><circle cx="1607.3" cy="165.6" r="2.4"/><circle cx="1586.5" cy="165.2" r="2.4"/><circle cx="1590.0" cy="167.3" r="2.4"/><circle cx="1614.1" cy="163.0" r="2.4"/><circle cx="1601.2" cy="159.1" r="2.4"/><circle cx="1599.0" cy="163.7" r="2.4"/><circle cx="1571.8" cy="164.3" r="2.4"/><circle cx="1606.8" cy="159.3" r="2.4"/><circle cx="1607.2" cy="163.1" r="2.4"/><circle cx="1591.3" cy="168.3" r="2.4"/><circle cx="1572.0" cy="166.5" r="2.4"/><circle cx="1569.1" cy="163.5" r="2.4"/><circle cx="1593.5" cy="156.1" r="2.4"/><circle cx="1605.2" cy="161.4" r="2.4"/><circle cx="1600.7" cy="169.9" r="2.4"/><circle cx="1583.8" cy="165.1" r="2.4"/><circle cx="1578.4" cy="154.9" r="2.4"/><circle cx="1616.4" cy="164.7" r="2.4"/><circle cx="1591.4" cy="169.3" r="2.4"/><circle cx="1585.2" cy="164.8" r="2.4"/><circle cx="1578.2" cy="160.1" r="2.4"/><circle cx="1615.0" cy="159.2" r="2.4"/><circle cx="1599.0" cy="157.8" r="2.4"/><circle cx="1574.9" cy="161.4" r="2.4"/><circle cx="1612.7" cy="168.5" r="2.4"/><circle cx="1605.9" cy="170.5" r="2.4"/><circle cx="1582.4" cy="154.9" r="2.4"/><circle cx="1591.8" cy="157.0" r="2.4"/><circle cx="1579.1" cy="159.8" r="2.4"/><circle cx="1601.3" cy="161.4" r="2.4"/><circle cx="1584.5" cy="168.3" r="2.4"/><circle cx="1620.5" cy="160.5" r="2.4"/><circle cx="1605.8" cy="162.9" r="2.4"/><circle cx="1584.2" cy="167.3" r="2.4"/><circle cx="1592.1" cy="152.0" r="2.4"/><circle cx="1612.3" cy="156.2" r="2.4"/><circle cx="1601.5" cy="160.4" r="2.4"/><circle cx="1601.5" cy="164.6" r="2.4"/><circle cx="1604.5" cy="155.5" r="2.4"/><circle cx="1593.2" cy="155.1" r="2.4"/><circle cx="1568.1" cy="160.9" r="2.4"/><circle cx="1606.1" cy="155.1" r="2.4"/><circle cx="1582.2" cy="158.4" r="2.4"/><circle cx="1605.2" cy="161.9" r="2.4"/><circle cx="1600.7" cy="166.6" r="2.4"/><circle cx="1588.7" cy="167.3" r="2.4"/><circle cx="1617.9" cy="165.9" r="2.4"/><circle cx="1574.5" cy="160.6" r="2.4"/><circle cx="1601.3" cy="169.7" r="2.4"/><circle cx="1587.8" cy="162.9" r="2.4"/><circle cx="1615.0" cy="167.4" r="2.4"/><circle cx="1618.5" cy="160.8" r="2.4"/><circle cx="1602.7" cy="155.6" r="2.4"/><circle cx="1606.5" cy="167.9" r="2.4"/><circle cx="1602.1" cy="165.9" r="2.4"/><circle cx="1579.0" cy="169.5" r="2.4"/><circle cx="1596.5" cy="167.3" r="2.4"/><circle cx="1584.8" cy="169.7" r="2.4"/><circle cx="1613.7" cy="158.5" r="2.4"/><circle cx="1572.0" cy="160.3" r="2.4"/><circle cx="1597.2" cy="166.9" r="2.4"/><circle cx="1593.8" cy="152.1" r="2.4"/><circle cx="1610.7" cy="155.0" r="2.4"/><circle cx="1585.6" cy="167.3" r="2.4"/><circle cx="1595.4" cy="166.0" r="2.4"/><circle cx="1612.9" cy="165.3" r="2.4"/><circle cx="1618.6" cy="161.4" r="2.4"/><circle cx="1579.5" cy="162.0" r="2.4"/></g>
<polygon points="1567.2,159.9 1569.3,159.8 1571.3,159.8 1573.4,159.8 1575.4,159.7 1577.5,159.6 1579.6,159.6 1581.6,159.5 1583.7,159.4 1585.7,159.4 1587.8,159.3 1589.9,159.2 1591.9,159.1 1594.0,159.1 1596.0,159.0 1598.1,158.9 1600.2,158.8 1602.2,158.7 1604.3,158.6 1606.3,158.4 1608.4,158.3 1610.5,158.2 1612.5,158.1 1614.6,158.0 1616.6,157.8 1618.7,157.7 1620.8,157.6 1622.8,157.4 1624.9,157.3 1626.9,157.2 1629.0,157.1 1631.1,156.9 1633.1,156.8 1635.2,156.6 1637.2,156.5 1639.3,156.3 1641.4,156.2 1643.4,156.1 1645.5,155.9 1647.5,155.8 1649.6,155.6 1649.6,161.6 1647.5,161.6 1645.5,161.6 1643.4,161.7 1641.4,161.7 1639.3,161.7 1637.2,161.7 1635.2,161.7 1633.1,161.8 1631.1,161.8 1629.0,161.8 1626.9,161.8 1624.9,161.9 1622.8,161.9 1620.8,161.9 1618.7,162.0 1616.6,162.0 1614.6,162.0 1612.5,162.1 1610.5,162.1 1608.4,162.2 1606.3,162.2 1604.3,162.3 1602.2,162.3 1600.2,162.4 1598.1,162.5 1596.0,162.5 1594.0,162.6 1591.9,162.7 1589.9,162.8 1587.8,162.8 1585.7,162.9 1583.7,163.0 1581.6,163.1 1579.6,163.2 1577.5,163.3 1575.4,163.4 1573.4,163.6 1571.3,163.7 1569.3,163.8 1567.2,163.9" fill="#999999" fill-opacity="0.4" clip-path="url(#c_B2_00)"/>
<polyline points="1567.2,161.9 1569.3,161.8 1571.3,161.7 1573.4,161.7 1575.4,161.6 1577.5,161.5 1579.6,161.4 1581.6,161.3 1583.7,161.2 1585.7,161.2 1587.8,161.1 1589.9,161.0 1591.9,160.9 1594.0,160.8 1596.0,160.8 1598.1,160.7 1600.2,160.6 1602.2,160.5 1604.3,160.4 1606.3,160.3 1608.4,160.2 1610.5,160.2 1612.5,160.1 1614.6,160.0 1616.6,159.9 1618.7,159.8 1620.8,159.8 1622.8,159.7 1624.9,159.6 1626.9,159.5 1629.0,159.4 1631.1,159.3 1633.1,159.3 1635.2,159.2 1637.2,159.1 1639.3,159.0 1641.4,158.9 1643.4,158.8 1645.5,158.8 1647.5,158.7 1649.6,158.6" fill="none" stroke="#ffd700" stroke-width="2.8" clip-path="url(#c_B2_00)"/>
<path d="M1555.6,56.9V185.1M1770.4,56.9V185.1" stroke="#999999" stroke-width="1.3" fill="none"/>
<path d="M1555.0,56.9H1771.0" stroke="#555555" stroke-width="1.4" fill="none"/>
<path d="M1555.0,185.1H1771.0" stroke="#6a6a6a" stroke-width="1.2" fill="none"/>
<line x1="1551.60" y1="63.90" x2="1555.6" y2="63.90" stroke="#3a3a3a" stroke-width="1.3"/><line x1="1551.60" y1="88.65" x2="1555.6" y2="88.65" stroke="#3a3a3a" stroke-width="1.3"/><line x1="1551.60" y1="113.40" x2="1555.6" y2="113.40" stroke="#3a3a3a" stroke-width="1.3"/><line x1="1551.60" y1="138.15" x2="1555.6" y2="138.15" stroke="#3a3a3a" stroke-width="1.3"/><line x1="1551.60" y1="162.90" x2="1555.6" y2="162.90" stroke="#3a3a3a" stroke-width="1.3"/>
<text transform="translate(1548.80,69.56) scale(0.965,1)" text-anchor="end" font-size="15.8" stroke="#1a1a1a" stroke-width="0.3">2.00</text>
<text transform="translate(1548.80,94.31) scale(0.965,1)" text-anchor="end" font-size="15.8" stroke="#1a1a1a" stroke-width="0.3">1.75</text>
<text transform="translate(1548.80,119.06) scale(0.965,1)" text-anchor="end" font-size="15.8" stroke="#1a1a1a" stroke-width="0.3">1.50</text>
<text transform="translate(1548.80,143.81) scale(0.965,1)" text-anchor="end" font-size="15.8" stroke="#1a1a1a" stroke-width="0.3">1.25</text>
<text transform="translate(1548.80,168.56) scale(0.965,1)" text-anchor="end" font-size="15.8" stroke="#1a1a1a" stroke-width="0.3">1.00</text>
<rect x="1778.4" y="28.2" width="214.50" height="28.70" fill="#d9d9d9"/>
<path d="M1778.4,28.2V56.9M1992.9,28.2V56.9" stroke="#999999" stroke-width="1.3" fill="none"/>
<path d="M1777.8000000000002,28.2H1993.5" stroke="#6a6a6a" stroke-width="1.2" fill="none"/>
<text x="1885.65" y="48.81" text-anchor="middle" font-size="17.5">A−/TN+</text>
<clipPath id="c_B2_01"><rect x="1778.4" y="56.9" width="214.50" height="128.20"/></clipPath>
<rect x="1778.4" y="56.9" width="214.50" height="128.20" fill="#fff"/>
<g clip-path="url(#c_B2_01)"><line x1="1807.55" y1="56.9" x2="1807.55" y2="185.1" stroke="#f3f3f3" stroke-width="0.8"/><line x1="1858.25" y1="56.9" x2="1858.25" y2="185.1" stroke="#f3f3f3" stroke-width="0.8"/><line x1="1908.95" y1="56.9" x2="1908.95" y2="185.1" stroke="#f3f3f3" stroke-width="0.8"/><line x1="1959.65" y1="56.9" x2="1959.65" y2="185.1" stroke="#f3f3f3" stroke-width="0.8"/><line x1="1778.4" y1="51.53" x2="1992.9" y2="51.53" stroke="#f3f3f3" stroke-width="0.8"/><line x1="1778.4" y1="76.28" x2="1992.9" y2="76.28" stroke="#f3f3f3" stroke-width="0.8"/><line x1="1778.4" y1="101.03" x2="1992.9" y2="101.03" stroke="#f3f3f3" stroke-width="0.8"/><line x1="1778.4" y1="125.78" x2="1992.9" y2="125.78" stroke="#f3f3f3" stroke-width="0.8"/><line x1="1778.4" y1="150.53" x2="1992.9" y2="150.53" stroke="#f3f3f3" stroke-width="0.8"/><line x1="1778.4" y1="175.28" x2="1992.9" y2="175.28" stroke="#f3f3f3" stroke-width="0.8"/><line x1="1782.20" y1="56.9" x2="1782.20" y2="185.1" stroke="#ebebeb" stroke-width="1.3"/><line x1="1832.90" y1="56.9" x2="1832.90" y2="185.1" stroke="#ebebeb" stroke-width="1.3"/><line x1="1883.60" y1="56.9" x2="1883.60" y2="185.1" stroke="#ebebeb" stroke-width="1.3"/><line x1="1934.30" y1="56.9" x2="1934.30" y2="185.1" stroke="#ebebeb" stroke-width="1.3"/><line x1="1985.00" y1="56.9" x2="1985.00" y2="185.1" stroke="#ebebeb" stroke-width="1.3"/><line x1="1778.4" y1="63.90" x2="1992.9" y2="63.90" stroke="#ebebeb" stroke-width="1.3"/><line x1="1778.4" y1="88.65" x2="1992.9" y2="88.65" stroke="#ebebeb" stroke-width="1.3"/><line x1="1778.4" y1="113.40" x2="1992.9" y2="113.40" stroke="#ebebeb" stroke-width="1.3"/><line x1="1778.4" y1="138.15" x2="1992.9" y2="138.15" stroke="#ebebeb" stroke-width="1.3"/><line x1="1778.4" y1="162.90" x2="1992.9" y2="162.90" stroke="#ebebeb" stroke-width="1.3"/></g>
<g clip-path="url(#c_B2_01)" fill="#ffa500"><circle cx="1863.8" cy="63.1" r="2.4"/><circle cx="1806.6" cy="96.3" r="2.4"/><circle cx="1830.1" cy="100.4" r="2.4"/><circle cx="1843.9" cy="107.6" r="2.4"/><circle cx="1834.2" cy="113.0" r="2.4"/><circle cx="1833.8" cy="115.6" r="2.4"/><circle cx="1820.7" cy="117.9" r="2.4"/><circle cx="1822.4" cy="121.7" r="2.4"/><circle cx="1841.9" cy="119.9" r="2.4"/><circle cx="1845.3" cy="119.9" r="2.4"/><circle cx="1852.2" cy="123.3" r="2.4"/><circle cx="1862.8" cy="126.3" r="2.4"/><circle cx="1866.8" cy="129.6" r="2.4"/><circle cx="1837.9" cy="130.9" r="2.4"/><circle cx="1861.1" cy="133.7" r="2.4"/><circle cx="1862.6" cy="132.9" r="2.4"/><circle cx="1900.5" cy="129.6" r="2.4"/><circle cx="1805.1" cy="140.9" r="2.4"/><circle cx="1815.5" cy="137.5" r="2.4"/><circle cx="1825.0" cy="136.0" r="2.4"/><circle cx="1826.9" cy="137.5" r="2.4"/><circle cx="1832.7" cy="136.8" r="2.4"/><circle cx="1833.0" cy="141.1" r="2.4"/><circle cx="1832.4" cy="144.8" r="2.4"/><circle cx="1838.8" cy="138.8" r="2.4"/><circle cx="1840.8" cy="138.8" r="2.4"/><circle cx="1851.1" cy="140.9" r="2.4"/><circle cx="1855.3" cy="141.4" r="2.4"/><circle cx="1847.0" cy="144.5" r="2.4"/><circle cx="1816.6" cy="142.5" r="2.4"/><circle cx="1815.8" cy="144.0" r="2.4"/><circle cx="1825.0" cy="146.0" r="2.4"/><circle cx="1854.6" cy="146.8" r="2.4"/><circle cx="1837.8" cy="147.5" r="2.4"/><circle cx="1828.1" cy="149.1" r="2.4"/><circle cx="1811.2" cy="149.1" r="2.4"/><circle cx="1815.8" cy="149.8" r="2.4"/><circle cx="1820.4" cy="150.6" r="2.4"/><circle cx="1840.4" cy="150.1" r="2.4"/><circle cx="1801.2" cy="149.8" r="2.4"/><circle cx="1799.7" cy="158.3" r="2.4"/><circle cx="1805.8" cy="164.4" r="2.4"/><circle cx="1806.6" cy="161.3" r="2.4"/><circle cx="1811.2" cy="161.3" r="2.4"/><circle cx="1814.3" cy="162.9" r="2.4"/><circle cx="1818.9" cy="158.3" r="2.4"/><circle cx="1822.0" cy="162.9" r="2.4"/><circle cx="1825.0" cy="164.4" r="2.4"/><circle cx="1828.1" cy="162.9" r="2.4"/><circle cx="1831.2" cy="165.9" r="2.4"/><circle cx="1834.2" cy="162.9" r="2.4"/><circle cx="1837.3" cy="158.3" r="2.4"/><circle cx="1840.4" cy="158.3" r="2.4"/><circle cx="1843.4" cy="161.3" r="2.4"/><circle cx="1846.5" cy="164.4" r="2.4"/><circle cx="1849.6" cy="161.3" r="2.4"/><circle cx="1852.6" cy="158.3" r="2.4"/><circle cx="1855.7" cy="158.3" r="2.4"/><circle cx="1858.8" cy="155.2" r="2.4"/><circle cx="1860.3" cy="161.3" r="2.4"/><circle cx="1866.1" cy="161.3" r="2.4"/><circle cx="1858.5" cy="166.2" r="2.4"/><circle cx="1875.7" cy="157.5" r="2.4"/><circle cx="1870.7" cy="152.6" r="2.4"/><circle cx="1879.0" cy="150.3" r="2.4"/><circle cx="1896.1" cy="155.2" r="2.4"/><circle cx="1895.9" cy="159.3" r="2.4"/><circle cx="1903.6" cy="152.1" r="2.4"/><circle cx="1893.0" cy="167.2" r="2.4"/><circle cx="1883.0" cy="171.0" r="2.4"/><circle cx="1932.1" cy="160.9" r="2.4"/><circle cx="1927.2" cy="169.0" r="2.4"/><circle cx="1806.3" cy="171.8" r="2.4"/><circle cx="1810.8" cy="172.4" r="2.4"/><circle cx="1814.3" cy="169.8" r="2.4"/><circle cx="1818.1" cy="167.5" r="2.4"/><circle cx="1825.0" cy="170.5" r="2.4"/><circle cx="1825.0" cy="176.4" r="2.4"/><circle cx="1838.8" cy="176.7" r="2.4"/><circle cx="1836.8" cy="168.5" r="2.4"/><circle cx="1842.2" cy="169.3" r="2.4"/><circle cx="1851.1" cy="172.1" r="2.4"/><circle cx="1843.4" cy="165.9" r="2.4"/><circle cx="1846.5" cy="165.2" r="2.4"/><circle cx="1829.6" cy="167.5" r="2.4"/><circle cx="1823.5" cy="157.5" r="2.4"/><circle cx="1826.6" cy="156.7" r="2.4"/><circle cx="1832.7" cy="157.5" r="2.4"/><circle cx="1808.9" cy="155.2" r="2.4"/><circle cx="1814.3" cy="155.2" r="2.4"/><circle cx="1817.4" cy="164.4" r="2.4"/><circle cx="1820.4" cy="164.4" r="2.4"/><circle cx="1811.2" cy="165.9" r="2.4"/><circle cx="1822.1" cy="157.7" r="2.4"/><circle cx="1809.6" cy="168.6" r="2.4"/><circle cx="1833.5" cy="165.0" r="2.4"/><circle cx="1832.1" cy="160.1" r="2.4"/><circle cx="1842.4" cy="163.2" r="2.4"/><circle cx="1845.3" cy="164.6" r="2.4"/><circle cx="1848.7" cy="161.0" r="2.4"/><circle cx="1809.0" cy="156.4" r="2.4"/><circle cx="1841.9" cy="156.7" r="2.4"/><circle cx="1838.0" cy="163.9" r="2.4"/><circle cx="1803.5" cy="166.5" r="2.4"/><circle cx="1801.9" cy="167.9" r="2.4"/><circle cx="1848.8" cy="157.5" r="2.4"/><circle cx="1842.1" cy="165.7" r="2.4"/><circle cx="1807.3" cy="164.7" r="2.4"/><circle cx="1807.2" cy="168.6" r="2.4"/><circle cx="1840.0" cy="169.7" r="2.4"/><circle cx="1803.1" cy="159.1" r="2.4"/><circle cx="1836.0" cy="163.7" r="2.4"/><circle cx="1810.6" cy="168.2" r="2.4"/><circle cx="1849.1" cy="158.8" r="2.4"/><circle cx="1808.5" cy="164.7" r="2.4"/><circle cx="1823.6" cy="164.6" r="2.4"/><circle cx="1828.6" cy="160.3" r="2.4"/><circle cx="1801.3" cy="156.2" r="2.4"/><circle cx="1826.6" cy="165.7" r="2.4"/><circle cx="1824.7" cy="165.9" r="2.4"/><circle cx="1831.3" cy="168.1" r="2.4"/><circle cx="1838.0" cy="159.1" r="2.4"/><circle cx="1808.1" cy="155.1" r="2.4"/><circle cx="1802.3" cy="167.8" r="2.4"/><circle cx="1850.7" cy="166.0" r="2.4"/><circle cx="1806.3" cy="164.6" r="2.4"/><circle cx="1807.4" cy="168.2" r="2.4"/><circle cx="1838.0" cy="166.0" r="2.4"/></g>
<polygon points="1800.0,150.2 1803.3,150.3 1806.6,150.3 1809.9,150.4 1813.2,150.4 1816.5,150.3 1819.8,150.2 1823.1,150.1 1826.4,150.0 1829.7,149.8 1833.0,149.5 1836.3,149.3 1839.6,149.0 1842.9,148.6 1846.2,148.3 1849.5,147.9 1852.8,147.6 1856.1,147.2 1859.4,146.8 1862.8,146.4 1866.0,146.0 1869.3,145.6 1872.7,145.1 1876.0,144.7 1879.3,144.3 1882.6,143.9 1885.9,143.4 1889.2,143.0 1892.5,142.6 1895.8,142.1 1899.1,141.7 1902.4,141.2 1905.7,140.8 1909.0,140.3 1912.3,139.9 1915.6,139.4 1918.9,139.0 1922.2,138.6 1925.5,138.1 1928.8,137.7 1932.1,137.2 1932.1,160.2 1928.8,160.0 1925.5,159.8 1922.2,159.6 1918.9,159.4 1915.6,159.2 1912.3,159.0 1909.0,158.8 1905.7,158.6 1902.4,158.4 1899.1,158.2 1895.8,158.0 1892.5,157.8 1889.2,157.7 1885.9,157.5 1882.6,157.3 1879.3,157.1 1876.0,156.9 1872.7,156.8 1869.3,156.6 1866.0,156.4 1862.8,156.3 1859.4,156.1 1856.1,156.0 1852.8,155.8 1849.5,155.7 1846.2,155.6 1842.9,155.5 1839.6,155.4 1836.3,155.4 1833.0,155.4 1829.7,155.4 1826.4,155.4 1823.1,155.5 1819.8,155.7 1816.5,155.8 1813.2,156.0 1809.9,156.3 1806.6,156.6 1803.3,156.9 1800.0,157.2" fill="#999999" fill-opacity="0.4" clip-path="url(#c_B2_01)"/>
<polyline points="1800.0,153.7 1803.3,153.6 1806.6,153.4 1809.9,153.3 1813.2,153.2 1816.5,153.1 1819.8,152.9 1823.1,152.8 1826.4,152.7 1829.7,152.6 1833.0,152.4 1836.3,152.3 1839.6,152.2 1842.9,152.1 1846.2,151.9 1849.5,151.8 1852.8,151.7 1856.1,151.6 1859.4,151.4 1862.8,151.3 1866.0,151.2 1869.3,151.1 1872.7,150.9 1876.0,150.8 1879.3,150.7 1882.6,150.6 1885.9,150.4 1889.2,150.3 1892.5,150.2 1895.8,150.1 1899.1,149.9 1902.4,149.8 1905.7,149.7 1909.0,149.6 1912.3,149.4 1915.6,149.3 1918.9,149.2 1922.2,149.1 1925.5,148.9 1928.8,148.8 1932.1,148.7" fill="none" stroke="#ffd700" stroke-width="2.8" clip-path="url(#c_B2_01)"/>
<path d="M1778.4,56.9V185.1M1992.9,56.9V185.1" stroke="#999999" stroke-width="1.3" fill="none"/>
<path d="M1777.8000000000002,56.9H1993.5" stroke="#555555" stroke-width="1.4" fill="none"/>
<path d="M1777.8000000000002,185.1H1993.5" stroke="#6a6a6a" stroke-width="1.2" fill="none"/>

<rect x="1555.6" y="192.6" width="214.80" height="28.80" fill="#d9d9d9"/>
<path d="M1555.6,192.6V221.4M1770.4,192.6V221.4" stroke="#999999" stroke-width="1.3" fill="none"/>
<path d="M1555.0,192.6H1771.0" stroke="#6a6a6a" stroke-width="1.2" fill="none"/>
<text x="1663.00" y="213.26" text-anchor="middle" font-size="17.5">A+/TN−</text>
<clipPath id="c_B2_10"><rect x="1555.6" y="221.4" width="214.80" height="127.40"/></clipPath>
<rect x="1555.6" y="221.4" width="214.80" height="127.40" fill="#fff"/>
<g clip-path="url(#c_B2_10)"><line x1="1584.75" y1="221.4" x2="1584.75" y2="348.8" stroke="#f3f3f3" stroke-width="0.8"/><line x1="1635.45" y1="221.4" x2="1635.45" y2="348.8" stroke="#f3f3f3" stroke-width="0.8"/><line x1="1686.15" y1="221.4" x2="1686.15" y2="348.8" stroke="#f3f3f3" stroke-width="0.8"/><line x1="1736.85" y1="221.4" x2="1736.85" y2="348.8" stroke="#f3f3f3" stroke-width="0.8"/><line x1="1555.6" y1="216.23" x2="1770.4" y2="216.23" stroke="#f3f3f3" stroke-width="0.8"/><line x1="1555.6" y1="240.98" x2="1770.4" y2="240.98" stroke="#f3f3f3" stroke-width="0.8"/><line x1="1555.6" y1="265.73" x2="1770.4" y2="265.73" stroke="#f3f3f3" stroke-width="0.8"/><line x1="1555.6" y1="290.48" x2="1770.4" y2="290.48" stroke="#f3f3f3" stroke-width="0.8"/><line x1="1555.6" y1="315.23" x2="1770.4" y2="315.23" stroke="#f3f3f3" stroke-width="0.8"/><line x1="1555.6" y1="339.98" x2="1770.4" y2="339.98" stroke="#f3f3f3" stroke-width="0.8"/><line x1="1559.40" y1="221.4" x2="1559.40" y2="348.8" stroke="#ebebeb" stroke-width="1.3"/><line x1="1610.10" y1="221.4" x2="1610.10" y2="348.8" stroke="#ebebeb" stroke-width="1.3"/><line x1="1660.80" y1="221.4" x2="1660.80" y2="348.8" stroke="#ebebeb" stroke-width="1.3"/><line x1="1711.50" y1="221.4" x2="1711.50" y2="348.8" stroke="#ebebeb" stroke-width="1.3"/><line x1="1762.20" y1="221.4" x2="1762.20" y2="348.8" stroke="#ebebeb" stroke-width="1.3"/><line x1="1555.6" y1="228.60" x2="1770.4" y2="228.60" stroke="#ebebeb" stroke-width="1.3"/><line x1="1555.6" y1="253.35" x2="1770.4" y2="253.35" stroke="#ebebeb" stroke-width="1.3"/><line x1="1555.6" y1="278.10" x2="1770.4" y2="278.10" stroke="#ebebeb" stroke-width="1.3"/><line x1="1555.6" y1="302.85" x2="1770.4" y2="302.85" stroke="#ebebeb" stroke-width="1.3"/><line x1="1555.6" y1="327.60" x2="1770.4" y2="327.60" stroke="#ebebeb" stroke-width="1.3"/></g>
<g clip-path="url(#c_B2_10)" fill="#ffa500"><circle cx="1575.8" cy="257.8" r="2.4"/><circle cx="1586.2" cy="262.4" r="2.4"/><circle cx="1578.1" cy="265.4" r="2.4"/><circle cx="1601.4" cy="264.4" r="2.4"/><circle cx="1571.2" cy="274.1" r="2.4"/><circle cx="1578.9" cy="275.6" r="2.4"/><circle cx="1583.4" cy="276.4" r="2.4"/><circle cx="1587.2" cy="274.6" r="2.4"/><circle cx="1592.3" cy="272.3" r="2.4"/><circle cx="1574.0" cy="279.9" r="2.4"/><circle cx="1584.2" cy="281.4" r="2.4"/><circle cx="1591.0" cy="281.4" r="2.4"/><circle cx="1595.6" cy="279.9" r="2.4"/><circle cx="1599.4" cy="280.2" r="2.4"/><circle cx="1600.6" cy="275.6" r="2.4"/><circle cx="1603.2" cy="276.8" r="2.4"/><circle cx="1578.9" cy="283.7" r="2.4"/><circle cx="1571.7" cy="286.4" r="2.4"/><circle cx="1580.4" cy="287.5" r="2.4"/><circle cx="1586.5" cy="286.0" r="2.4"/><circle cx="1592.3" cy="286.4" r="2.4"/><circle cx="1599.7" cy="289.0" r="2.4"/><circle cx="1604.8" cy="287.5" r="2.4"/><circle cx="1597.1" cy="291.8" r="2.4"/><circle cx="1608.1" cy="292.5" r="2.4"/><circle cx="1570.9" cy="292.8" r="2.4"/><circle cx="1575.0" cy="294.4" r="2.4"/><circle cx="1578.1" cy="293.6" r="2.4"/><circle cx="1582.7" cy="292.1" r="2.4"/><circle cx="1585.7" cy="293.6" r="2.4"/><circle cx="1584.9" cy="297.4" r="2.4"/><circle cx="1592.3" cy="299.2" r="2.4"/><circle cx="1589.5" cy="301.2" r="2.4"/><circle cx="1580.4" cy="302.7" r="2.4"/><circle cx="1583.4" cy="302.0" r="2.4"/><circle cx="1568.9" cy="304.3" r="2.4"/><circle cx="1622.3" cy="295.1" r="2.4"/><circle cx="1670.6" cy="289.0" r="2.4"/><circle cx="1572.8" cy="311.9" r="2.4"/><circle cx="1581.9" cy="307.3" r="2.4"/><circle cx="1588.8" cy="309.1" r="2.4"/><circle cx="1584.2" cy="313.4" r="2.4"/><circle cx="1591.0" cy="312.6" r="2.4"/><circle cx="1592.6" cy="316.5" r="2.4"/><circle cx="1595.9" cy="315.2" r="2.4"/><circle cx="1603.2" cy="317.7" r="2.4"/><circle cx="1604.8" cy="316.8" r="2.4"/><circle cx="1614.7" cy="316.1" r="2.4"/><circle cx="1618.8" cy="320.0" r="2.4"/><circle cx="1632.9" cy="316.1" r="2.4"/><circle cx="1597.9" cy="322.1" r="2.4"/><circle cx="1610.5" cy="322.1" r="2.4"/><circle cx="1612.7" cy="327.1" r="2.4"/><circle cx="1570.5" cy="318.0" r="2.4"/><circle cx="1575.0" cy="317.2" r="2.4"/><circle cx="1578.9" cy="319.5" r="2.4"/><circle cx="1582.7" cy="319.5" r="2.4"/><circle cx="1586.5" cy="321.0" r="2.4"/><circle cx="1565.1" cy="326.1" r="2.4"/><circle cx="1569.7" cy="322.5" r="2.4"/><circle cx="1572.8" cy="327.1" r="2.4"/><circle cx="1577.3" cy="325.6" r="2.4"/><circle cx="1581.1" cy="325.6" r="2.4"/><circle cx="1584.9" cy="327.1" r="2.4"/><circle cx="1588.0" cy="328.6" r="2.4"/><circle cx="1591.8" cy="327.1" r="2.4"/><circle cx="1593.3" cy="330.2" r="2.4"/><circle cx="1571.2" cy="331.7" r="2.4"/><circle cx="1578.9" cy="329.4" r="2.4"/><circle cx="1582.7" cy="331.7" r="2.4"/><circle cx="1586.5" cy="330.9" r="2.4"/><circle cx="1565.1" cy="334.3" r="2.4"/><circle cx="1573.5" cy="334.4" r="2.4"/><circle cx="1581.9" cy="334.7" r="2.4"/><circle cx="1593.3" cy="335.2" r="2.4"/><circle cx="1596.4" cy="335.2" r="2.4"/><circle cx="1579.6" cy="339.6" r="2.4"/><circle cx="1613.1" cy="341.1" r="2.4"/><circle cx="1575.8" cy="321.0" r="2.4"/><circle cx="1580.4" cy="314.9" r="2.4"/><circle cx="1575.8" cy="313.4" r="2.4"/></g>
<polygon points="1565.1,303.5 1567.7,303.5 1570.4,303.4 1573.0,303.2 1575.7,303.0 1578.3,302.8 1580.9,302.4 1583.6,302.0 1586.2,301.5 1588.8,301.0 1591.5,300.4 1594.1,299.8 1596.8,299.1 1599.4,298.3 1602.0,297.6 1604.7,296.8 1607.3,296.0 1609.9,295.2 1612.6,294.3 1615.2,293.5 1617.8,292.6 1620.5,291.7 1623.1,290.9 1625.8,290.0 1628.4,289.1 1631.0,288.2 1633.7,287.3 1636.3,286.4 1639.0,285.5 1641.6,284.6 1644.2,283.6 1646.9,282.7 1649.5,281.8 1652.1,280.9 1654.8,280.0 1657.4,279.0 1660.0,278.1 1662.7,277.2 1665.3,276.3 1668.0,275.3 1670.6,274.4 1670.6,316.8 1668.0,316.6 1665.3,316.3 1662.7,316.1 1660.0,315.9 1657.4,315.7 1654.8,315.4 1652.1,315.2 1649.5,315.0 1646.9,314.8 1644.2,314.6 1641.6,314.3 1639.0,314.1 1636.3,313.9 1633.7,313.7 1631.0,313.5 1628.4,313.3 1625.8,313.1 1623.1,312.9 1620.5,312.8 1617.8,312.6 1615.2,312.4 1612.6,312.3 1609.9,312.1 1607.3,312.0 1604.7,311.9 1602.0,311.8 1599.4,311.8 1596.8,311.7 1594.1,311.8 1591.5,311.8 1588.8,311.9 1586.2,312.1 1583.6,312.3 1580.9,312.6 1578.3,312.9 1575.7,313.4 1573.0,313.9 1570.4,314.4 1567.7,315.0 1565.1,315.7" fill="#999999" fill-opacity="0.4" clip-path="url(#c_B2_10)"/>
<polyline points="1565.1,309.6 1567.7,309.2 1570.4,308.9 1573.0,308.6 1575.7,308.2 1578.3,307.9 1580.9,307.5 1583.6,307.1 1586.2,306.8 1588.8,306.4 1591.5,306.1 1594.1,305.8 1596.8,305.4 1599.4,305.1 1602.0,304.7 1604.7,304.4 1607.3,304.0 1609.9,303.6 1612.6,303.3 1615.2,302.9 1617.8,302.6 1620.5,302.2 1623.1,301.9 1625.8,301.6 1628.4,301.2 1631.0,300.9 1633.7,300.5 1636.3,300.1 1639.0,299.8 1641.6,299.4 1644.2,299.1 1646.9,298.8 1649.5,298.4 1652.1,298.1 1654.8,297.7 1657.4,297.4 1660.0,297.0 1662.7,296.6 1665.3,296.3 1668.0,295.9 1670.6,295.6" fill="none" stroke="#ffd700" stroke-width="2.8" clip-path="url(#c_B2_10)"/>
<path d="M1555.6,221.4V348.8M1770.4,221.4V348.8" stroke="#999999" stroke-width="1.3" fill="none"/>
<path d="M1555.0,221.4H1771.0" stroke="#555555" stroke-width="1.4" fill="none"/>
<path d="M1555.0,348.8H1771.0" stroke="#6a6a6a" stroke-width="1.2" fill="none"/>
<line x1="1551.60" y1="228.60" x2="1555.6" y2="228.60" stroke="#3a3a3a" stroke-width="1.3"/><line x1="1551.60" y1="253.35" x2="1555.6" y2="253.35" stroke="#3a3a3a" stroke-width="1.3"/><line x1="1551.60" y1="278.10" x2="1555.6" y2="278.10" stroke="#3a3a3a" stroke-width="1.3"/><line x1="1551.60" y1="302.85" x2="1555.6" y2="302.85" stroke="#3a3a3a" stroke-width="1.3"/><line x1="1551.60" y1="327.60" x2="1555.6" y2="327.60" stroke="#3a3a3a" stroke-width="1.3"/><line x1="1559.40" y1="348.8" x2="1559.40" y2="352.80" stroke="#3a3a3a" stroke-width="1.3"/><line x1="1610.10" y1="348.8" x2="1610.10" y2="352.80" stroke="#3a3a3a" stroke-width="1.3"/><line x1="1660.80" y1="348.8" x2="1660.80" y2="352.80" stroke="#3a3a3a" stroke-width="1.3"/><line x1="1711.50" y1="348.8" x2="1711.50" y2="352.80" stroke="#3a3a3a" stroke-width="1.3"/><line x1="1762.20" y1="348.8" x2="1762.20" y2="352.80" stroke="#3a3a3a" stroke-width="1.3"/>
<text transform="translate(1548.80,234.26) scale(0.965,1)" text-anchor="end" font-size="15.8" stroke="#1a1a1a" stroke-width="0.3">2.00</text>
<text transform="translate(1548.80,259.01) scale(0.965,1)" text-anchor="end" font-size="15.8" stroke="#1a1a1a" stroke-width="0.3">1.75</text>
<text transform="translate(1548.80,283.76) scale(0.965,1)" text-anchor="end" font-size="15.8" stroke="#1a1a1a" stroke-width="0.3">1.50</text>
<text transform="translate(1548.80,308.51) scale(0.965,1)" text-anchor="end" font-size="15.8" stroke="#1a1a1a" stroke-width="0.3">1.25</text>
<text transform="translate(1548.80,333.26) scale(0.965,1)" text-anchor="end" font-size="15.8" stroke="#1a1a1a" stroke-width="0.3">1.00</text>
<text transform="translate(1559.40,367.00) scale(0.965,1)" text-anchor="middle" font-size="15.8" stroke="#1a1a1a" stroke-width="0.3">0</text>
<text transform="translate(1610.10,367.00) scale(0.965,1)" text-anchor="middle" font-size="15.8" stroke="#1a1a1a" stroke-width="0.3">5000</text>
<text transform="translate(1660.80,367.00) scale(0.965,1)" text-anchor="middle" font-size="15.8" stroke="#1a1a1a" stroke-width="0.3">10000</text>
<text transform="translate(1711.50,367.00) scale(0.965,1)" text-anchor="middle" font-size="15.8" stroke="#1a1a1a" stroke-width="0.3">15000</text>
<text transform="translate(1762.20,367.00) scale(0.965,1)" text-anchor="middle" font-size="15.8" stroke="#1a1a1a" stroke-width="0.3">20000</text>
<rect x="1778.4" y="192.6" width="214.50" height="28.80" fill="#d9d9d9"/>
<path d="M1778.4,192.6V221.4M1992.9,192.6V221.4" stroke="#999999" stroke-width="1.3" fill="none"/>
<path d="M1777.8000000000002,192.6H1993.5" stroke="#6a6a6a" stroke-width="1.2" fill="none"/>
<text x="1885.65" y="213.26" text-anchor="middle" font-size="17.5">A+/TN+</text>
<clipPath id="c_B2_11"><rect x="1778.4" y="221.4" width="214.50" height="127.40"/></clipPath>
<rect x="1778.4" y="221.4" width="214.50" height="127.40" fill="#fff"/>
<g clip-path="url(#c_B2_11)"><line x1="1807.55" y1="221.4" x2="1807.55" y2="348.8" stroke="#f3f3f3" stroke-width="0.8"/><line x1="1858.25" y1="221.4" x2="1858.25" y2="348.8" stroke="#f3f3f3" stroke-width="0.8"/><line x1="1908.95" y1="221.4" x2="1908.95" y2="348.8" stroke="#f3f3f3" stroke-width="0.8"/><line x1="1959.65" y1="221.4" x2="1959.65" y2="348.8" stroke="#f3f3f3" stroke-width="0.8"/><line x1="1778.4" y1="216.23" x2="1992.9" y2="216.23" stroke="#f3f3f3" stroke-width="0.8"/><line x1="1778.4" y1="240.98" x2="1992.9" y2="240.98" stroke="#f3f3f3" stroke-width="0.8"/><line x1="1778.4" y1="265.73" x2="1992.9" y2="265.73" stroke="#f3f3f3" stroke-width="0.8"/><line x1="1778.4" y1="290.48" x2="1992.9" y2="290.48" stroke="#f3f3f3" stroke-width="0.8"/><line x1="1778.4" y1="315.23" x2="1992.9" y2="315.23" stroke="#f3f3f3" stroke-width="0.8"/><line x1="1778.4" y1="339.98" x2="1992.9" y2="339.98" stroke="#f3f3f3" stroke-width="0.8"/><line x1="1782.20" y1="221.4" x2="1782.20" y2="348.8" stroke="#ebebeb" stroke-width="1.3"/><line x1="1832.90" y1="221.4" x2="1832.90" y2="348.8" stroke="#ebebeb" stroke-width="1.3"/><line x1="1883.60" y1="221.4" x2="1883.60" y2="348.8" stroke="#ebebeb" stroke-width="1.3"/><line x1="1934.30" y1="221.4" x2="1934.30" y2="348.8" stroke="#ebebeb" stroke-width="1.3"/><line x1="1985.00" y1="221.4" x2="1985.00" y2="348.8" stroke="#ebebeb" stroke-width="1.3"/><line x1="1778.4" y1="228.60" x2="1992.9" y2="228.60" stroke="#ebebeb" stroke-width="1.3"/><line x1="1778.4" y1="253.35" x2="1992.9" y2="253.35" stroke="#ebebeb" stroke-width="1.3"/><line x1="1778.4" y1="278.10" x2="1992.9" y2="278.10" stroke="#ebebeb" stroke-width="1.3"/><line x1="1778.4" y1="302.85" x2="1992.9" y2="302.85" stroke="#ebebeb" stroke-width="1.3"/><line x1="1778.4" y1="327.60" x2="1992.9" y2="327.60" stroke="#ebebeb" stroke-width="1.3"/></g>
<g clip-path="url(#c_B2_11)" fill="#ffa500"><circle cx="1826.7" cy="229.3" r="2.4"/><circle cx="1839.9" cy="240.3" r="2.4"/><circle cx="1864.0" cy="249.0" r="2.4"/><circle cx="1930.1" cy="259.8" r="2.4"/><circle cx="1793.8" cy="249.4" r="2.4"/><circle cx="1805.2" cy="246.1" r="2.4"/><circle cx="1812.2" cy="246.4" r="2.4"/><circle cx="1809.5" cy="250.2" r="2.4"/><circle cx="1844.5" cy="258.1" r="2.4"/><circle cx="1851.7" cy="258.1" r="2.4"/><circle cx="1836.1" cy="260.1" r="2.4"/><circle cx="1831.2" cy="262.4" r="2.4"/><circle cx="1858.2" cy="268.2" r="2.4"/><circle cx="1862.5" cy="270.4" r="2.4"/><circle cx="1868.6" cy="269.5" r="2.4"/><circle cx="1878.0" cy="272.3" r="2.4"/><circle cx="1889.7" cy="270.7" r="2.4"/><circle cx="1869.6" cy="275.6" r="2.4"/><circle cx="1860.9" cy="277.3" r="2.4"/><circle cx="1874.2" cy="283.2" r="2.4"/><circle cx="1888.2" cy="283.2" r="2.4"/><circle cx="1855.9" cy="291.0" r="2.4"/><circle cx="1876.0" cy="294.8" r="2.4"/><circle cx="1881.8" cy="294.7" r="2.4"/><circle cx="1882.6" cy="300.1" r="2.4"/><circle cx="1867.3" cy="297.9" r="2.4"/><circle cx="1860.5" cy="300.4" r="2.4"/><circle cx="1788.4" cy="307.3" r="2.4"/><circle cx="1796.2" cy="309.9" r="2.4"/><circle cx="1803.4" cy="308.8" r="2.4"/><circle cx="1798.8" cy="314.9" r="2.4"/><circle cx="1804.1" cy="319.5" r="2.4"/><circle cx="1807.2" cy="313.4" r="2.4"/><circle cx="1811.7" cy="314.2" r="2.4"/><circle cx="1817.8" cy="318.7" r="2.4"/><circle cx="1822.7" cy="314.9" r="2.4"/><circle cx="1828.0" cy="317.7" r="2.4"/><circle cx="1835.4" cy="319.5" r="2.4"/><circle cx="1845.0" cy="319.5" r="2.4"/><circle cx="1838.9" cy="324.4" r="2.4"/><circle cx="1821.3" cy="326.3" r="2.4"/><circle cx="1832.0" cy="328.2" r="2.4"/><circle cx="1851.2" cy="330.5" r="2.4"/><circle cx="1861.3" cy="316.4" r="2.4"/><circle cx="1865.8" cy="312.6" r="2.4"/><circle cx="1867.8" cy="311.1" r="2.4"/><circle cx="1887.1" cy="327.6" r="2.4"/><circle cx="1792.7" cy="288.7" r="2.4"/><circle cx="1820.5" cy="288.3" r="2.4"/><circle cx="1831.7" cy="259.5" r="2.4"/><circle cx="1808.9" cy="296.9" r="2.4"/><circle cx="1833.1" cy="285.2" r="2.4"/><circle cx="1825.4" cy="288.5" r="2.4"/><circle cx="1801.4" cy="276.1" r="2.4"/><circle cx="1797.3" cy="290.0" r="2.4"/><circle cx="1812.5" cy="274.2" r="2.4"/><circle cx="1822.5" cy="256.6" r="2.4"/><circle cx="1799.5" cy="275.2" r="2.4"/><circle cx="1800.8" cy="269.0" r="2.4"/><circle cx="1829.0" cy="260.7" r="2.4"/><circle cx="1833.4" cy="254.4" r="2.4"/><circle cx="1802.9" cy="297.2" r="2.4"/><circle cx="1816.2" cy="275.0" r="2.4"/><circle cx="1827.6" cy="278.2" r="2.4"/><circle cx="1815.3" cy="253.2" r="2.4"/><circle cx="1813.7" cy="271.8" r="2.4"/><circle cx="1833.0" cy="289.2" r="2.4"/><circle cx="1799.6" cy="264.7" r="2.4"/><circle cx="1814.1" cy="280.1" r="2.4"/><circle cx="1840.0" cy="279.5" r="2.4"/><circle cx="1817.9" cy="280.6" r="2.4"/><circle cx="1805.9" cy="275.4" r="2.4"/><circle cx="1815.5" cy="294.7" r="2.4"/><circle cx="1799.0" cy="282.3" r="2.4"/><circle cx="1803.3" cy="290.5" r="2.4"/><circle cx="1813.0" cy="287.2" r="2.4"/><circle cx="1796.0" cy="277.2" r="2.4"/><circle cx="1805.1" cy="267.3" r="2.4"/><circle cx="1820.6" cy="305.2" r="2.4"/><circle cx="1820.9" cy="305.0" r="2.4"/><circle cx="1814.1" cy="262.1" r="2.4"/><circle cx="1836.4" cy="302.6" r="2.4"/><circle cx="1837.7" cy="270.6" r="2.4"/><circle cx="1795.3" cy="286.2" r="2.4"/><circle cx="1822.2" cy="252.8" r="2.4"/><circle cx="1811.7" cy="295.6" r="2.4"/><circle cx="1841.3" cy="287.3" r="2.4"/><circle cx="1806.3" cy="281.0" r="2.4"/><circle cx="1820.7" cy="286.6" r="2.4"/><circle cx="1809.9" cy="300.4" r="2.4"/><circle cx="1809.1" cy="304.4" r="2.4"/><circle cx="1822.9" cy="290.5" r="2.4"/><circle cx="1833.9" cy="263.5" r="2.4"/><circle cx="1809.5" cy="265.8" r="2.4"/><circle cx="1832.6" cy="290.4" r="2.4"/><circle cx="1817.4" cy="265.0" r="2.4"/><circle cx="1818.2" cy="306.4" r="2.4"/><circle cx="1825.5" cy="286.5" r="2.4"/><circle cx="1837.1" cy="274.9" r="2.4"/><circle cx="1827.1" cy="302.0" r="2.4"/><circle cx="1838.8" cy="284.0" r="2.4"/><circle cx="1813.2" cy="272.1" r="2.4"/><circle cx="1835.7" cy="283.0" r="2.4"/><circle cx="1824.0" cy="295.7" r="2.4"/><circle cx="1815.0" cy="257.0" r="2.4"/><circle cx="1813.5" cy="269.0" r="2.4"/><circle cx="1847.2" cy="290.1" r="2.4"/><circle cx="1824.4" cy="286.3" r="2.4"/><circle cx="1800.2" cy="281.4" r="2.4"/><circle cx="1833.6" cy="273.6" r="2.4"/><circle cx="1807.3" cy="274.3" r="2.4"/><circle cx="1811.8" cy="289.9" r="2.4"/><circle cx="1811.1" cy="290.5" r="2.4"/><circle cx="1837.1" cy="288.4" r="2.4"/><circle cx="1847.2" cy="272.0" r="2.4"/><circle cx="1794.7" cy="278.8" r="2.4"/><circle cx="1818.7" cy="261.5" r="2.4"/><circle cx="1831.7" cy="270.6" r="2.4"/><circle cx="1806.8" cy="269.8" r="2.4"/><circle cx="1813.9" cy="267.2" r="2.4"/><circle cx="1804.7" cy="275.7" r="2.4"/><circle cx="1822.1" cy="290.6" r="2.4"/><circle cx="1802.4" cy="277.5" r="2.4"/><circle cx="1828.2" cy="298.7" r="2.4"/><circle cx="1807.5" cy="277.2" r="2.4"/><circle cx="1842.6" cy="298.1" r="2.4"/><circle cx="1806.2" cy="281.6" r="2.4"/><circle cx="1837.2" cy="273.6" r="2.4"/><circle cx="1832.1" cy="288.6" r="2.4"/><circle cx="1849.4" cy="282.5" r="2.4"/><circle cx="1832.5" cy="271.1" r="2.4"/><circle cx="1835.5" cy="269.5" r="2.4"/><circle cx="1822.0" cy="271.7" r="2.4"/><circle cx="1810.8" cy="259.1" r="2.4"/><circle cx="1806.1" cy="282.0" r="2.4"/><circle cx="1839.6" cy="267.5" r="2.4"/><circle cx="1847.3" cy="285.0" r="2.4"/><circle cx="1815.6" cy="300.4" r="2.4"/><circle cx="1845.0" cy="269.5" r="2.4"/><circle cx="1800.3" cy="287.4" r="2.4"/><circle cx="1841.9" cy="285.6" r="2.4"/><circle cx="1838.5" cy="274.6" r="2.4"/><circle cx="1828.8" cy="266.2" r="2.4"/><circle cx="1816.6" cy="272.8" r="2.4"/><circle cx="1815.3" cy="273.9" r="2.4"/><circle cx="1839.8" cy="261.0" r="2.4"/><circle cx="1804.9" cy="265.8" r="2.4"/><circle cx="1849.3" cy="280.8" r="2.4"/><circle cx="1843.7" cy="297.5" r="2.4"/><circle cx="1813.8" cy="292.6" r="2.4"/><circle cx="1810.7" cy="259.2" r="2.4"/><circle cx="1843.2" cy="298.2" r="2.4"/><circle cx="1805.3" cy="300.8" r="2.4"/><circle cx="1802.5" cy="291.6" r="2.4"/><circle cx="1810.2" cy="262.1" r="2.4"/><circle cx="1803.7" cy="269.0" r="2.4"/><circle cx="1843.0" cy="285.5" r="2.4"/><circle cx="1798.9" cy="289.9" r="2.4"/><circle cx="1824.1" cy="276.6" r="2.4"/><circle cx="1823.6" cy="288.0" r="2.4"/><circle cx="1839.4" cy="279.8" r="2.4"/><circle cx="1829.9" cy="277.7" r="2.4"/><circle cx="1829.8" cy="273.3" r="2.4"/><circle cx="1817.1" cy="280.4" r="2.4"/><circle cx="1834.5" cy="267.1" r="2.4"/><circle cx="1846.6" cy="279.0" r="2.4"/><circle cx="1842.6" cy="290.2" r="2.4"/><circle cx="1848.5" cy="289.7" r="2.4"/><circle cx="1817.8" cy="274.2" r="2.4"/><circle cx="1828.2" cy="293.7" r="2.4"/><circle cx="1799.6" cy="289.9" r="2.4"/><circle cx="1828.7" cy="305.6" r="2.4"/><circle cx="1820.6" cy="263.1" r="2.4"/><circle cx="1836.9" cy="275.2" r="2.4"/><circle cx="1824.5" cy="269.2" r="2.4"/><circle cx="1807.0" cy="256.4" r="2.4"/><circle cx="1828.2" cy="304.9" r="2.4"/><circle cx="1847.1" cy="271.8" r="2.4"/><circle cx="1810.3" cy="303.2" r="2.4"/><circle cx="1827.8" cy="289.0" r="2.4"/><circle cx="1821.0" cy="292.4" r="2.4"/><circle cx="1840.9" cy="293.9" r="2.4"/><circle cx="1812.7" cy="272.9" r="2.4"/><circle cx="1821.1" cy="262.4" r="2.4"/><circle cx="1829.2" cy="281.5" r="2.4"/><circle cx="1814.0" cy="264.4" r="2.4"/><circle cx="1815.4" cy="285.8" r="2.4"/><circle cx="1800.4" cy="281.8" r="2.4"/><circle cx="1807.6" cy="274.9" r="2.4"/><circle cx="1798.9" cy="292.8" r="2.4"/><circle cx="1829.6" cy="261.2" r="2.4"/><circle cx="1824.8" cy="284.9" r="2.4"/><circle cx="1826.5" cy="272.7" r="2.4"/><circle cx="1811.0" cy="271.4" r="2.4"/><circle cx="1822.1" cy="277.3" r="2.4"/><circle cx="1803.0" cy="273.9" r="2.4"/><circle cx="1804.9" cy="269.6" r="2.4"/><circle cx="1814.3" cy="271.1" r="2.4"/><circle cx="1807.0" cy="284.9" r="2.4"/><circle cx="1831.7" cy="292.8" r="2.4"/><circle cx="1802.8" cy="263.1" r="2.4"/><circle cx="1800.5" cy="262.8" r="2.4"/><circle cx="1834.6" cy="258.3" r="2.4"/><circle cx="1822.8" cy="262.3" r="2.4"/><circle cx="1809.1" cy="272.7" r="2.4"/><circle cx="1840.6" cy="281.2" r="2.4"/><circle cx="1792.8" cy="265.2" r="2.4"/><circle cx="1800.5" cy="293.8" r="2.4"/><circle cx="1839.0" cy="290.7" r="2.4"/><circle cx="1839.9" cy="287.7" r="2.4"/><circle cx="1847.1" cy="290.1" r="2.4"/><circle cx="1806.9" cy="292.8" r="2.4"/><circle cx="1820.2" cy="288.2" r="2.4"/><circle cx="1824.7" cy="272.6" r="2.4"/><circle cx="1813.1" cy="272.6" r="2.4"/><circle cx="1810.2" cy="257.6" r="2.4"/><circle cx="1839.5" cy="290.3" r="2.4"/><circle cx="1849.2" cy="285.2" r="2.4"/><circle cx="1824.1" cy="287.9" r="2.4"/><circle cx="1799.8" cy="284.5" r="2.4"/><circle cx="1817.7" cy="260.5" r="2.4"/><circle cx="1803.8" cy="277.1" r="2.4"/><circle cx="1806.7" cy="274.1" r="2.4"/><circle cx="1827.1" cy="271.0" r="2.4"/><circle cx="1799.6" cy="275.6" r="2.4"/><circle cx="1805.7" cy="263.3" r="2.4"/><circle cx="1803.3" cy="269.6" r="2.4"/><circle cx="1796.2" cy="283.3" r="2.4"/></g>
<polygon points="1788.6,279.6 1792.1,280.0 1795.7,280.4 1799.2,280.7 1802.8,281.0 1806.3,281.4 1809.8,281.6 1813.4,281.9 1816.9,282.1 1820.4,282.2 1824.0,282.3 1827.5,282.4 1831.0,282.4 1834.6,282.4 1838.1,282.4 1841.7,282.3 1845.2,282.3 1848.7,282.2 1852.3,282.1 1855.8,281.9 1859.3,281.8 1862.9,281.7 1866.4,281.5 1870.0,281.4 1873.5,281.2 1877.0,281.1 1880.6,280.9 1884.1,280.8 1887.7,280.6 1891.2,280.4 1894.7,280.2 1898.3,280.1 1901.8,279.9 1905.3,279.7 1908.9,279.6 1912.4,279.4 1916.0,279.2 1919.5,279.0 1923.0,278.9 1926.6,278.7 1930.1,278.5 1930.1,299.5 1926.6,299.0 1923.0,298.6 1919.5,298.1 1916.0,297.7 1912.4,297.2 1908.9,296.8 1905.3,296.3 1901.8,295.9 1898.3,295.4 1894.7,294.9 1891.2,294.5 1887.7,294.1 1884.1,293.6 1880.6,293.2 1877.0,292.7 1873.5,292.3 1870.0,291.9 1866.4,291.4 1862.9,291.0 1859.3,290.6 1855.8,290.2 1852.3,289.8 1848.7,289.4 1845.2,289.0 1841.7,288.7 1838.1,288.3 1834.6,288.0 1831.0,287.7 1827.5,287.5 1824.0,287.3 1820.4,287.1 1816.9,287.0 1813.4,286.9 1809.8,286.9 1806.3,286.9 1802.8,286.9 1799.2,286.9 1795.7,287.0 1792.1,287.1 1788.6,287.2" fill="#999999" fill-opacity="0.4" clip-path="url(#c_B2_11)"/>
<polyline points="1788.6,283.4 1792.1,283.5 1795.7,283.7 1799.2,283.8 1802.8,284.0 1806.3,284.1 1809.8,284.2 1813.4,284.4 1816.9,284.5 1820.4,284.7 1824.0,284.8 1827.5,284.9 1831.0,285.1 1834.6,285.2 1838.1,285.4 1841.7,285.5 1845.2,285.6 1848.7,285.8 1852.3,285.9 1855.8,286.1 1859.3,286.2 1862.9,286.3 1866.4,286.5 1870.0,286.6 1873.5,286.8 1877.0,286.9 1880.6,287.0 1884.1,287.2 1887.7,287.3 1891.2,287.5 1894.7,287.6 1898.3,287.7 1901.8,287.9 1905.3,288.0 1908.9,288.2 1912.4,288.3 1916.0,288.4 1919.5,288.6 1923.0,288.7 1926.6,288.9 1930.1,289.0" fill="none" stroke="#ffd700" stroke-width="2.8" clip-path="url(#c_B2_11)"/>
<path d="M1778.4,221.4V348.8M1992.9,221.4V348.8" stroke="#999999" stroke-width="1.3" fill="none"/>
<path d="M1777.8000000000002,221.4H1993.5" stroke="#555555" stroke-width="1.4" fill="none"/>
<path d="M1777.8000000000002,348.8H1993.5" stroke="#6a6a6a" stroke-width="1.2" fill="none"/>
<line x1="1782.20" y1="348.8" x2="1782.20" y2="352.80" stroke="#3a3a3a" stroke-width="1.3"/><line x1="1832.90" y1="348.8" x2="1832.90" y2="352.80" stroke="#3a3a3a" stroke-width="1.3"/><line x1="1883.60" y1="348.8" x2="1883.60" y2="352.80" stroke="#3a3a3a" stroke-width="1.3"/><line x1="1934.30" y1="348.8" x2="1934.30" y2="352.80" stroke="#3a3a3a" stroke-width="1.3"/><line x1="1985.00" y1="348.8" x2="1985.00" y2="352.80" stroke="#3a3a3a" stroke-width="1.3"/>
<text transform="translate(1782.20,367.00) scale(0.965,1)" text-anchor="middle" font-size="15.8" stroke="#1a1a1a" stroke-width="0.3">0</text>
<text transform="translate(1832.90,367.00) scale(0.965,1)" text-anchor="middle" font-size="15.8" stroke="#1a1a1a" stroke-width="0.3">5000</text>
<text transform="translate(1883.60,367.00) scale(0.965,1)" text-anchor="middle" font-size="15.8" stroke="#1a1a1a" stroke-width="0.3">10000</text>
<text transform="translate(1934.30,367.00) scale(0.965,1)" text-anchor="middle" font-size="15.8" stroke="#1a1a1a" stroke-width="0.3">15000</text>
<text transform="translate(1985.00,367.00) scale(0.965,1)" text-anchor="middle" font-size="15.8" stroke="#1a1a1a" stroke-width="0.3">20000</text>
<clipPath id="c_B3"><rect x="1087.9" y="455.6" width="398.90" height="322.80"/></clipPath>
<rect x="1087.9" y="455.6" width="398.90" height="322.80" fill="#fff"/>
<g clip-path="url(#c_B3)"><line x1="1142.70" y1="455.6" x2="1142.70" y2="778.4" stroke="#f3f3f3" stroke-width="0.8"/><line x1="1236.30" y1="455.6" x2="1236.30" y2="778.4" stroke="#f3f3f3" stroke-width="0.8"/><line x1="1329.90" y1="455.6" x2="1329.90" y2="778.4" stroke="#f3f3f3" stroke-width="0.8"/><line x1="1423.50" y1="455.6" x2="1423.50" y2="778.4" stroke="#f3f3f3" stroke-width="0.8"/><line x1="1087.9" y1="475.00" x2="1486.8" y2="475.00" stroke="#f3f3f3" stroke-width="0.8"/><line x1="1087.9" y1="544.80" x2="1486.8" y2="544.80" stroke="#f3f3f3" stroke-width="0.8"/><line x1="1087.9" y1="614.60" x2="1486.8" y2="614.60" stroke="#f3f3f3" stroke-width="0.8"/><line x1="1087.9" y1="684.40" x2="1486.8" y2="684.40" stroke="#f3f3f3" stroke-width="0.8"/><line x1="1087.9" y1="754.20" x2="1486.8" y2="754.20" stroke="#f3f3f3" stroke-width="0.8"/><line x1="1095.90" y1="455.6" x2="1095.90" y2="778.4" stroke="#ebebeb" stroke-width="1.3"/><line x1="1189.50" y1="455.6" x2="1189.50" y2="778.4" stroke="#ebebeb" stroke-width="1.3"/><line x1="1283.10" y1="455.6" x2="1283.10" y2="778.4" stroke="#ebebeb" stroke-width="1.3"/><line x1="1376.70" y1="455.6" x2="1376.70" y2="778.4" stroke="#ebebeb" stroke-width="1.3"/><line x1="1470.30" y1="455.6" x2="1470.30" y2="778.4" stroke="#ebebeb" stroke-width="1.3"/><line x1="1087.9" y1="509.90" x2="1486.8" y2="509.90" stroke="#ebebeb" stroke-width="1.3"/><line x1="1087.9" y1="579.70" x2="1486.8" y2="579.70" stroke="#ebebeb" stroke-width="1.3"/><line x1="1087.9" y1="649.50" x2="1486.8" y2="649.50" stroke="#ebebeb" stroke-width="1.3"/><line x1="1087.9" y1="719.30" x2="1486.8" y2="719.30" stroke="#ebebeb" stroke-width="1.3"/></g>
<g clip-path="url(#c_B3)" fill="#ffa500"><circle cx="1143.0" cy="672.7" r="2.4"/><circle cx="1188.5" cy="670.0" r="2.4"/><circle cx="1232.1" cy="671.0" r="2.4"/><circle cx="1240.4" cy="670.6" r="2.4"/><circle cx="1117.7" cy="682.1" r="2.4"/><circle cx="1131.7" cy="680.8" r="2.4"/><circle cx="1146.5" cy="679.3" r="2.4"/><circle cx="1146.5" cy="684.3" r="2.4"/><circle cx="1134.2" cy="686.2" r="2.4"/><circle cx="1127.0" cy="689.6" r="2.4"/><circle cx="1183.7" cy="679.6" r="2.4"/><circle cx="1193.4" cy="682.5" r="2.4"/><circle cx="1220.2" cy="681.6" r="2.4"/><circle cx="1198.8" cy="691.8" r="2.4"/><circle cx="1203.4" cy="696.4" r="2.4"/><circle cx="1211.5" cy="699.7" r="2.4"/><circle cx="1244.3" cy="698.7" r="2.4"/><circle cx="1260.4" cy="705.5" r="2.4"/><circle cx="1112.7" cy="699.3" r="2.4"/><circle cx="1123.9" cy="703.0" r="2.4"/><circle cx="1144.8" cy="699.3" r="2.4"/><circle cx="1149.4" cy="696.4" r="2.4"/><circle cx="1168.9" cy="697.4" r="2.4"/><circle cx="1148.8" cy="703.0" r="2.4"/><circle cx="1118.9" cy="708.9" r="2.4"/><circle cx="1156.1" cy="708.6" r="2.4"/><circle cx="1167.9" cy="708.6" r="2.4"/><circle cx="1186.0" cy="707.4" r="2.4"/><circle cx="1194.9" cy="704.9" r="2.4"/><circle cx="1198.8" cy="704.0" r="2.4"/><circle cx="1195.9" cy="709.9" r="2.4"/><circle cx="1190.3" cy="711.1" r="2.4"/><circle cx="1176.6" cy="713.0" r="2.4"/><circle cx="1223.0" cy="713.0" r="2.4"/><circle cx="1143.8" cy="712.4" r="2.4"/><circle cx="1144.8" cy="715.1" r="2.4"/><circle cx="1114.7" cy="715.7" r="2.4"/><circle cx="1129.3" cy="714.9" r="2.4"/><circle cx="1131.1" cy="717.4" r="2.4"/><circle cx="1158.9" cy="717.1" r="2.4"/><circle cx="1160.4" cy="718.0" r="2.4"/><circle cx="1183.2" cy="716.1" r="2.4"/><circle cx="1209.0" cy="718.6" r="2.4"/><circle cx="1241.0" cy="720.5" r="2.4"/><circle cx="1249.8" cy="717.6" r="2.4"/><circle cx="1257.2" cy="715.9" r="2.4"/><circle cx="1262.4" cy="721.3" r="2.4"/><circle cx="1307.2" cy="723.8" r="2.4"/><circle cx="1320.9" cy="723.8" r="2.4"/><circle cx="1105.6" cy="722.3" r="2.4"/><circle cx="1119.9" cy="721.7" r="2.4"/><circle cx="1119.0" cy="724.2" r="2.4"/><circle cx="1129.3" cy="724.5" r="2.4"/><circle cx="1131.1" cy="725.5" r="2.4"/><circle cx="1136.7" cy="721.1" r="2.4"/><circle cx="1139.9" cy="722.3" r="2.4"/><circle cx="1143.0" cy="723.6" r="2.4"/><circle cx="1139.2" cy="725.5" r="2.4"/><circle cx="1149.8" cy="721.1" r="2.4"/><circle cx="1150.4" cy="724.2" r="2.4"/><circle cx="1154.8" cy="722.3" r="2.4"/><circle cx="1155.4" cy="726.1" r="2.4"/><circle cx="1157.9" cy="727.3" r="2.4"/><circle cx="1161.0" cy="729.2" r="2.4"/><circle cx="1169.8" cy="722.3" r="2.4"/><circle cx="1169.8" cy="725.5" r="2.4"/><circle cx="1166.6" cy="728.6" r="2.4"/><circle cx="1167.3" cy="731.1" r="2.4"/><circle cx="1187.5" cy="721.7" r="2.4"/><circle cx="1204.7" cy="723.0" r="2.4"/><circle cx="1193.7" cy="728.0" r="2.4"/><circle cx="1193.2" cy="731.7" r="2.4"/><circle cx="1199.0" cy="731.1" r="2.4"/><circle cx="1211.9" cy="731.4" r="2.4"/><circle cx="1105.6" cy="734.2" r="2.4"/><circle cx="1120.5" cy="732.3" r="2.4"/><circle cx="1127.4" cy="734.2" r="2.4"/><circle cx="1129.9" cy="734.8" r="2.4"/><circle cx="1134.9" cy="734.2" r="2.4"/><circle cx="1137.4" cy="732.3" r="2.4"/><circle cx="1142.3" cy="731.1" r="2.4"/><circle cx="1136.1" cy="729.2" r="2.4"/><circle cx="1148.6" cy="734.2" r="2.4"/><circle cx="1151.1" cy="730.4" r="2.4"/><circle cx="1153.6" cy="729.8" r="2.4"/><circle cx="1158.5" cy="732.9" r="2.4"/><circle cx="1161.7" cy="731.7" r="2.4"/><circle cx="1164.8" cy="736.1" r="2.4"/><circle cx="1167.9" cy="738.5" r="2.4"/><circle cx="1183.7" cy="732.9" r="2.4"/><circle cx="1187.8" cy="733.8" r="2.4"/><circle cx="1124.3" cy="737.9" r="2.4"/><circle cx="1126.8" cy="736.1" r="2.4"/><circle cx="1119.9" cy="742.5" r="2.4"/><circle cx="1134.6" cy="740.4" r="2.4"/><circle cx="1150.7" cy="741.0" r="2.4"/><circle cx="1147.3" cy="746.0" r="2.4"/><circle cx="1157.7" cy="744.5" r="2.4"/><circle cx="1181.6" cy="739.2" r="2.4"/><circle cx="1179.7" cy="742.3" r="2.4"/><circle cx="1178.5" cy="745.4" r="2.4"/><circle cx="1177.2" cy="747.9" r="2.4"/><circle cx="1176.0" cy="748.9" r="2.4"/><circle cx="1169.4" cy="748.9" r="2.4"/><circle cx="1193.8" cy="750.0" r="2.4"/><circle cx="1200.3" cy="751.6" r="2.4"/><circle cx="1202.8" cy="750.8" r="2.4"/><circle cx="1221.9" cy="748.5" r="2.4"/><circle cx="1185.3" cy="755.6" r="2.4"/><circle cx="1123.6" cy="470.2" r="2.4"/><circle cx="1137.5" cy="569.5" r="2.4"/><circle cx="1177.2" cy="571.2" r="2.4"/><circle cx="1180.4" cy="599.6" r="2.4"/><circle cx="1137.2" cy="610.5" r="2.4"/><circle cx="1175.7" cy="618.0" r="2.4"/><circle cx="1124.6" cy="626.2" r="2.4"/><circle cx="1127.6" cy="631.3" r="2.4"/><circle cx="1157.4" cy="635.8" r="2.4"/><circle cx="1169.3" cy="640.7" r="2.4"/><circle cx="1174.9" cy="643.3" r="2.4"/><circle cx="1176.6" cy="648.4" r="2.4"/><circle cx="1149.7" cy="649.0" r="2.4"/><circle cx="1116.7" cy="653.8" r="2.4"/><circle cx="1127.6" cy="654.8" r="2.4"/><circle cx="1139.0" cy="654.2" r="2.4"/><circle cx="1115.3" cy="658.6" r="2.4"/><circle cx="1223.4" cy="659.5" r="2.4"/><circle cx="1259.3" cy="643.3" r="2.4"/><circle cx="1198.7" cy="764.6" r="2.4"/></g>
<polygon points="1105.6,690.1 1111.0,691.2 1116.4,692.3 1121.7,693.4 1127.1,694.5 1132.5,695.5 1137.9,696.4 1143.3,697.3 1148.6,698.0 1154.0,698.7 1159.4,699.3 1164.8,699.8 1170.2,700.1 1175.5,700.2 1180.9,700.3 1186.3,700.3 1191.7,700.1 1197.1,699.9 1202.4,699.7 1207.8,699.4 1213.2,699.0 1218.6,698.6 1224.0,698.2 1229.3,697.7 1234.7,697.3 1240.1,696.8 1245.5,696.3 1250.9,695.8 1256.2,695.3 1261.6,694.8 1267.0,694.2 1272.4,693.7 1277.8,693.1 1283.1,692.6 1288.5,692.0 1293.9,691.5 1299.3,691.0 1304.7,690.4 1310.0,689.8 1315.4,689.3 1320.8,688.7 1320.8,744.7 1315.4,743.4 1310.0,742.2 1304.7,740.9 1299.3,739.6 1293.9,738.4 1288.5,737.1 1283.1,735.9 1277.8,734.6 1272.4,733.4 1267.0,732.2 1261.6,731.0 1256.2,729.7 1250.9,728.5 1245.5,727.3 1240.1,726.1 1234.7,724.9 1229.3,723.8 1224.0,722.6 1218.6,721.5 1213.2,720.4 1207.8,719.4 1202.4,718.3 1197.1,717.4 1191.7,716.5 1186.3,715.6 1180.9,714.9 1175.5,714.2 1170.2,713.7 1164.8,713.4 1159.4,713.1 1154.0,713.0 1148.6,713.0 1143.3,713.0 1137.9,713.2 1132.5,713.4 1127.1,713.7 1121.7,714.1 1116.4,714.5 1111.0,714.9 1105.6,715.3" fill="#999999" fill-opacity="0.4" clip-path="url(#c_B3)"/>
<polyline points="1105.6,702.7 1111.0,703.0 1116.4,703.4 1121.7,703.8 1127.1,704.1 1132.5,704.5 1137.9,704.8 1143.3,705.1 1148.6,705.5 1154.0,705.9 1159.4,706.2 1164.8,706.5 1170.2,706.9 1175.5,707.2 1180.9,707.6 1186.3,708.0 1191.7,708.3 1197.1,708.6 1202.4,709.0 1207.8,709.4 1213.2,709.7 1218.6,710.0 1224.0,710.4 1229.3,710.8 1234.7,711.1 1240.1,711.5 1245.5,711.8 1250.9,712.1 1256.2,712.5 1261.6,712.9 1267.0,713.2 1272.4,713.5 1277.8,713.9 1283.1,714.2 1288.5,714.6 1293.9,715.0 1299.3,715.3 1304.7,715.6 1310.0,716.0 1315.4,716.4 1320.8,716.7" fill="none" stroke="#ffd700" stroke-width="2.8" clip-path="url(#c_B3)"/>
<path d="M1087.9,455.6V778.4M1486.8,455.6V778.4" stroke="#999999" stroke-width="1.3" fill="none"/>
<path d="M1087.3000000000002,455.6H1487.3999999999999" stroke="#6a6a6a" stroke-width="1.2" fill="none"/>
<path d="M1087.3000000000002,778.4H1487.3999999999999" stroke="#6a6a6a" stroke-width="1.2" fill="none"/>
<line x1="1083.90" y1="509.90" x2="1087.9" y2="509.90" stroke="#3a3a3a" stroke-width="1.3"/><line x1="1083.90" y1="579.70" x2="1087.9" y2="579.70" stroke="#3a3a3a" stroke-width="1.3"/><line x1="1083.90" y1="649.50" x2="1087.9" y2="649.50" stroke="#3a3a3a" stroke-width="1.3"/><line x1="1083.90" y1="719.30" x2="1087.9" y2="719.30" stroke="#3a3a3a" stroke-width="1.3"/><line x1="1095.90" y1="778.4" x2="1095.90" y2="782.40" stroke="#3a3a3a" stroke-width="1.3"/><line x1="1189.50" y1="778.4" x2="1189.50" y2="782.40" stroke="#3a3a3a" stroke-width="1.3"/><line x1="1283.10" y1="778.4" x2="1283.10" y2="782.40" stroke="#3a3a3a" stroke-width="1.3"/><line x1="1376.70" y1="778.4" x2="1376.70" y2="782.40" stroke="#3a3a3a" stroke-width="1.3"/><line x1="1470.30" y1="778.4" x2="1470.30" y2="782.40" stroke="#3a3a3a" stroke-width="1.3"/>
<text transform="translate(1081.10,515.56) scale(0.965,1)" text-anchor="end" font-size="15.8" stroke="#1a1a1a" stroke-width="0.3">3.0</text>
<text transform="translate(1081.10,585.36) scale(0.965,1)" text-anchor="end" font-size="15.8" stroke="#1a1a1a" stroke-width="0.3">2.5</text>
<text transform="translate(1081.10,655.16) scale(0.965,1)" text-anchor="end" font-size="15.8" stroke="#1a1a1a" stroke-width="0.3">2.0</text>
<text transform="translate(1081.10,724.96) scale(0.965,1)" text-anchor="end" font-size="15.8" stroke="#1a1a1a" stroke-width="0.3">1.5</text>
<text transform="translate(1095.90,796.60) scale(0.965,1)" text-anchor="middle" font-size="15.8" stroke="#1a1a1a" stroke-width="0.3">0</text>
<text transform="translate(1189.50,796.60) scale(0.965,1)" text-anchor="middle" font-size="15.8" stroke="#1a1a1a" stroke-width="0.3">5000</text>
<text transform="translate(1283.10,796.60) scale(0.965,1)" text-anchor="middle" font-size="15.8" stroke="#1a1a1a" stroke-width="0.3">10000</text>
<text transform="translate(1376.70,796.60) scale(0.965,1)" text-anchor="middle" font-size="15.8" stroke="#1a1a1a" stroke-width="0.3">15000</text>
<text transform="translate(1470.30,796.60) scale(0.965,1)" text-anchor="middle" font-size="15.8" stroke="#1a1a1a" stroke-width="0.3">20000</text>
<rect x="1548.6" y="456.7" width="219.30" height="29.10" fill="#d9d9d9"/>
<path d="M1548.6,456.7V485.8M1767.9,456.7V485.8" stroke="#999999" stroke-width="1.3" fill="none"/>
<path d="M1548.0,456.7H1768.5" stroke="#6a6a6a" stroke-width="1.2" fill="none"/>
<text x="1658.25" y="477.51" text-anchor="middle" font-size="17.5">A−/TN−</text>
<clipPath id="c_B4_00"><rect x="1548.6" y="485.8" width="219.30" height="127.30"/></clipPath>
<rect x="1548.6" y="485.8" width="219.30" height="127.30" fill="#fff"/>
<g clip-path="url(#c_B4_00)"><line x1="1579.02" y1="485.8" x2="1579.02" y2="613.1" stroke="#f3f3f3" stroke-width="0.8"/><line x1="1630.47" y1="485.8" x2="1630.47" y2="613.1" stroke="#f3f3f3" stroke-width="0.8"/><line x1="1681.92" y1="485.8" x2="1681.92" y2="613.1" stroke="#f3f3f3" stroke-width="0.8"/><line x1="1733.38" y1="485.8" x2="1733.38" y2="613.1" stroke="#f3f3f3" stroke-width="0.8"/><line x1="1548.6" y1="493.95" x2="1767.9" y2="493.95" stroke="#f3f3f3" stroke-width="0.8"/><line x1="1548.6" y1="521.45" x2="1767.9" y2="521.45" stroke="#f3f3f3" stroke-width="0.8"/><line x1="1548.6" y1="548.95" x2="1767.9" y2="548.95" stroke="#f3f3f3" stroke-width="0.8"/><line x1="1548.6" y1="576.45" x2="1767.9" y2="576.45" stroke="#f3f3f3" stroke-width="0.8"/><line x1="1548.6" y1="603.95" x2="1767.9" y2="603.95" stroke="#f3f3f3" stroke-width="0.8"/><line x1="1553.30" y1="485.8" x2="1553.30" y2="613.1" stroke="#ebebeb" stroke-width="1.3"/><line x1="1604.75" y1="485.8" x2="1604.75" y2="613.1" stroke="#ebebeb" stroke-width="1.3"/><line x1="1656.20" y1="485.8" x2="1656.20" y2="613.1" stroke="#ebebeb" stroke-width="1.3"/><line x1="1707.65" y1="485.8" x2="1707.65" y2="613.1" stroke="#ebebeb" stroke-width="1.3"/><line x1="1759.10" y1="485.8" x2="1759.10" y2="613.1" stroke="#ebebeb" stroke-width="1.3"/><line x1="1548.6" y1="507.70" x2="1767.9" y2="507.70" stroke="#ebebeb" stroke-width="1.3"/><line x1="1548.6" y1="535.20" x2="1767.9" y2="535.20" stroke="#ebebeb" stroke-width="1.3"/><line x1="1548.6" y1="562.70" x2="1767.9" y2="562.70" stroke="#ebebeb" stroke-width="1.3"/><line x1="1548.6" y1="590.20" x2="1767.9" y2="590.20" stroke="#ebebeb" stroke-width="1.3"/></g>
<g clip-path="url(#c_B4_00)" fill="#ffa500"><circle cx="1564.6" cy="564.1" r="2.4"/><circle cx="1578.8" cy="571.7" r="2.4"/><circle cx="1562.1" cy="582.2" r="2.4"/><circle cx="1568.4" cy="583.3" r="2.4"/><circle cx="1582.1" cy="583.5" r="2.4"/><circle cx="1592.8" cy="585.7" r="2.4"/><circle cx="1602.6" cy="585.3" r="2.4"/><circle cx="1607.5" cy="584.2" r="2.4"/><circle cx="1608.4" cy="586.0" r="2.4"/><circle cx="1616.7" cy="582.3" r="2.4"/><circle cx="1634.6" cy="581.8" r="2.4"/><circle cx="1563.2" cy="588.3" r="2.4"/><circle cx="1572.5" cy="588.8" r="2.4"/><circle cx="1579.2" cy="587.3" r="2.4"/><circle cx="1637.6" cy="589.2" r="2.4"/><circle cx="1644.6" cy="590.8" r="2.4"/><circle cx="1565.6" cy="592.4" r="2.4"/><circle cx="1570.0" cy="596.9" r="2.4"/><circle cx="1572.6" cy="596.0" r="2.4"/><circle cx="1575.3" cy="596.0" r="2.4"/><circle cx="1577.9" cy="595.2" r="2.4"/><circle cx="1580.5" cy="594.3" r="2.4"/><circle cx="1583.1" cy="596.0" r="2.4"/><circle cx="1585.8" cy="594.3" r="2.4"/><circle cx="1582.3" cy="599.5" r="2.4"/><circle cx="1581.4" cy="600.4" r="2.4"/><circle cx="1592.5" cy="597.5" r="2.4"/><circle cx="1599.2" cy="599.3" r="2.4"/><circle cx="1602.8" cy="595.6" r="2.4"/><circle cx="1603.7" cy="590.6" r="2.4"/><circle cx="1609.8" cy="594.7" r="2.4"/><circle cx="1616.8" cy="595.0" r="2.4"/><circle cx="1602.2" cy="604.3" r="2.4"/><circle cx="1611.9" cy="602.3" r="2.4"/><circle cx="1610.3" cy="602.9" r="2.4"/><circle cx="1609.4" cy="607.8" r="2.4"/><circle cx="1593.6" cy="592.5" r="2.4"/><circle cx="1584.0" cy="590.8" r="2.4"/><circle cx="1569.6" cy="594.3" r="2.4"/><circle cx="1574.4" cy="593.4" r="2.4"/><circle cx="1588.4" cy="593.4" r="2.4"/></g>
<polygon points="1562.1,586.4 1564.2,586.8 1566.2,587.1 1568.3,587.5 1570.3,587.8 1572.4,588.2 1574.4,588.5 1576.5,588.8 1578.6,589.2 1580.6,589.5 1582.7,589.8 1584.7,590.1 1586.8,590.4 1588.8,590.6 1590.9,590.8 1593.0,590.8 1595.0,590.8 1597.1,590.8 1599.1,590.7 1601.2,590.6 1603.2,590.6 1605.3,590.5 1607.4,590.4 1609.4,590.3 1611.5,590.2 1613.5,590.1 1615.6,590.0 1617.7,590.0 1619.7,589.9 1621.8,589.8 1623.8,589.7 1625.9,589.6 1627.9,589.5 1630.0,589.4 1632.1,589.3 1634.1,589.2 1636.2,589.1 1638.2,589.0 1640.3,588.9 1642.3,588.9 1644.4,588.8 1644.4,600.6 1642.3,600.3 1640.3,599.9 1638.2,599.6 1636.2,599.2 1634.1,598.9 1632.1,598.5 1630.0,598.2 1627.9,597.8 1625.9,597.5 1623.8,597.1 1621.8,596.8 1619.7,596.4 1617.7,596.1 1615.6,595.7 1613.5,595.4 1611.5,595.0 1609.4,594.7 1607.4,594.3 1605.3,594.0 1603.2,593.6 1601.2,593.3 1599.1,593.0 1597.1,592.6 1595.0,592.4 1593.0,592.1 1590.9,591.9 1588.8,591.8 1586.8,591.7 1584.7,591.7 1582.7,591.8 1580.6,591.8 1578.6,591.9 1576.5,592.0 1574.4,592.1 1572.4,592.1 1570.3,592.2 1568.3,592.3 1566.2,592.4 1564.2,592.5 1562.1,592.6" fill="#999999" fill-opacity="0.4" clip-path="url(#c_B4_00)"/>
<polyline points="1562.1,589.5 1564.2,589.6 1566.2,589.8 1568.3,589.9 1570.3,590.0 1572.4,590.1 1574.4,590.3 1576.5,590.4 1578.6,590.5 1580.6,590.7 1582.7,590.8 1584.7,590.9 1586.8,591.1 1588.8,591.2 1590.9,591.3 1593.0,591.5 1595.0,591.6 1597.1,591.7 1599.1,591.8 1601.2,592.0 1603.2,592.1 1605.3,592.2 1607.4,592.4 1609.4,592.5 1611.5,592.6 1613.5,592.8 1615.6,592.9 1617.7,593.0 1619.7,593.1 1621.8,593.3 1623.8,593.4 1625.9,593.5 1627.9,593.7 1630.0,593.8 1632.1,593.9 1634.1,594.0 1636.2,594.2 1638.2,594.3 1640.3,594.4 1642.3,594.6 1644.4,594.7" fill="none" stroke="#ffd700" stroke-width="2.8" clip-path="url(#c_B4_00)"/>
<path d="M1548.6,485.8V613.1M1767.9,485.8V613.1" stroke="#999999" stroke-width="1.3" fill="none"/>
<path d="M1548.0,485.8H1768.5" stroke="#555555" stroke-width="1.4" fill="none"/>
<path d="M1548.0,613.1H1768.5" stroke="#6a6a6a" stroke-width="1.2" fill="none"/>
<line x1="1544.60" y1="507.70" x2="1548.6" y2="507.70" stroke="#3a3a3a" stroke-width="1.3"/><line x1="1544.60" y1="535.20" x2="1548.6" y2="535.20" stroke="#3a3a3a" stroke-width="1.3"/><line x1="1544.60" y1="562.70" x2="1548.6" y2="562.70" stroke="#3a3a3a" stroke-width="1.3"/><line x1="1544.60" y1="590.20" x2="1548.6" y2="590.20" stroke="#3a3a3a" stroke-width="1.3"/>
<text transform="translate(1541.80,513.36) scale(0.965,1)" text-anchor="end" font-size="15.8" stroke="#1a1a1a" stroke-width="0.3">3.0</text>
<text transform="translate(1541.80,540.86) scale(0.965,1)" text-anchor="end" font-size="15.8" stroke="#1a1a1a" stroke-width="0.3">2.5</text>
<text transform="translate(1541.80,568.36) scale(0.965,1)" text-anchor="end" font-size="15.8" stroke="#1a1a1a" stroke-width="0.3">2.0</text>
<text transform="translate(1541.80,595.86) scale(0.965,1)" text-anchor="end" font-size="15.8" stroke="#1a1a1a" stroke-width="0.3">1.5</text>
<rect x="1775.4" y="456.7" width="219.30" height="29.10" fill="#d9d9d9"/>
<path d="M1775.4,456.7V485.8M1994.7,456.7V485.8" stroke="#999999" stroke-width="1.3" fill="none"/>
<path d="M1774.8000000000002,456.7H1995.3" stroke="#6a6a6a" stroke-width="1.2" fill="none"/>
<text x="1885.05" y="477.51" text-anchor="middle" font-size="17.5">A−/TN+</text>
<clipPath id="c_B4_01"><rect x="1775.4" y="485.8" width="219.30" height="127.30"/></clipPath>
<rect x="1775.4" y="485.8" width="219.30" height="127.30" fill="#fff"/>
<g clip-path="url(#c_B4_01)"><line x1="1805.82" y1="485.8" x2="1805.82" y2="613.1" stroke="#f3f3f3" stroke-width="0.8"/><line x1="1857.27" y1="485.8" x2="1857.27" y2="613.1" stroke="#f3f3f3" stroke-width="0.8"/><line x1="1908.72" y1="485.8" x2="1908.72" y2="613.1" stroke="#f3f3f3" stroke-width="0.8"/><line x1="1960.17" y1="485.8" x2="1960.17" y2="613.1" stroke="#f3f3f3" stroke-width="0.8"/><line x1="1775.4" y1="493.95" x2="1994.7" y2="493.95" stroke="#f3f3f3" stroke-width="0.8"/><line x1="1775.4" y1="521.45" x2="1994.7" y2="521.45" stroke="#f3f3f3" stroke-width="0.8"/><line x1="1775.4" y1="548.95" x2="1994.7" y2="548.95" stroke="#f3f3f3" stroke-width="0.8"/><line x1="1775.4" y1="576.45" x2="1994.7" y2="576.45" stroke="#f3f3f3" stroke-width="0.8"/><line x1="1775.4" y1="603.95" x2="1994.7" y2="603.95" stroke="#f3f3f3" stroke-width="0.8"/><line x1="1780.10" y1="485.8" x2="1780.10" y2="613.1" stroke="#ebebeb" stroke-width="1.3"/><line x1="1831.55" y1="485.8" x2="1831.55" y2="613.1" stroke="#ebebeb" stroke-width="1.3"/><line x1="1883.00" y1="485.8" x2="1883.00" y2="613.1" stroke="#ebebeb" stroke-width="1.3"/><line x1="1934.45" y1="485.8" x2="1934.45" y2="613.1" stroke="#ebebeb" stroke-width="1.3"/><line x1="1985.90" y1="485.8" x2="1985.90" y2="613.1" stroke="#ebebeb" stroke-width="1.3"/><line x1="1775.4" y1="507.70" x2="1994.7" y2="507.70" stroke="#ebebeb" stroke-width="1.3"/><line x1="1775.4" y1="535.20" x2="1994.7" y2="535.20" stroke="#ebebeb" stroke-width="1.3"/><line x1="1775.4" y1="562.70" x2="1994.7" y2="562.70" stroke="#ebebeb" stroke-width="1.3"/><line x1="1775.4" y1="590.20" x2="1994.7" y2="590.20" stroke="#ebebeb" stroke-width="1.3"/></g>
<g clip-path="url(#c_B4_01)" fill="#ffa500"><circle cx="1809.5" cy="562.1" r="2.4"/><circle cx="1869.9" cy="560.0" r="2.4"/><circle cx="1850.1" cy="566.3" r="2.4"/><circle cx="1848.3" cy="575.0" r="2.4"/><circle cx="1836.4" cy="579.0" r="2.4"/><circle cx="1839.2" cy="580.9" r="2.4"/><circle cx="1798.1" cy="588.1" r="2.4"/><circle cx="1814.8" cy="589.5" r="2.4"/><circle cx="1824.1" cy="587.3" r="2.4"/><circle cx="1831.6" cy="586.4" r="2.4"/><circle cx="1827.7" cy="588.6" r="2.4"/><circle cx="1819.8" cy="591.7" r="2.4"/><circle cx="1821.5" cy="592.5" r="2.4"/><circle cx="1814.1" cy="595.2" r="2.4"/><circle cx="1817.1" cy="596.5" r="2.4"/><circle cx="1813.9" cy="600.0" r="2.4"/><circle cx="1820.5" cy="601.7" r="2.4"/><circle cx="1824.0" cy="601.7" r="2.4"/><circle cx="1827.4" cy="597.8" r="2.4"/><circle cx="1833.3" cy="593.4" r="2.4"/><circle cx="1833.6" cy="595.0" r="2.4"/><circle cx="1839.9" cy="591.7" r="2.4"/><circle cx="1842.5" cy="589.9" r="2.4"/><circle cx="1849.8" cy="587.3" r="2.4"/><circle cx="1859.8" cy="590.6" r="2.4"/><circle cx="1868.8" cy="588.6" r="2.4"/><circle cx="1870.4" cy="583.8" r="2.4"/><circle cx="1896.2" cy="591.8" r="2.4"/><circle cx="1903.5" cy="591.8" r="2.4"/></g>
<polygon points="1798.3,586.0 1800.9,586.0 1803.6,585.9 1806.2,585.9 1808.8,585.8 1811.5,585.7 1814.1,585.6 1816.8,585.5 1819.4,585.3 1822.0,585.2 1824.7,585.0 1827.3,584.8 1830.0,584.5 1832.6,584.3 1835.2,584.0 1837.9,583.7 1840.5,583.4 1843.1,583.0 1845.8,582.6 1848.4,582.2 1851.0,581.8 1853.7,581.4 1856.3,581.0 1859.0,580.5 1861.6,580.1 1864.2,579.6 1866.9,579.1 1869.5,578.6 1872.2,578.1 1874.8,577.6 1877.4,577.1 1880.1,576.6 1882.7,576.1 1885.3,575.6 1888.0,575.1 1890.6,574.6 1893.2,574.0 1895.9,573.5 1898.5,573.0 1901.2,572.4 1903.8,571.9 1903.8,591.7 1901.2,591.7 1898.5,591.6 1895.9,591.6 1893.2,591.5 1890.6,591.5 1888.0,591.5 1885.3,591.5 1882.7,591.4 1880.1,591.4 1877.4,591.4 1874.8,591.4 1872.2,591.4 1869.5,591.4 1866.9,591.4 1864.2,591.4 1861.6,591.5 1859.0,591.5 1856.3,591.5 1853.7,591.6 1851.0,591.7 1848.4,591.8 1845.8,591.9 1843.1,592.0 1840.5,592.1 1837.9,592.3 1835.2,592.5 1832.6,592.7 1830.0,592.9 1827.3,593.2 1824.7,593.5 1822.0,593.8 1819.4,594.1 1816.8,594.5 1814.1,594.8 1811.5,595.2 1808.8,595.6 1806.2,596.1 1803.6,596.5 1800.9,596.9 1798.3,597.4" fill="#999999" fill-opacity="0.4" clip-path="url(#c_B4_01)"/>
<polyline points="1798.3,591.7 1800.9,591.5 1803.6,591.2 1806.2,591.0 1808.8,590.7 1811.5,590.5 1814.1,590.2 1816.8,590.0 1819.4,589.7 1822.0,589.5 1824.7,589.2 1827.3,589.0 1830.0,588.7 1832.6,588.5 1835.2,588.2 1837.9,588.0 1840.5,587.7 1843.1,587.5 1845.8,587.2 1848.4,587.0 1851.0,586.8 1853.7,586.5 1856.3,586.2 1859.0,586.0 1861.6,585.8 1864.2,585.5 1866.9,585.3 1869.5,585.0 1872.2,584.8 1874.8,584.5 1877.4,584.3 1880.1,584.0 1882.7,583.8 1885.3,583.5 1888.0,583.3 1890.6,583.0 1893.2,582.8 1895.9,582.5 1898.5,582.3 1901.2,582.0 1903.8,581.8" fill="none" stroke="#ffd700" stroke-width="2.8" clip-path="url(#c_B4_01)"/>
<path d="M1775.4,485.8V613.1M1994.7,485.8V613.1" stroke="#999999" stroke-width="1.3" fill="none"/>
<path d="M1774.8000000000002,485.8H1995.3" stroke="#555555" stroke-width="1.4" fill="none"/>
<path d="M1774.8000000000002,613.1H1995.3" stroke="#6a6a6a" stroke-width="1.2" fill="none"/>

<rect x="1548.6" y="621.3" width="219.30" height="29.00" fill="#d9d9d9"/>
<path d="M1548.6,621.3V650.3M1767.9,621.3V650.3" stroke="#999999" stroke-width="1.3" fill="none"/>
<path d="M1548.0,621.3H1768.5" stroke="#6a6a6a" stroke-width="1.2" fill="none"/>
<text x="1658.25" y="642.06" text-anchor="middle" font-size="17.5">A+/TN−</text>
<clipPath id="c_B4_10"><rect x="1548.6" y="650.3" width="219.30" height="127.80"/></clipPath>
<rect x="1548.6" y="650.3" width="219.30" height="127.80" fill="#fff"/>
<g clip-path="url(#c_B4_10)"><line x1="1579.02" y1="650.3" x2="1579.02" y2="778.1" stroke="#f3f3f3" stroke-width="0.8"/><line x1="1630.47" y1="650.3" x2="1630.47" y2="778.1" stroke="#f3f3f3" stroke-width="0.8"/><line x1="1681.92" y1="650.3" x2="1681.92" y2="778.1" stroke="#f3f3f3" stroke-width="0.8"/><line x1="1733.38" y1="650.3" x2="1733.38" y2="778.1" stroke="#f3f3f3" stroke-width="0.8"/><line x1="1548.6" y1="658.35" x2="1767.9" y2="658.35" stroke="#f3f3f3" stroke-width="0.8"/><line x1="1548.6" y1="685.85" x2="1767.9" y2="685.85" stroke="#f3f3f3" stroke-width="0.8"/><line x1="1548.6" y1="713.35" x2="1767.9" y2="713.35" stroke="#f3f3f3" stroke-width="0.8"/><line x1="1548.6" y1="740.85" x2="1767.9" y2="740.85" stroke="#f3f3f3" stroke-width="0.8"/><line x1="1548.6" y1="768.35" x2="1767.9" y2="768.35" stroke="#f3f3f3" stroke-width="0.8"/><line x1="1553.30" y1="650.3" x2="1553.30" y2="778.1" stroke="#ebebeb" stroke-width="1.3"/><line x1="1604.75" y1="650.3" x2="1604.75" y2="778.1" stroke="#ebebeb" stroke-width="1.3"/><line x1="1656.20" y1="650.3" x2="1656.20" y2="778.1" stroke="#ebebeb" stroke-width="1.3"/><line x1="1707.65" y1="650.3" x2="1707.65" y2="778.1" stroke="#ebebeb" stroke-width="1.3"/><line x1="1759.10" y1="650.3" x2="1759.10" y2="778.1" stroke="#ebebeb" stroke-width="1.3"/><line x1="1548.6" y1="672.10" x2="1767.9" y2="672.10" stroke="#ebebeb" stroke-width="1.3"/><line x1="1548.6" y1="699.60" x2="1767.9" y2="699.60" stroke="#ebebeb" stroke-width="1.3"/><line x1="1548.6" y1="727.10" x2="1767.9" y2="727.10" stroke="#ebebeb" stroke-width="1.3"/><line x1="1548.6" y1="754.60" x2="1767.9" y2="754.60" stroke="#ebebeb" stroke-width="1.3"/></g>
<g clip-path="url(#c_B4_10)" fill="#ffa500"><circle cx="1597.0" cy="714.3" r="2.4"/><circle cx="1596.5" cy="724.6" r="2.4"/><circle cx="1576.7" cy="728.7" r="2.4"/><circle cx="1565.0" cy="739.6" r="2.4"/><circle cx="1572.7" cy="739.1" r="2.4"/><circle cx="1574.1" cy="741.5" r="2.4"/><circle cx="1580.9" cy="738.5" r="2.4"/><circle cx="1579.8" cy="746.4" r="2.4"/><circle cx="1582.5" cy="745.1" r="2.4"/><circle cx="1593.1" cy="745.4" r="2.4"/><circle cx="1565.7" cy="750.1" r="2.4"/><circle cx="1586.1" cy="750.3" r="2.4"/><circle cx="1558.0" cy="755.2" r="2.4"/><circle cx="1558.3" cy="760.1" r="2.4"/><circle cx="1566.4" cy="759.4" r="2.4"/><circle cx="1577.5" cy="754.3" r="2.4"/><circle cx="1575.9" cy="755.9" r="2.4"/><circle cx="1574.3" cy="757.5" r="2.4"/><circle cx="1576.6" cy="759.6" r="2.4"/><circle cx="1574.8" cy="762.3" r="2.4"/><circle cx="1566.4" cy="763.3" r="2.4"/><circle cx="1568.5" cy="761.7" r="2.4"/><circle cx="1583.0" cy="758.9" r="2.4"/><circle cx="1591.7" cy="758.6" r="2.4"/><circle cx="1592.2" cy="759.6" r="2.4"/><circle cx="1598.4" cy="764.9" r="2.4"/><circle cx="1606.8" cy="766.5" r="2.4"/></g>
<polygon points="1558.3,746.7 1559.5,746.8 1560.7,747.0 1561.9,747.1 1563.2,747.2 1564.4,747.3 1565.6,747.4 1566.8,747.5 1568.0,747.5 1569.2,747.5 1570.4,747.6 1571.6,747.5 1572.8,747.5 1574.1,747.4 1575.3,747.3 1576.5,747.2 1577.7,747.0 1578.9,746.8 1580.1,746.5 1581.3,746.2 1582.5,745.8 1583.8,745.4 1585.0,745.0 1586.2,744.6 1587.4,744.1 1588.6,743.6 1589.8,743.0 1591.0,742.5 1592.2,741.9 1593.5,741.4 1594.7,740.8 1595.9,740.2 1597.1,739.6 1598.3,738.9 1599.5,738.3 1600.7,737.7 1602.0,737.1 1603.2,736.4 1604.4,735.8 1605.6,735.1 1606.8,734.5 1606.8,756.9 1605.6,756.7 1604.4,756.6 1603.2,756.4 1602.0,756.3 1600.7,756.1 1599.5,756.0 1598.3,755.9 1597.1,755.7 1595.9,755.6 1594.7,755.5 1593.5,755.4 1592.2,755.3 1591.0,755.2 1589.8,755.2 1588.6,755.1 1587.4,755.1 1586.2,755.1 1585.0,755.1 1583.8,755.2 1582.5,755.3 1581.3,755.4 1580.1,755.6 1578.9,755.8 1577.7,756.0 1576.5,756.3 1575.3,756.7 1574.1,757.1 1572.8,757.5 1571.6,757.9 1570.4,758.4 1569.2,758.9 1568.0,759.4 1566.8,760.0 1565.6,760.5 1564.4,761.1 1563.2,761.7 1561.9,762.3 1560.7,762.9 1559.5,763.5 1558.3,764.1" fill="#999999" fill-opacity="0.4" clip-path="url(#c_B4_10)"/>
<polyline points="1558.3,755.4 1559.5,755.2 1560.7,754.9 1561.9,754.7 1563.2,754.4 1564.4,754.2 1565.6,753.9 1566.8,753.7 1568.0,753.5 1569.2,753.2 1570.4,753.0 1571.6,752.7 1572.8,752.5 1574.1,752.2 1575.3,752.0 1576.5,751.8 1577.7,751.5 1578.9,751.3 1580.1,751.0 1581.3,750.8 1582.5,750.5 1583.8,750.3 1585.0,750.1 1586.2,749.8 1587.4,749.6 1588.6,749.3 1589.8,749.1 1591.0,748.9 1592.2,748.6 1593.5,748.4 1594.7,748.1 1595.9,747.9 1597.1,747.6 1598.3,747.4 1599.5,747.2 1600.7,746.9 1602.0,746.7 1603.2,746.4 1604.4,746.2 1605.6,745.9 1606.8,745.7" fill="none" stroke="#ffd700" stroke-width="2.8" clip-path="url(#c_B4_10)"/>
<path d="M1548.6,650.3V778.1M1767.9,650.3V778.1" stroke="#999999" stroke-width="1.3" fill="none"/>
<path d="M1548.0,650.3H1768.5" stroke="#555555" stroke-width="1.4" fill="none"/>
<path d="M1548.0,778.1H1768.5" stroke="#6a6a6a" stroke-width="1.2" fill="none"/>
<line x1="1544.60" y1="672.10" x2="1548.6" y2="672.10" stroke="#3a3a3a" stroke-width="1.3"/><line x1="1544.60" y1="699.60" x2="1548.6" y2="699.60" stroke="#3a3a3a" stroke-width="1.3"/><line x1="1544.60" y1="727.10" x2="1548.6" y2="727.10" stroke="#3a3a3a" stroke-width="1.3"/><line x1="1544.60" y1="754.60" x2="1548.6" y2="754.60" stroke="#3a3a3a" stroke-width="1.3"/><line x1="1553.30" y1="778.1" x2="1553.30" y2="782.10" stroke="#3a3a3a" stroke-width="1.3"/><line x1="1604.75" y1="778.1" x2="1604.75" y2="782.10" stroke="#3a3a3a" stroke-width="1.3"/><line x1="1656.20" y1="778.1" x2="1656.20" y2="782.10" stroke="#3a3a3a" stroke-width="1.3"/><line x1="1707.65" y1="778.1" x2="1707.65" y2="782.10" stroke="#3a3a3a" stroke-width="1.3"/><line x1="1759.10" y1="778.1" x2="1759.10" y2="782.10" stroke="#3a3a3a" stroke-width="1.3"/>
<text transform="translate(1541.80,677.76) scale(0.965,1)" text-anchor="end" font-size="15.8" stroke="#1a1a1a" stroke-width="0.3">3.0</text>
<text transform="translate(1541.80,705.26) scale(0.965,1)" text-anchor="end" font-size="15.8" stroke="#1a1a1a" stroke-width="0.3">2.5</text>
<text transform="translate(1541.80,732.76) scale(0.965,1)" text-anchor="end" font-size="15.8" stroke="#1a1a1a" stroke-width="0.3">2.0</text>
<text transform="translate(1541.80,760.26) scale(0.965,1)" text-anchor="end" font-size="15.8" stroke="#1a1a1a" stroke-width="0.3">1.5</text>
<text transform="translate(1553.30,796.30) scale(0.965,1)" text-anchor="middle" font-size="15.8" stroke="#1a1a1a" stroke-width="0.3">0</text>
<text transform="translate(1604.75,796.30) scale(0.965,1)" text-anchor="middle" font-size="15.8" stroke="#1a1a1a" stroke-width="0.3">5000</text>
<text transform="translate(1656.20,796.30) scale(0.965,1)" text-anchor="middle" font-size="15.8" stroke="#1a1a1a" stroke-width="0.3">10000</text>
<text transform="translate(1707.65,796.30) scale(0.965,1)" text-anchor="middle" font-size="15.8" stroke="#1a1a1a" stroke-width="0.3">15000</text>
<text transform="translate(1759.10,796.30) scale(0.965,1)" text-anchor="middle" font-size="15.8" stroke="#1a1a1a" stroke-width="0.3">20000</text>
<rect x="1775.4" y="621.3" width="219.30" height="29.00" fill="#d9d9d9"/>
<path d="M1775.4,621.3V650.3M1994.7,621.3V650.3" stroke="#999999" stroke-width="1.3" fill="none"/>
<path d="M1774.8000000000002,621.3H1995.3" stroke="#6a6a6a" stroke-width="1.2" fill="none"/>
<text x="1885.05" y="642.06" text-anchor="middle" font-size="17.5">A+/TN+</text>
<clipPath id="c_B4_11"><rect x="1775.4" y="650.3" width="219.30" height="127.80"/></clipPath>
<rect x="1775.4" y="650.3" width="219.30" height="127.80" fill="#fff"/>
<g clip-path="url(#c_B4_11)"><line x1="1805.82" y1="650.3" x2="1805.82" y2="778.1" stroke="#f3f3f3" stroke-width="0.8"/><line x1="1857.27" y1="650.3" x2="1857.27" y2="778.1" stroke="#f3f3f3" stroke-width="0.8"/><line x1="1908.72" y1="650.3" x2="1908.72" y2="778.1" stroke="#f3f3f3" stroke-width="0.8"/><line x1="1960.17" y1="650.3" x2="1960.17" y2="778.1" stroke="#f3f3f3" stroke-width="0.8"/><line x1="1775.4" y1="658.35" x2="1994.7" y2="658.35" stroke="#f3f3f3" stroke-width="0.8"/><line x1="1775.4" y1="685.85" x2="1994.7" y2="685.85" stroke="#f3f3f3" stroke-width="0.8"/><line x1="1775.4" y1="713.35" x2="1994.7" y2="713.35" stroke="#f3f3f3" stroke-width="0.8"/><line x1="1775.4" y1="740.85" x2="1994.7" y2="740.85" stroke="#f3f3f3" stroke-width="0.8"/><line x1="1775.4" y1="768.35" x2="1994.7" y2="768.35" stroke="#f3f3f3" stroke-width="0.8"/><line x1="1780.10" y1="650.3" x2="1780.10" y2="778.1" stroke="#ebebeb" stroke-width="1.3"/><line x1="1831.55" y1="650.3" x2="1831.55" y2="778.1" stroke="#ebebeb" stroke-width="1.3"/><line x1="1883.00" y1="650.3" x2="1883.00" y2="778.1" stroke="#ebebeb" stroke-width="1.3"/><line x1="1934.45" y1="650.3" x2="1934.45" y2="778.1" stroke="#ebebeb" stroke-width="1.3"/><line x1="1985.90" y1="650.3" x2="1985.90" y2="778.1" stroke="#ebebeb" stroke-width="1.3"/><line x1="1775.4" y1="672.10" x2="1994.7" y2="672.10" stroke="#ebebeb" stroke-width="1.3"/><line x1="1775.4" y1="699.60" x2="1994.7" y2="699.60" stroke="#ebebeb" stroke-width="1.3"/><line x1="1775.4" y1="727.10" x2="1994.7" y2="727.10" stroke="#ebebeb" stroke-width="1.3"/><line x1="1775.4" y1="754.60" x2="1994.7" y2="754.60" stroke="#ebebeb" stroke-width="1.3"/></g>
<g clip-path="url(#c_B4_11)" fill="#ffa500"><circle cx="1795.0" cy="655.8" r="2.4"/><circle cx="1802.6" cy="695.3" r="2.4"/><circle cx="1824.7" cy="695.7" r="2.4"/><circle cx="1826.3" cy="707.1" r="2.4"/><circle cx="1802.6" cy="711.4" r="2.4"/><circle cx="1796.0" cy="718.3" r="2.4"/><circle cx="1797.2" cy="719.8" r="2.4"/><circle cx="1813.6" cy="721.1" r="2.4"/><circle cx="1820.2" cy="723.2" r="2.4"/><circle cx="1824.3" cy="726.3" r="2.4"/><circle cx="1790.3" cy="730.3" r="2.4"/><circle cx="1797.2" cy="728.7" r="2.4"/><circle cx="1831.6" cy="734.1" r="2.4"/><circle cx="1828.2" cy="738.7" r="2.4"/><circle cx="1833.6" cy="739.8" r="2.4"/><circle cx="1854.7" cy="735.2" r="2.4"/><circle cx="1859.7" cy="734.9" r="2.4"/><circle cx="1797.0" cy="742.6" r="2.4"/><circle cx="1807.8" cy="740.6" r="2.4"/><circle cx="1836.6" cy="748.2" r="2.4"/><circle cx="1814.7" cy="753.6" r="2.4"/><circle cx="1815.9" cy="753.6" r="2.4"/><circle cx="1815.9" cy="759.4" r="2.4"/><circle cx="1849.2" cy="765.9" r="2.4"/></g>
<polygon points="1790.6,698.8 1792.3,700.4 1794.0,701.9 1795.8,703.4 1797.5,704.9 1799.2,706.4 1800.9,707.8 1802.6,709.3 1804.3,710.7 1806.1,712.0 1807.8,713.3 1809.5,714.6 1811.2,715.8 1812.9,717.0 1814.6,718.0 1816.4,719.0 1818.1,719.9 1819.8,720.7 1821.5,721.4 1823.2,722.1 1825.0,722.6 1826.7,723.1 1828.4,723.5 1830.1,723.8 1831.8,724.1 1833.5,724.3 1835.2,724.5 1837.0,724.7 1838.7,724.9 1840.4,725.0 1842.1,725.1 1843.8,725.1 1845.6,725.2 1847.3,725.2 1849.0,725.3 1850.7,725.3 1852.4,725.3 1854.2,725.3 1855.9,725.3 1857.6,725.3 1859.3,725.3 1859.3,769.7 1857.6,768.1 1855.9,766.5 1854.2,764.9 1852.4,763.3 1850.7,761.8 1849.0,760.2 1847.3,758.6 1845.6,757.1 1843.8,755.5 1842.1,754.0 1840.4,752.5 1838.7,751.1 1837.0,749.6 1835.2,748.2 1833.5,746.8 1831.8,745.5 1830.1,744.2 1828.4,742.9 1826.7,741.7 1825.0,740.6 1823.2,739.5 1821.5,738.6 1819.8,737.7 1818.1,736.9 1816.4,736.2 1814.6,735.6 1812.9,735.1 1811.2,734.7 1809.5,734.3 1807.8,734.0 1806.1,733.7 1804.3,733.5 1802.6,733.3 1800.9,733.1 1799.2,733.0 1797.5,732.9 1795.8,732.8 1794.0,732.7 1792.3,732.6 1790.6,732.6" fill="#999999" fill-opacity="0.4" clip-path="url(#c_B4_11)"/>
<polyline points="1790.6,715.7 1792.3,716.5 1794.0,717.3 1795.8,718.1 1797.5,718.9 1799.2,719.7 1800.9,720.5 1802.6,721.3 1804.3,722.1 1806.1,722.9 1807.8,723.6 1809.5,724.5 1811.2,725.2 1812.9,726.0 1814.6,726.8 1816.4,727.6 1818.1,728.4 1819.8,729.2 1821.5,730.0 1823.2,730.8 1825.0,731.6 1826.7,732.4 1828.4,733.2 1830.1,734.0 1831.8,734.8 1833.5,735.6 1835.2,736.4 1837.0,737.2 1838.7,738.0 1840.4,738.8 1842.1,739.5 1843.8,740.4 1845.6,741.1 1847.3,741.9 1849.0,742.7 1850.7,743.5 1852.4,744.3 1854.2,745.1 1855.9,745.9 1857.6,746.7 1859.3,747.5" fill="none" stroke="#ffd700" stroke-width="2.8" clip-path="url(#c_B4_11)"/>
<path d="M1775.4,650.3V778.1M1994.7,650.3V778.1" stroke="#999999" stroke-width="1.3" fill="none"/>
<path d="M1774.8000000000002,650.3H1995.3" stroke="#555555" stroke-width="1.4" fill="none"/>
<path d="M1774.8000000000002,778.1H1995.3" stroke="#6a6a6a" stroke-width="1.2" fill="none"/>
<line x1="1780.10" y1="778.1" x2="1780.10" y2="782.10" stroke="#3a3a3a" stroke-width="1.3"/><line x1="1831.55" y1="778.1" x2="1831.55" y2="782.10" stroke="#3a3a3a" stroke-width="1.3"/><line x1="1883.00" y1="778.1" x2="1883.00" y2="782.10" stroke="#3a3a3a" stroke-width="1.3"/><line x1="1934.45" y1="778.1" x2="1934.45" y2="782.10" stroke="#3a3a3a" stroke-width="1.3"/><line x1="1985.90" y1="778.1" x2="1985.90" y2="782.10" stroke="#3a3a3a" stroke-width="1.3"/>
<text transform="translate(1780.10,796.30) scale(0.965,1)" text-anchor="middle" font-size="15.8" stroke="#1a1a1a" stroke-width="0.3">0</text>
<text transform="translate(1831.55,796.30) scale(0.965,1)" text-anchor="middle" font-size="15.8" stroke="#1a1a1a" stroke-width="0.3">5000</text>
<text transform="translate(1883.00,796.30) scale(0.965,1)" text-anchor="middle" font-size="15.8" stroke="#1a1a1a" stroke-width="0.3">10000</text>
<text transform="translate(1934.45,796.30) scale(0.965,1)" text-anchor="middle" font-size="15.8" stroke="#1a1a1a" stroke-width="0.3">15000</text>
<text transform="translate(1985.90,796.30) scale(0.965,1)" text-anchor="middle" font-size="15.8" stroke="#1a1a1a" stroke-width="0.3">20000</text>
<text x="15.6" y="26.9" text-anchor="middle" font-size="31" textLength="21.6" lengthAdjust="spacingAndGlyphs" font-weight="bold" fill="#000" stroke="#000" stroke-width="0.7">A</text>
<text x="1025.2" y="32.0" text-anchor="middle" font-size="31" textLength="17.6" lengthAdjust="spacingAndGlyphs" font-weight="bold" fill="#000" stroke="#000" stroke-width="0.7">B</text>
<text x="265.95" y="393.2" text-anchor="middle" font-size="20" textLength="182.5" lengthAdjust="spacingAndGlyphs" >CSF sTREM2 (pg/ml)</text>
<text x="745.9" y="392.3" text-anchor="middle" font-size="20" textLength="182.6" lengthAdjust="spacingAndGlyphs" >CSF sTREM2 (pg/ml)</text>
<text x="241.2" y="824.4" text-anchor="middle" font-size="20" textLength="182.4" lengthAdjust="spacingAndGlyphs" >CSF sTREM2 (pg/ml)</text>
<text x="745.7" y="824.9" text-anchor="middle" font-size="20" textLength="181.8" lengthAdjust="spacingAndGlyphs" >CSF sTREM2 (pg/ml)</text>
<text x="1285.75" y="391.4" text-anchor="middle" font-size="20" textLength="182.1" lengthAdjust="spacingAndGlyphs" >CSF sTREM2 (pg/ml)</text>
<text x="1773.6" y="391.0" text-anchor="middle" font-size="20" textLength="182.0" lengthAdjust="spacingAndGlyphs" >CSF sTREM2 (pg/ml)</text>
<text x="1274.1" y="823.7" text-anchor="middle" font-size="20" textLength="182.4" lengthAdjust="spacingAndGlyphs" >CSF sTREM2 (pg/ml)</text>
<text x="1767.75" y="824.9" text-anchor="middle" font-size="20" textLength="182.1" lengthAdjust="spacingAndGlyphs" >CSF sTREM2 (pg/ml)</text>
<text transform="translate(23.7,194.7) rotate(-90)" text-anchor="middle" font-size="20" textLength="200.6" lengthAdjust="spacingAndGlyphs" >Aβ-PET rate of change</text>
<text transform="translate(491.9,195.8) rotate(-90)" text-anchor="middle" font-size="20" textLength="200.6" lengthAdjust="spacingAndGlyphs" >Aβ-PET rate of change</text>
<text transform="translate(31.1,614.6) rotate(-90)" text-anchor="middle" font-size="20" textLength="206.6" lengthAdjust="spacingAndGlyphs" >Tau-PET rate of change</text>
<text transform="translate(492.1,614.4) rotate(-90)" text-anchor="middle" font-size="20" textLength="206.6" lengthAdjust="spacingAndGlyphs" >Tau-PET rate of change</text>
<text transform="translate(1046.9,194.3) rotate(-90)" text-anchor="middle" font-size="20" textLength="64" lengthAdjust="spacingAndGlyphs" >Aβ-PET</text>
<text transform="translate(1512.3,194.3) rotate(-90)" text-anchor="middle" font-size="20" textLength="64" lengthAdjust="spacingAndGlyphs" >Aβ-PET</text>
<text transform="translate(1053.4,614.3) rotate(-90)" text-anchor="middle" font-size="20" textLength="69.8" lengthAdjust="spacingAndGlyphs" >Tau-PET</text>
<text transform="translate(1513.7,614.4) rotate(-90)" text-anchor="middle" font-size="20" textLength="70.1" lengthAdjust="spacingAndGlyphs" >Tau-PET</text>
<rect x="932.6" y="351" width="50" height="24" fill="#fff"/>
</svg></body></html>
